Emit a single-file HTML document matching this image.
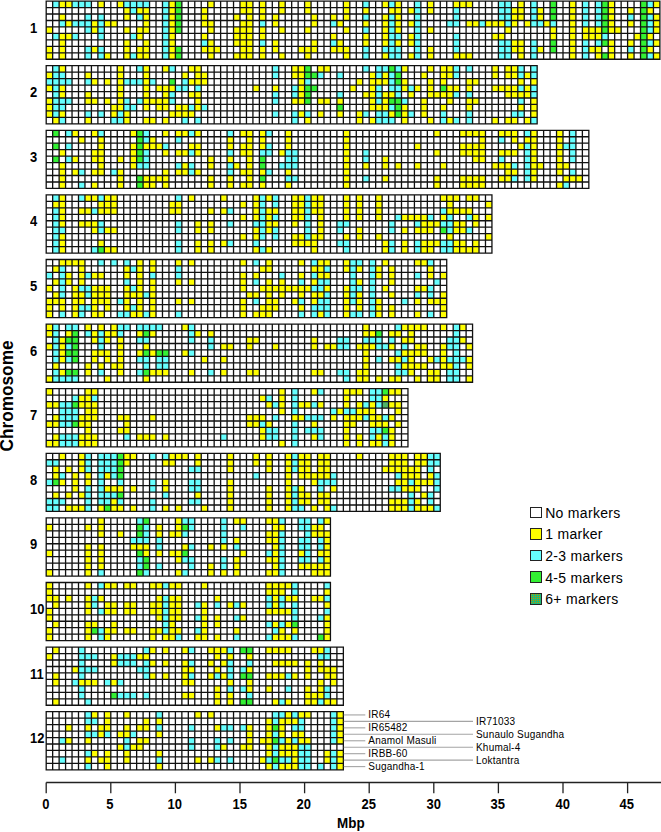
<!DOCTYPE html>
<html><head><meta charset="utf-8">
<style>
html,body{margin:0;padding:0;background:#fff;}
body{width:661px;height:832px;position:relative;overflow:hidden;font-family:"Liberation Sans",sans-serif;color:#000;}
.t{position:absolute;white-space:nowrap;line-height:1;}
.b{font-weight:bold;}
.ch{position:absolute;left:29.7px;font-weight:bold;font-size:13.8px;line-height:1;transform:scaleX(0.94);transform-origin:0 0;white-space:nowrap;}
.ax{position:absolute;top:797.5px;font-weight:bold;font-size:13.8px;line-height:1;width:40px;margin-left:-20px;text-align:center;white-space:nowrap;}
.ax span{display:inline-block;transform:scaleX(0.94);}
.lg{position:absolute;left:545.2px;font-size:14px;letter-spacing:0.3px;line-height:1;white-space:nowrap;}
.lb{position:absolute;left:530.1px;width:9.8px;height:9.6px;border:1px solid #222;}
.v{position:absolute;font-size:10px;letter-spacing:0.2px;line-height:1;white-space:nowrap;}
</style></head><body>
<svg width="661" height="832" viewBox="0 0 661 832" style="position:absolute;left:0;top:0">
<defs><pattern id="dp" width="2" height="2" patternUnits="userSpaceOnUse"><rect width="2" height="2" fill="#2dbd8a"/><rect x="0.5" y="0.5" width="1" height="1" fill="#b89b00"/></pattern><pattern id="dp2" width="2" height="2" patternUnits="userSpaceOnUse"><rect width="2" height="2" fill="#20b876"/><rect x="0" y="0" width="1" height="1" fill="#b39a00"/></pattern></defs>
<g transform="translate(46.2,1.10)">
<rect x="0" y="0" width="613.70" height="58.14" fill="#fff"/>
<rect x="6.46" y="0.00" width="6.46" height="6.46" fill="#66ffff"/>
<rect x="12.92" y="0.00" width="12.92" height="6.46" fill="#ffff00"/>
<rect x="25.84" y="0.00" width="19.38" height="6.46" fill="#66ffff"/>
<rect x="51.68" y="0.00" width="6.46" height="6.46" fill="#ffff00"/>
<rect x="71.06" y="0.00" width="6.46" height="6.46" fill="#ffff00"/>
<rect x="77.52" y="0.00" width="25.84" height="6.46" fill="#66ffff"/>
<rect x="116.28" y="0.00" width="6.46" height="6.46" fill="#66ffff"/>
<rect x="122.74" y="0.00" width="6.46" height="6.46" fill="#ffff00"/>
<rect x="129.20" y="0.00" width="6.46" height="6.46" fill="#33f033"/>
<rect x="161.50" y="0.00" width="6.46" height="6.46" fill="#ffff00"/>
<rect x="193.80" y="0.00" width="12.92" height="6.46" fill="#ffff00"/>
<rect x="213.18" y="0.00" width="6.46" height="6.46" fill="#ffff00"/>
<rect x="232.56" y="0.00" width="6.46" height="6.46" fill="#ffff00"/>
<rect x="258.40" y="0.00" width="6.46" height="6.46" fill="#ffff00"/>
<rect x="297.16" y="0.00" width="6.46" height="6.46" fill="#ffff00"/>
<rect x="316.54" y="0.00" width="6.46" height="6.46" fill="#66ffff"/>
<rect x="335.92" y="0.00" width="6.46" height="6.46" fill="#ffff00"/>
<rect x="342.38" y="0.00" width="6.46" height="6.46" fill="#66ffff"/>
<rect x="348.84" y="0.00" width="6.46" height="6.46" fill="#ffff00"/>
<rect x="368.22" y="0.00" width="6.46" height="6.46" fill="#66ffff"/>
<rect x="381.14" y="0.00" width="6.46" height="6.46" fill="#ffff00"/>
<rect x="406.98" y="0.00" width="19.38" height="6.46" fill="#ffff00"/>
<rect x="452.20" y="0.00" width="12.92" height="6.46" fill="#66ffff"/>
<rect x="471.58" y="0.00" width="6.46" height="6.46" fill="#ffff00"/>
<rect x="484.50" y="0.00" width="6.46" height="6.46" fill="#66ffff"/>
<rect x="503.88" y="0.00" width="6.46" height="6.46" fill="#33f033"/>
<rect x="523.26" y="0.00" width="6.46" height="6.46" fill="#ffff00"/>
<rect x="536.18" y="0.00" width="6.46" height="6.46" fill="#66ffff"/>
<rect x="549.10" y="0.00" width="6.46" height="6.46" fill="#66ffff"/>
<rect x="555.56" y="0.00" width="6.46" height="6.46" fill="#33f033"/>
<rect x="562.02" y="0.00" width="6.46" height="6.46" fill="#ffff00"/>
<rect x="594.32" y="0.00" width="6.46" height="6.46" fill="#33f033"/>
<rect x="600.78" y="0.00" width="6.46" height="6.46" fill="#66ffff"/>
<rect x="607.24" y="0.00" width="6.46" height="6.46" fill="#ffff00"/>
<rect x="77.52" y="6.46" width="6.46" height="6.46" fill="#ffff00"/>
<rect x="83.98" y="6.46" width="6.46" height="6.46" fill="#66ffff"/>
<rect x="90.44" y="6.46" width="12.92" height="6.46" fill="#ffff00"/>
<rect x="116.28" y="6.46" width="6.46" height="6.46" fill="#66ffff"/>
<rect x="122.74" y="6.46" width="6.46" height="6.46" fill="#ffff00"/>
<rect x="129.20" y="6.46" width="6.46" height="6.46" fill="#33f033"/>
<rect x="155.04" y="6.46" width="6.46" height="6.46" fill="#ffff00"/>
<rect x="193.80" y="6.46" width="12.92" height="6.46" fill="#ffff00"/>
<rect x="213.18" y="6.46" width="6.46" height="6.46" fill="#ffff00"/>
<rect x="232.56" y="6.46" width="6.46" height="6.46" fill="#ffff00"/>
<rect x="258.40" y="6.46" width="6.46" height="6.46" fill="#ffff00"/>
<rect x="297.16" y="6.46" width="6.46" height="6.46" fill="#ffff00"/>
<rect x="316.54" y="6.46" width="6.46" height="6.46" fill="#ffff00"/>
<rect x="342.38" y="6.46" width="12.92" height="6.46" fill="#ffff00"/>
<rect x="361.76" y="6.46" width="6.46" height="6.46" fill="#ffff00"/>
<rect x="368.22" y="6.46" width="6.46" height="6.46" fill="#66ffff"/>
<rect x="381.14" y="6.46" width="6.46" height="6.46" fill="#ffff00"/>
<rect x="406.98" y="6.46" width="6.46" height="6.46" fill="#66ffff"/>
<rect x="452.20" y="6.46" width="12.92" height="6.46" fill="#66ffff"/>
<rect x="465.12" y="6.46" width="12.92" height="6.46" fill="#ffff00"/>
<rect x="484.50" y="6.46" width="6.46" height="6.46" fill="#66ffff"/>
<rect x="490.96" y="6.46" width="6.46" height="6.46" fill="#ffff00"/>
<rect x="503.88" y="6.46" width="6.46" height="6.46" fill="#33f033"/>
<rect x="523.26" y="6.46" width="6.46" height="6.46" fill="#ffff00"/>
<rect x="536.18" y="6.46" width="6.46" height="6.46" fill="#66ffff"/>
<rect x="549.10" y="6.46" width="6.46" height="6.46" fill="#66ffff"/>
<rect x="555.56" y="6.46" width="6.46" height="6.46" fill="#33f033"/>
<rect x="562.02" y="6.46" width="6.46" height="6.46" fill="#ffff00"/>
<rect x="581.40" y="6.46" width="6.46" height="6.46" fill="#ffff00"/>
<rect x="594.32" y="6.46" width="6.46" height="6.46" fill="#33f033"/>
<rect x="600.78" y="6.46" width="6.46" height="6.46" fill="#ffff00"/>
<rect x="12.92" y="12.92" width="6.46" height="6.46" fill="#ffff00"/>
<rect x="38.76" y="12.92" width="6.46" height="6.46" fill="#66ffff"/>
<rect x="51.68" y="12.92" width="6.46" height="6.46" fill="#66ffff"/>
<rect x="77.52" y="12.92" width="6.46" height="6.46" fill="#ffff00"/>
<rect x="90.44" y="12.92" width="6.46" height="6.46" fill="#66ffff"/>
<rect x="96.90" y="12.92" width="6.46" height="6.46" fill="#ffff00"/>
<rect x="116.28" y="12.92" width="6.46" height="6.46" fill="#66ffff"/>
<rect x="122.74" y="12.92" width="6.46" height="6.46" fill="#ffff00"/>
<rect x="129.20" y="12.92" width="6.46" height="6.46" fill="#33f033"/>
<rect x="155.04" y="12.92" width="6.46" height="6.46" fill="#ffff00"/>
<rect x="187.34" y="12.92" width="6.46" height="6.46" fill="#ffff00"/>
<rect x="200.26" y="12.92" width="6.46" height="6.46" fill="#ffff00"/>
<rect x="213.18" y="12.92" width="6.46" height="6.46" fill="#ffff00"/>
<rect x="226.10" y="12.92" width="6.46" height="6.46" fill="#ffff00"/>
<rect x="264.86" y="12.92" width="6.46" height="6.46" fill="#ffff00"/>
<rect x="284.24" y="12.92" width="6.46" height="6.46" fill="#ffff00"/>
<rect x="297.16" y="12.92" width="6.46" height="6.46" fill="#ffff00"/>
<rect x="316.54" y="12.92" width="6.46" height="6.46" fill="#66ffff"/>
<rect x="335.92" y="12.92" width="6.46" height="6.46" fill="#ffff00"/>
<rect x="342.38" y="12.92" width="6.46" height="6.46" fill="#66ffff"/>
<rect x="348.84" y="12.92" width="6.46" height="6.46" fill="#ffff00"/>
<rect x="368.22" y="12.92" width="6.46" height="6.46" fill="#66ffff"/>
<rect x="406.98" y="12.92" width="6.46" height="6.46" fill="#66ffff"/>
<rect x="452.20" y="12.92" width="12.92" height="6.46" fill="#66ffff"/>
<rect x="465.12" y="12.92" width="12.92" height="6.46" fill="#ffff00"/>
<rect x="484.50" y="12.92" width="6.46" height="6.46" fill="#66ffff"/>
<rect x="490.96" y="12.92" width="6.46" height="6.46" fill="#ffff00"/>
<rect x="503.88" y="12.92" width="6.46" height="6.46" fill="#33f033"/>
<rect x="523.26" y="12.92" width="6.46" height="6.46" fill="#ffff00"/>
<rect x="536.18" y="12.92" width="6.46" height="6.46" fill="#66ffff"/>
<rect x="549.10" y="12.92" width="6.46" height="6.46" fill="#66ffff"/>
<rect x="555.56" y="12.92" width="6.46" height="6.46" fill="#33f033"/>
<rect x="562.02" y="12.92" width="6.46" height="6.46" fill="#ffff00"/>
<rect x="581.40" y="12.92" width="6.46" height="6.46" fill="#66ffff"/>
<rect x="594.32" y="12.92" width="6.46" height="6.46" fill="#33f033"/>
<rect x="600.78" y="12.92" width="6.46" height="6.46" fill="#66ffff"/>
<rect x="607.24" y="12.92" width="6.46" height="6.46" fill="#ffff00"/>
<rect x="12.92" y="19.38" width="6.46" height="6.46" fill="#66ffff"/>
<rect x="19.38" y="19.38" width="6.46" height="6.46" fill="#ffff00"/>
<rect x="25.84" y="19.38" width="19.38" height="6.46" fill="#66ffff"/>
<rect x="45.22" y="19.38" width="6.46" height="6.46" fill="#ffff00"/>
<rect x="51.68" y="19.38" width="6.46" height="6.46" fill="#66ffff"/>
<rect x="58.14" y="19.38" width="12.92" height="6.46" fill="#ffff00"/>
<rect x="96.90" y="19.38" width="6.46" height="6.46" fill="#ffff00"/>
<rect x="116.28" y="19.38" width="6.46" height="6.46" fill="#66ffff"/>
<rect x="122.74" y="19.38" width="6.46" height="6.46" fill="#ffff00"/>
<rect x="129.20" y="19.38" width="6.46" height="6.46" fill="#33f033"/>
<rect x="155.04" y="19.38" width="12.92" height="6.46" fill="#ffff00"/>
<rect x="193.80" y="19.38" width="12.92" height="6.46" fill="#ffff00"/>
<rect x="213.18" y="19.38" width="6.46" height="6.46" fill="#66ffff"/>
<rect x="226.10" y="19.38" width="6.46" height="6.46" fill="#ffff00"/>
<rect x="264.86" y="19.38" width="6.46" height="6.46" fill="#ffff00"/>
<rect x="284.24" y="19.38" width="6.46" height="6.46" fill="#66ffff"/>
<rect x="290.70" y="19.38" width="6.46" height="6.46" fill="#ffff00"/>
<rect x="316.54" y="19.38" width="6.46" height="6.46" fill="#ffff00"/>
<rect x="335.92" y="19.38" width="6.46" height="6.46" fill="#ffff00"/>
<rect x="342.38" y="19.38" width="6.46" height="6.46" fill="#66ffff"/>
<rect x="348.84" y="19.38" width="6.46" height="6.46" fill="#ffff00"/>
<rect x="361.76" y="19.38" width="6.46" height="6.46" fill="#ffff00"/>
<rect x="368.22" y="19.38" width="6.46" height="6.46" fill="#66ffff"/>
<rect x="400.52" y="19.38" width="12.92" height="6.46" fill="#66ffff"/>
<rect x="419.90" y="19.38" width="12.92" height="6.46" fill="#ffff00"/>
<rect x="432.82" y="19.38" width="6.46" height="6.46" fill="#66ffff"/>
<rect x="439.28" y="19.38" width="19.38" height="6.46" fill="#ffff00"/>
<rect x="458.66" y="19.38" width="6.46" height="6.46" fill="#66ffff"/>
<rect x="465.12" y="19.38" width="6.46" height="6.46" fill="#ffff00"/>
<rect x="478.04" y="19.38" width="6.46" height="6.46" fill="#ffff00"/>
<rect x="484.50" y="19.38" width="12.92" height="6.46" fill="#66ffff"/>
<rect x="497.42" y="19.38" width="6.46" height="6.46" fill="#ffff00"/>
<rect x="503.88" y="19.38" width="6.46" height="6.46" fill="#66ffff"/>
<rect x="523.26" y="19.38" width="6.46" height="6.46" fill="#ffff00"/>
<rect x="536.18" y="19.38" width="6.46" height="6.46" fill="#66ffff"/>
<rect x="549.10" y="19.38" width="6.46" height="6.46" fill="#66ffff"/>
<rect x="555.56" y="19.38" width="6.46" height="6.46" fill="#33f033"/>
<rect x="562.02" y="19.38" width="6.46" height="6.46" fill="#ffff00"/>
<rect x="581.40" y="19.38" width="6.46" height="6.46" fill="#ffff00"/>
<rect x="594.32" y="19.38" width="6.46" height="6.46" fill="#33f033"/>
<rect x="600.78" y="19.38" width="6.46" height="6.46" fill="#66ffff"/>
<rect x="607.24" y="19.38" width="6.46" height="6.46" fill="#ffff00"/>
<rect x="0.00" y="25.84" width="6.46" height="6.46" fill="#ffff00"/>
<rect x="38.76" y="25.84" width="6.46" height="6.46" fill="#66ffff"/>
<rect x="45.22" y="25.84" width="6.46" height="6.46" fill="#ffff00"/>
<rect x="51.68" y="25.84" width="6.46" height="6.46" fill="#66ffff"/>
<rect x="77.52" y="25.84" width="6.46" height="6.46" fill="#ffff00"/>
<rect x="90.44" y="25.84" width="12.92" height="6.46" fill="#ffff00"/>
<rect x="116.28" y="25.84" width="6.46" height="6.46" fill="#66ffff"/>
<rect x="122.74" y="25.84" width="6.46" height="6.46" fill="#ffff00"/>
<rect x="129.20" y="25.84" width="6.46" height="6.46" fill="#33f033"/>
<rect x="161.50" y="25.84" width="6.46" height="6.46" fill="#ffff00"/>
<rect x="187.34" y="25.84" width="19.38" height="6.46" fill="#ffff00"/>
<rect x="213.18" y="25.84" width="6.46" height="6.46" fill="#ffff00"/>
<rect x="232.56" y="25.84" width="6.46" height="6.46" fill="#ffff00"/>
<rect x="258.40" y="25.84" width="6.46" height="6.46" fill="#ffff00"/>
<rect x="297.16" y="25.84" width="6.46" height="6.46" fill="#ffff00"/>
<rect x="316.54" y="25.84" width="6.46" height="6.46" fill="#66ffff"/>
<rect x="335.92" y="25.84" width="6.46" height="6.46" fill="#ffff00"/>
<rect x="342.38" y="25.84" width="6.46" height="6.46" fill="#66ffff"/>
<rect x="348.84" y="25.84" width="6.46" height="6.46" fill="#ffff00"/>
<rect x="368.22" y="25.84" width="6.46" height="6.46" fill="#66ffff"/>
<rect x="381.14" y="25.84" width="6.46" height="6.46" fill="#ffff00"/>
<rect x="458.66" y="25.84" width="6.46" height="6.46" fill="#ffff00"/>
<rect x="503.88" y="25.84" width="6.46" height="6.46" fill="#ffff00"/>
<rect x="523.26" y="25.84" width="6.46" height="6.46" fill="#ffff00"/>
<rect x="536.18" y="25.84" width="19.38" height="6.46" fill="#ffff00"/>
<rect x="555.56" y="25.84" width="6.46" height="6.46" fill="#33f033"/>
<rect x="562.02" y="25.84" width="12.92" height="6.46" fill="#ffff00"/>
<rect x="594.32" y="25.84" width="6.46" height="6.46" fill="#33f033"/>
<rect x="600.78" y="25.84" width="6.46" height="6.46" fill="#66ffff"/>
<rect x="607.24" y="25.84" width="6.46" height="6.46" fill="#ffff00"/>
<rect x="6.46" y="32.30" width="6.46" height="6.46" fill="#66ffff"/>
<rect x="12.92" y="32.30" width="12.92" height="6.46" fill="#ffff00"/>
<rect x="25.84" y="32.30" width="6.46" height="6.46" fill="#66ffff"/>
<rect x="51.68" y="32.30" width="6.46" height="6.46" fill="#66ffff"/>
<rect x="83.98" y="32.30" width="6.46" height="6.46" fill="#66ffff"/>
<rect x="90.44" y="32.30" width="6.46" height="6.46" fill="#ffff00"/>
<rect x="116.28" y="32.30" width="6.46" height="6.46" fill="#66ffff"/>
<rect x="122.74" y="32.30" width="6.46" height="6.46" fill="#ffff00"/>
<rect x="155.04" y="32.30" width="6.46" height="6.46" fill="#ffff00"/>
<rect x="187.34" y="32.30" width="19.38" height="6.46" fill="#ffff00"/>
<rect x="213.18" y="32.30" width="6.46" height="6.46" fill="#ffff00"/>
<rect x="284.24" y="32.30" width="6.46" height="6.46" fill="#ffff00"/>
<rect x="316.54" y="32.30" width="6.46" height="6.46" fill="#ffff00"/>
<rect x="335.92" y="32.30" width="6.46" height="6.46" fill="#ffff00"/>
<rect x="342.38" y="32.30" width="12.92" height="6.46" fill="#66ffff"/>
<rect x="361.76" y="32.30" width="6.46" height="6.46" fill="#ffff00"/>
<rect x="368.22" y="32.30" width="6.46" height="6.46" fill="#66ffff"/>
<rect x="406.98" y="32.30" width="6.46" height="6.46" fill="#66ffff"/>
<rect x="445.74" y="32.30" width="12.92" height="6.46" fill="#ffff00"/>
<rect x="503.88" y="32.30" width="6.46" height="6.46" fill="#ffff00"/>
<rect x="523.26" y="32.30" width="6.46" height="6.46" fill="#ffff00"/>
<rect x="536.18" y="32.30" width="19.38" height="6.46" fill="#ffff00"/>
<rect x="555.56" y="32.30" width="6.46" height="6.46" fill="#66ffff"/>
<rect x="587.86" y="32.30" width="6.46" height="6.46" fill="#ffff00"/>
<rect x="594.32" y="32.30" width="6.46" height="6.46" fill="#33f033"/>
<rect x="600.78" y="32.30" width="6.46" height="6.46" fill="#ffff00"/>
<rect x="12.92" y="38.76" width="6.46" height="6.46" fill="#ffff00"/>
<rect x="77.52" y="38.76" width="6.46" height="6.46" fill="#ffff00"/>
<rect x="96.90" y="38.76" width="6.46" height="6.46" fill="#ffff00"/>
<rect x="116.28" y="38.76" width="6.46" height="6.46" fill="#66ffff"/>
<rect x="122.74" y="38.76" width="6.46" height="6.46" fill="#ffff00"/>
<rect x="155.04" y="38.76" width="6.46" height="6.46" fill="#66ffff"/>
<rect x="161.50" y="38.76" width="6.46" height="6.46" fill="#ffff00"/>
<rect x="187.34" y="38.76" width="19.38" height="6.46" fill="#ffff00"/>
<rect x="213.18" y="38.76" width="6.46" height="6.46" fill="#66ffff"/>
<rect x="226.10" y="38.76" width="6.46" height="6.46" fill="#ffff00"/>
<rect x="264.86" y="38.76" width="6.46" height="6.46" fill="#ffff00"/>
<rect x="284.24" y="38.76" width="6.46" height="6.46" fill="#66ffff"/>
<rect x="290.70" y="38.76" width="6.46" height="6.46" fill="#ffff00"/>
<rect x="316.54" y="38.76" width="6.46" height="6.46" fill="#ffff00"/>
<rect x="335.92" y="38.76" width="6.46" height="6.46" fill="#ffff00"/>
<rect x="342.38" y="38.76" width="6.46" height="6.46" fill="#66ffff"/>
<rect x="348.84" y="38.76" width="6.46" height="6.46" fill="#ffff00"/>
<rect x="361.76" y="38.76" width="6.46" height="6.46" fill="#ffff00"/>
<rect x="368.22" y="38.76" width="6.46" height="6.46" fill="#66ffff"/>
<rect x="406.98" y="38.76" width="6.46" height="6.46" fill="#66ffff"/>
<rect x="452.20" y="38.76" width="12.92" height="6.46" fill="#66ffff"/>
<rect x="465.12" y="38.76" width="12.92" height="6.46" fill="#ffff00"/>
<rect x="484.50" y="38.76" width="6.46" height="6.46" fill="#66ffff"/>
<rect x="503.88" y="38.76" width="6.46" height="6.46" fill="#33f033"/>
<rect x="523.26" y="38.76" width="6.46" height="6.46" fill="#ffff00"/>
<rect x="536.18" y="38.76" width="6.46" height="6.46" fill="#66ffff"/>
<rect x="549.10" y="38.76" width="6.46" height="6.46" fill="#66ffff"/>
<rect x="555.56" y="38.76" width="6.46" height="6.46" fill="#33f033"/>
<rect x="562.02" y="38.76" width="6.46" height="6.46" fill="#ffff00"/>
<rect x="581.40" y="38.76" width="6.46" height="6.46" fill="#ffff00"/>
<rect x="594.32" y="38.76" width="6.46" height="6.46" fill="#33f033"/>
<rect x="600.78" y="38.76" width="6.46" height="6.46" fill="#66ffff"/>
<rect x="607.24" y="38.76" width="6.46" height="6.46" fill="#ffff00"/>
<rect x="0.00" y="45.22" width="6.46" height="6.46" fill="#ffff00"/>
<rect x="12.92" y="45.22" width="6.46" height="6.46" fill="#ffff00"/>
<rect x="38.76" y="45.22" width="6.46" height="6.46" fill="#66ffff"/>
<rect x="45.22" y="45.22" width="6.46" height="6.46" fill="#ffff00"/>
<rect x="51.68" y="45.22" width="6.46" height="6.46" fill="#66ffff"/>
<rect x="77.52" y="45.22" width="6.46" height="6.46" fill="#ffff00"/>
<rect x="90.44" y="45.22" width="12.92" height="6.46" fill="#ffff00"/>
<rect x="116.28" y="45.22" width="6.46" height="6.46" fill="#66ffff"/>
<rect x="122.74" y="45.22" width="6.46" height="6.46" fill="#ffff00"/>
<rect x="129.20" y="45.22" width="6.46" height="6.46" fill="#33f033"/>
<rect x="155.04" y="45.22" width="19.38" height="6.46" fill="#ffff00"/>
<rect x="193.80" y="45.22" width="12.92" height="6.46" fill="#ffff00"/>
<rect x="213.18" y="45.22" width="6.46" height="6.46" fill="#ffff00"/>
<rect x="226.10" y="45.22" width="6.46" height="6.46" fill="#ffff00"/>
<rect x="251.94" y="45.22" width="19.38" height="6.46" fill="#ffff00"/>
<rect x="284.24" y="45.22" width="19.38" height="6.46" fill="#ffff00"/>
<rect x="316.54" y="45.22" width="6.46" height="6.46" fill="#66ffff"/>
<rect x="335.92" y="45.22" width="19.38" height="6.46" fill="#66ffff"/>
<rect x="368.22" y="45.22" width="6.46" height="6.46" fill="#66ffff"/>
<rect x="381.14" y="45.22" width="6.46" height="6.46" fill="#ffff00"/>
<rect x="406.98" y="45.22" width="6.46" height="6.46" fill="#66ffff"/>
<rect x="452.20" y="45.22" width="12.92" height="6.46" fill="#66ffff"/>
<rect x="465.12" y="45.22" width="12.92" height="6.46" fill="#ffff00"/>
<rect x="484.50" y="45.22" width="6.46" height="6.46" fill="#66ffff"/>
<rect x="490.96" y="45.22" width="6.46" height="6.46" fill="#ffff00"/>
<rect x="503.88" y="45.22" width="6.46" height="6.46" fill="#33f033"/>
<rect x="523.26" y="45.22" width="6.46" height="6.46" fill="#ffff00"/>
<rect x="536.18" y="45.22" width="6.46" height="6.46" fill="#66ffff"/>
<rect x="542.64" y="45.22" width="12.92" height="6.46" fill="#ffff00"/>
<rect x="562.02" y="45.22" width="6.46" height="6.46" fill="#ffff00"/>
<rect x="581.40" y="45.22" width="6.46" height="6.46" fill="#66ffff"/>
<rect x="594.32" y="45.22" width="6.46" height="6.46" fill="#33f033"/>
<rect x="600.78" y="45.22" width="6.46" height="6.46" fill="#ffff00"/>
<rect x="0.00" y="51.68" width="6.46" height="6.46" fill="#ffff00"/>
<rect x="12.92" y="51.68" width="6.46" height="6.46" fill="#ffff00"/>
<rect x="38.76" y="51.68" width="6.46" height="6.46" fill="#66ffff"/>
<rect x="51.68" y="51.68" width="6.46" height="6.46" fill="#66ffff"/>
<rect x="58.14" y="51.68" width="6.46" height="6.46" fill="#ffff00"/>
<rect x="77.52" y="51.68" width="6.46" height="6.46" fill="#ffff00"/>
<rect x="83.98" y="51.68" width="6.46" height="6.46" fill="#66ffff"/>
<rect x="90.44" y="51.68" width="12.92" height="6.46" fill="#ffff00"/>
<rect x="116.28" y="51.68" width="6.46" height="6.46" fill="#66ffff"/>
<rect x="122.74" y="51.68" width="6.46" height="6.46" fill="#ffff00"/>
<rect x="129.20" y="51.68" width="6.46" height="6.46" fill="#33f033"/>
<rect x="161.50" y="51.68" width="6.46" height="6.46" fill="#ffff00"/>
<rect x="187.34" y="51.68" width="19.38" height="6.46" fill="#ffff00"/>
<rect x="213.18" y="51.68" width="6.46" height="6.46" fill="#ffff00"/>
<rect x="232.56" y="51.68" width="6.46" height="6.46" fill="#ffff00"/>
<rect x="258.40" y="51.68" width="6.46" height="6.46" fill="#ffff00"/>
<rect x="297.16" y="51.68" width="6.46" height="6.46" fill="#ffff00"/>
<rect x="316.54" y="51.68" width="6.46" height="6.46" fill="#66ffff"/>
<rect x="335.92" y="51.68" width="6.46" height="6.46" fill="#ffff00"/>
<rect x="342.38" y="51.68" width="12.92" height="6.46" fill="#66ffff"/>
<rect x="361.76" y="51.68" width="6.46" height="6.46" fill="#ffff00"/>
<rect x="368.22" y="51.68" width="6.46" height="6.46" fill="#66ffff"/>
<rect x="381.14" y="51.68" width="6.46" height="6.46" fill="#ffff00"/>
<rect x="406.98" y="51.68" width="19.38" height="6.46" fill="#ffff00"/>
<rect x="452.20" y="51.68" width="12.92" height="6.46" fill="#66ffff"/>
<rect x="471.58" y="51.68" width="6.46" height="6.46" fill="#ffff00"/>
<rect x="484.50" y="51.68" width="6.46" height="6.46" fill="#66ffff"/>
<rect x="523.26" y="51.68" width="6.46" height="6.46" fill="#ffff00"/>
<rect x="536.18" y="51.68" width="6.46" height="6.46" fill="#66ffff"/>
<rect x="549.10" y="51.68" width="6.46" height="6.46" fill="#ffff00"/>
<rect x="555.56" y="51.68" width="6.46" height="6.46" fill="#33f033"/>
<rect x="562.02" y="51.68" width="6.46" height="6.46" fill="#ffff00"/>
<rect x="581.40" y="51.68" width="6.46" height="6.46" fill="#ffff00"/>
<rect x="594.32" y="51.68" width="6.46" height="6.46" fill="#33f033"/>
<rect x="600.78" y="51.68" width="6.46" height="6.46" fill="#66ffff"/>
<rect x="607.24" y="51.68" width="6.46" height="6.46" fill="#ffff00"/>
<path d="M0.00 0V58.14M6.46 0V58.14M12.92 0V58.14M19.38 0V58.14M25.84 0V58.14M32.30 0V58.14M38.76 0V58.14M45.22 0V58.14M51.68 0V58.14M58.14 0V58.14M64.60 0V58.14M71.06 0V58.14M77.52 0V58.14M83.98 0V58.14M90.44 0V58.14M96.90 0V58.14M103.36 0V58.14M109.82 0V58.14M116.28 0V58.14M122.74 0V58.14M129.20 0V58.14M135.66 0V58.14M142.12 0V58.14M148.58 0V58.14M155.04 0V58.14M161.50 0V58.14M167.96 0V58.14M174.42 0V58.14M180.88 0V58.14M187.34 0V58.14M193.80 0V58.14M200.26 0V58.14M206.72 0V58.14M213.18 0V58.14M219.64 0V58.14M226.10 0V58.14M232.56 0V58.14M239.02 0V58.14M245.48 0V58.14M251.94 0V58.14M258.40 0V58.14M264.86 0V58.14M271.32 0V58.14M277.78 0V58.14M284.24 0V58.14M290.70 0V58.14M297.16 0V58.14M303.62 0V58.14M310.08 0V58.14M316.54 0V58.14M323.00 0V58.14M329.46 0V58.14M335.92 0V58.14M342.38 0V58.14M348.84 0V58.14M355.30 0V58.14M361.76 0V58.14M368.22 0V58.14M374.68 0V58.14M381.14 0V58.14M387.60 0V58.14M394.06 0V58.14M400.52 0V58.14M406.98 0V58.14M413.44 0V58.14M419.90 0V58.14M426.36 0V58.14M432.82 0V58.14M439.28 0V58.14M445.74 0V58.14M452.20 0V58.14M458.66 0V58.14M465.12 0V58.14M471.58 0V58.14M478.04 0V58.14M484.50 0V58.14M490.96 0V58.14M497.42 0V58.14M503.88 0V58.14M510.34 0V58.14M516.80 0V58.14M523.26 0V58.14M529.72 0V58.14M536.18 0V58.14M542.64 0V58.14M549.10 0V58.14M555.56 0V58.14M562.02 0V58.14M568.48 0V58.14M574.94 0V58.14M581.40 0V58.14M587.86 0V58.14M594.32 0V58.14M600.78 0V58.14M607.24 0V58.14M613.70 0V58.14M0 0.00H613.70M0 6.46H613.70M0 12.92H613.70M0 19.38H613.70M0 25.84H613.70M0 32.30H613.70M0 38.76H613.70M0 45.22H613.70M0 51.68H613.70M0 58.14H613.70" stroke="#111" stroke-width="1.3" fill="none" stroke-linecap="square"/>
</g>
<g transform="translate(46.2,65.70)">
<rect x="0" y="0" width="490.96" height="58.14" fill="#fff"/>
<rect x="6.46" y="0.00" width="6.46" height="6.46" fill="#66ffff"/>
<rect x="12.92" y="0.00" width="6.46" height="6.46" fill="#ffff00"/>
<rect x="71.06" y="0.00" width="6.46" height="6.46" fill="#ffff00"/>
<rect x="90.44" y="0.00" width="6.46" height="6.46" fill="#66ffff"/>
<rect x="96.90" y="0.00" width="6.46" height="6.46" fill="#ffff00"/>
<rect x="116.28" y="0.00" width="6.46" height="6.46" fill="#ffff00"/>
<rect x="122.74" y="0.00" width="6.46" height="6.46" fill="#66ffff"/>
<rect x="142.12" y="0.00" width="12.92" height="6.46" fill="#ffff00"/>
<rect x="226.10" y="0.00" width="6.46" height="6.46" fill="#66ffff"/>
<rect x="245.48" y="0.00" width="12.92" height="6.46" fill="#ffff00"/>
<rect x="258.40" y="0.00" width="6.46" height="6.46" fill="#33f033"/>
<rect x="271.32" y="0.00" width="12.92" height="6.46" fill="#ffff00"/>
<rect x="316.54" y="0.00" width="6.46" height="6.46" fill="#66ffff"/>
<rect x="329.46" y="0.00" width="12.92" height="6.46" fill="#66ffff"/>
<rect x="342.38" y="0.00" width="6.46" height="6.46" fill="#33f033"/>
<rect x="348.84" y="0.00" width="6.46" height="6.46" fill="#66ffff"/>
<rect x="355.30" y="0.00" width="6.46" height="6.46" fill="#ffff00"/>
<rect x="381.14" y="0.00" width="6.46" height="6.46" fill="#ffff00"/>
<rect x="394.06" y="0.00" width="12.92" height="6.46" fill="#ffff00"/>
<rect x="406.98" y="0.00" width="6.46" height="6.46" fill="#66ffff"/>
<rect x="419.90" y="0.00" width="6.46" height="6.46" fill="#66ffff"/>
<rect x="445.74" y="0.00" width="6.46" height="6.46" fill="#ffff00"/>
<rect x="458.66" y="0.00" width="12.92" height="6.46" fill="#ffff00"/>
<rect x="471.58" y="0.00" width="6.46" height="6.46" fill="#66ffff"/>
<rect x="484.50" y="0.00" width="6.46" height="6.46" fill="#66ffff"/>
<rect x="0.00" y="6.46" width="6.46" height="6.46" fill="#ffff00"/>
<rect x="6.46" y="6.46" width="12.92" height="6.46" fill="#66ffff"/>
<rect x="38.76" y="6.46" width="6.46" height="6.46" fill="#ffff00"/>
<rect x="71.06" y="6.46" width="6.46" height="6.46" fill="#ffff00"/>
<rect x="96.90" y="6.46" width="6.46" height="6.46" fill="#ffff00"/>
<rect x="135.66" y="6.46" width="6.46" height="6.46" fill="#ffff00"/>
<rect x="148.58" y="6.46" width="12.92" height="6.46" fill="#ffff00"/>
<rect x="226.10" y="6.46" width="6.46" height="6.46" fill="#66ffff"/>
<rect x="245.48" y="6.46" width="12.92" height="6.46" fill="#ffff00"/>
<rect x="258.40" y="6.46" width="12.92" height="6.46" fill="#33f033"/>
<rect x="271.32" y="6.46" width="6.46" height="6.46" fill="#66ffff"/>
<rect x="290.70" y="6.46" width="6.46" height="6.46" fill="#66ffff"/>
<rect x="323.00" y="6.46" width="6.46" height="6.46" fill="#ffff00"/>
<rect x="329.46" y="6.46" width="6.46" height="6.46" fill="#66ffff"/>
<rect x="335.92" y="6.46" width="6.46" height="6.46" fill="#ffff00"/>
<rect x="342.38" y="6.46" width="6.46" height="6.46" fill="#66ffff"/>
<rect x="348.84" y="6.46" width="6.46" height="6.46" fill="#33f033"/>
<rect x="374.68" y="6.46" width="6.46" height="6.46" fill="#ffff00"/>
<rect x="394.06" y="6.46" width="12.92" height="6.46" fill="#ffff00"/>
<rect x="406.98" y="6.46" width="6.46" height="6.46" fill="#66ffff"/>
<rect x="445.74" y="6.46" width="6.46" height="6.46" fill="#ffff00"/>
<rect x="458.66" y="6.46" width="12.92" height="6.46" fill="#ffff00"/>
<rect x="471.58" y="6.46" width="6.46" height="6.46" fill="#66ffff"/>
<rect x="478.04" y="6.46" width="6.46" height="6.46" fill="#ffff00"/>
<rect x="484.50" y="6.46" width="6.46" height="6.46" fill="#66ffff"/>
<rect x="0.00" y="12.92" width="25.84" height="6.46" fill="#66ffff"/>
<rect x="38.76" y="12.92" width="6.46" height="6.46" fill="#66ffff"/>
<rect x="45.22" y="12.92" width="6.46" height="6.46" fill="#ffff00"/>
<rect x="58.14" y="12.92" width="6.46" height="6.46" fill="#ffff00"/>
<rect x="71.06" y="12.92" width="6.46" height="6.46" fill="#ffff00"/>
<rect x="77.52" y="12.92" width="19.38" height="6.46" fill="#66ffff"/>
<rect x="96.90" y="12.92" width="6.46" height="6.46" fill="#ffff00"/>
<rect x="103.36" y="12.92" width="6.46" height="6.46" fill="#66ffff"/>
<rect x="122.74" y="12.92" width="6.46" height="6.46" fill="#33f033"/>
<rect x="135.66" y="12.92" width="6.46" height="6.46" fill="#66ffff"/>
<rect x="142.12" y="12.92" width="19.38" height="6.46" fill="#ffff00"/>
<rect x="251.94" y="12.92" width="6.46" height="6.46" fill="#ffff00"/>
<rect x="258.40" y="12.92" width="6.46" height="6.46" fill="#66ffff"/>
<rect x="310.08" y="12.92" width="6.46" height="6.46" fill="#ffff00"/>
<rect x="323.00" y="12.92" width="19.38" height="6.46" fill="#ffff00"/>
<rect x="342.38" y="12.92" width="6.46" height="6.46" fill="#66ffff"/>
<rect x="348.84" y="12.92" width="6.46" height="6.46" fill="#33f033"/>
<rect x="355.30" y="12.92" width="6.46" height="6.46" fill="#ffff00"/>
<rect x="381.14" y="12.92" width="6.46" height="6.46" fill="#ffff00"/>
<rect x="394.06" y="12.92" width="6.46" height="6.46" fill="#ffff00"/>
<rect x="419.90" y="12.92" width="12.92" height="6.46" fill="#ffff00"/>
<rect x="471.58" y="12.92" width="6.46" height="6.46" fill="#ffff00"/>
<rect x="484.50" y="12.92" width="6.46" height="6.46" fill="#ffff00"/>
<rect x="0.00" y="19.38" width="6.46" height="6.46" fill="#ffff00"/>
<rect x="6.46" y="19.38" width="6.46" height="6.46" fill="#66ffff"/>
<rect x="12.92" y="19.38" width="6.46" height="6.46" fill="#ffff00"/>
<rect x="71.06" y="19.38" width="6.46" height="6.46" fill="#ffff00"/>
<rect x="96.90" y="19.38" width="6.46" height="6.46" fill="#ffff00"/>
<rect x="109.82" y="19.38" width="19.38" height="6.46" fill="#ffff00"/>
<rect x="129.20" y="19.38" width="12.92" height="6.46" fill="#66ffff"/>
<rect x="148.58" y="19.38" width="6.46" height="6.46" fill="#66ffff"/>
<rect x="206.72" y="19.38" width="6.46" height="6.46" fill="#ffff00"/>
<rect x="226.10" y="19.38" width="6.46" height="6.46" fill="#ffff00"/>
<rect x="245.48" y="19.38" width="6.46" height="6.46" fill="#66ffff"/>
<rect x="251.94" y="19.38" width="6.46" height="6.46" fill="#ffff00"/>
<rect x="258.40" y="19.38" width="12.92" height="6.46" fill="#33f033"/>
<rect x="303.62" y="19.38" width="6.46" height="6.46" fill="#ffff00"/>
<rect x="323.00" y="19.38" width="6.46" height="6.46" fill="#ffff00"/>
<rect x="329.46" y="19.38" width="6.46" height="6.46" fill="#66ffff"/>
<rect x="342.38" y="19.38" width="12.92" height="6.46" fill="#66ffff"/>
<rect x="355.30" y="19.38" width="6.46" height="6.46" fill="#ffff00"/>
<rect x="361.76" y="19.38" width="6.46" height="6.46" fill="#66ffff"/>
<rect x="368.22" y="19.38" width="6.46" height="6.46" fill="#ffff00"/>
<rect x="381.14" y="19.38" width="6.46" height="6.46" fill="#ffff00"/>
<rect x="394.06" y="19.38" width="6.46" height="6.46" fill="#33f033"/>
<rect x="400.52" y="19.38" width="12.92" height="6.46" fill="#ffff00"/>
<rect x="419.90" y="19.38" width="6.46" height="6.46" fill="#ffff00"/>
<rect x="445.74" y="19.38" width="25.84" height="6.46" fill="#ffff00"/>
<rect x="471.58" y="19.38" width="6.46" height="6.46" fill="#66ffff"/>
<rect x="478.04" y="19.38" width="6.46" height="6.46" fill="#ffff00"/>
<rect x="484.50" y="19.38" width="6.46" height="6.46" fill="#66ffff"/>
<rect x="6.46" y="25.84" width="6.46" height="6.46" fill="#66ffff"/>
<rect x="12.92" y="25.84" width="6.46" height="6.46" fill="#ffff00"/>
<rect x="38.76" y="25.84" width="6.46" height="6.46" fill="#ffff00"/>
<rect x="71.06" y="25.84" width="6.46" height="6.46" fill="#ffff00"/>
<rect x="96.90" y="25.84" width="6.46" height="6.46" fill="#ffff00"/>
<rect x="116.28" y="25.84" width="6.46" height="6.46" fill="#ffff00"/>
<rect x="122.74" y="25.84" width="6.46" height="6.46" fill="#66ffff"/>
<rect x="142.12" y="25.84" width="12.92" height="6.46" fill="#ffff00"/>
<rect x="226.10" y="25.84" width="6.46" height="6.46" fill="#66ffff"/>
<rect x="245.48" y="25.84" width="6.46" height="6.46" fill="#66ffff"/>
<rect x="251.94" y="25.84" width="6.46" height="6.46" fill="#ffff00"/>
<rect x="258.40" y="25.84" width="6.46" height="6.46" fill="#33f033"/>
<rect x="290.70" y="25.84" width="6.46" height="6.46" fill="#66ffff"/>
<rect x="316.54" y="25.84" width="12.92" height="6.46" fill="#ffff00"/>
<rect x="329.46" y="25.84" width="6.46" height="6.46" fill="#66ffff"/>
<rect x="335.92" y="25.84" width="12.92" height="6.46" fill="#ffff00"/>
<rect x="348.84" y="25.84" width="6.46" height="6.46" fill="#66ffff"/>
<rect x="361.76" y="25.84" width="6.46" height="6.46" fill="#ffff00"/>
<rect x="381.14" y="25.84" width="25.84" height="6.46" fill="#ffff00"/>
<rect x="406.98" y="25.84" width="6.46" height="6.46" fill="#66ffff"/>
<rect x="419.90" y="25.84" width="6.46" height="6.46" fill="#66ffff"/>
<rect x="458.66" y="25.84" width="25.84" height="6.46" fill="#ffff00"/>
<rect x="484.50" y="25.84" width="6.46" height="6.46" fill="#66ffff"/>
<rect x="0.00" y="32.30" width="6.46" height="6.46" fill="#ffff00"/>
<rect x="6.46" y="32.30" width="19.38" height="6.46" fill="#66ffff"/>
<rect x="38.76" y="32.30" width="12.92" height="6.46" fill="#ffff00"/>
<rect x="58.14" y="32.30" width="6.46" height="6.46" fill="#ffff00"/>
<rect x="71.06" y="32.30" width="6.46" height="6.46" fill="#ffff00"/>
<rect x="77.52" y="32.30" width="6.46" height="6.46" fill="#66ffff"/>
<rect x="90.44" y="32.30" width="6.46" height="6.46" fill="#66ffff"/>
<rect x="96.90" y="32.30" width="25.84" height="6.46" fill="#ffff00"/>
<rect x="122.74" y="32.30" width="6.46" height="6.46" fill="#66ffff"/>
<rect x="148.58" y="32.30" width="6.46" height="6.46" fill="#ffff00"/>
<rect x="226.10" y="32.30" width="6.46" height="6.46" fill="#66ffff"/>
<rect x="245.48" y="32.30" width="12.92" height="6.46" fill="#ffff00"/>
<rect x="258.40" y="32.30" width="6.46" height="6.46" fill="#33f033"/>
<rect x="271.32" y="32.30" width="12.92" height="6.46" fill="#ffff00"/>
<rect x="290.70" y="32.30" width="6.46" height="6.46" fill="#ffff00"/>
<rect x="323.00" y="32.30" width="6.46" height="6.46" fill="#ffff00"/>
<rect x="329.46" y="32.30" width="6.46" height="6.46" fill="#66ffff"/>
<rect x="335.92" y="32.30" width="6.46" height="6.46" fill="#ffff00"/>
<rect x="342.38" y="32.30" width="12.92" height="6.46" fill="#33f033"/>
<rect x="355.30" y="32.30" width="6.46" height="6.46" fill="#66ffff"/>
<rect x="374.68" y="32.30" width="6.46" height="6.46" fill="#ffff00"/>
<rect x="400.52" y="32.30" width="6.46" height="6.46" fill="#ffff00"/>
<rect x="419.90" y="32.30" width="12.92" height="6.46" fill="#ffff00"/>
<rect x="471.58" y="32.30" width="6.46" height="6.46" fill="#66ffff"/>
<rect x="484.50" y="32.30" width="6.46" height="6.46" fill="#ffff00"/>
<rect x="0.00" y="38.76" width="6.46" height="6.46" fill="#ffff00"/>
<rect x="6.46" y="38.76" width="12.92" height="6.46" fill="#66ffff"/>
<rect x="64.60" y="38.76" width="12.92" height="6.46" fill="#ffff00"/>
<rect x="77.52" y="38.76" width="12.92" height="6.46" fill="#66ffff"/>
<rect x="96.90" y="38.76" width="6.46" height="6.46" fill="#ffff00"/>
<rect x="109.82" y="38.76" width="12.92" height="6.46" fill="#ffff00"/>
<rect x="129.20" y="38.76" width="12.92" height="6.46" fill="#ffff00"/>
<rect x="142.12" y="38.76" width="6.46" height="6.46" fill="#66ffff"/>
<rect x="148.58" y="38.76" width="6.46" height="6.46" fill="#ffff00"/>
<rect x="155.04" y="38.76" width="6.46" height="6.46" fill="#66ffff"/>
<rect x="290.70" y="38.76" width="6.46" height="6.46" fill="#33f033"/>
<rect x="323.00" y="38.76" width="19.38" height="6.46" fill="#ffff00"/>
<rect x="342.38" y="38.76" width="6.46" height="6.46" fill="#66ffff"/>
<rect x="348.84" y="38.76" width="6.46" height="6.46" fill="#33f033"/>
<rect x="355.30" y="38.76" width="6.46" height="6.46" fill="#ffff00"/>
<rect x="374.68" y="38.76" width="6.46" height="6.46" fill="#ffff00"/>
<rect x="394.06" y="38.76" width="6.46" height="6.46" fill="#ffff00"/>
<rect x="419.90" y="38.76" width="6.46" height="6.46" fill="#ffff00"/>
<rect x="471.58" y="38.76" width="6.46" height="6.46" fill="#ffff00"/>
<rect x="484.50" y="38.76" width="6.46" height="6.46" fill="#ffff00"/>
<rect x="0.00" y="45.22" width="6.46" height="6.46" fill="#ffff00"/>
<rect x="6.46" y="45.22" width="6.46" height="6.46" fill="#66ffff"/>
<rect x="12.92" y="45.22" width="6.46" height="6.46" fill="#ffff00"/>
<rect x="38.76" y="45.22" width="6.46" height="6.46" fill="#66ffff"/>
<rect x="51.68" y="45.22" width="6.46" height="6.46" fill="#66ffff"/>
<rect x="64.60" y="45.22" width="6.46" height="6.46" fill="#ffff00"/>
<rect x="71.06" y="45.22" width="6.46" height="6.46" fill="#66ffff"/>
<rect x="77.52" y="45.22" width="6.46" height="6.46" fill="#ffff00"/>
<rect x="122.74" y="45.22" width="25.84" height="6.46" fill="#ffff00"/>
<rect x="226.10" y="45.22" width="6.46" height="6.46" fill="#66ffff"/>
<rect x="245.48" y="45.22" width="6.46" height="6.46" fill="#66ffff"/>
<rect x="251.94" y="45.22" width="6.46" height="6.46" fill="#ffff00"/>
<rect x="258.40" y="45.22" width="6.46" height="6.46" fill="#66ffff"/>
<rect x="271.32" y="45.22" width="6.46" height="6.46" fill="#ffff00"/>
<rect x="290.70" y="45.22" width="6.46" height="6.46" fill="#ffff00"/>
<rect x="310.08" y="45.22" width="6.46" height="6.46" fill="#ffff00"/>
<rect x="316.54" y="45.22" width="6.46" height="6.46" fill="#66ffff"/>
<rect x="329.46" y="45.22" width="12.92" height="6.46" fill="#66ffff"/>
<rect x="342.38" y="45.22" width="6.46" height="6.46" fill="#ffff00"/>
<rect x="348.84" y="45.22" width="6.46" height="6.46" fill="#33f033"/>
<rect x="355.30" y="45.22" width="6.46" height="6.46" fill="#ffff00"/>
<rect x="361.76" y="45.22" width="6.46" height="6.46" fill="#66ffff"/>
<rect x="374.68" y="45.22" width="6.46" height="6.46" fill="#ffff00"/>
<rect x="394.06" y="45.22" width="6.46" height="6.46" fill="#66ffff"/>
<rect x="419.90" y="45.22" width="6.46" height="6.46" fill="#66ffff"/>
<rect x="465.12" y="45.22" width="12.92" height="6.46" fill="#66ffff"/>
<rect x="484.50" y="45.22" width="6.46" height="6.46" fill="#ffff00"/>
<rect x="6.46" y="51.68" width="6.46" height="6.46" fill="#ffff00"/>
<rect x="12.92" y="51.68" width="6.46" height="6.46" fill="#66ffff"/>
<rect x="38.76" y="51.68" width="6.46" height="6.46" fill="#ffff00"/>
<rect x="64.60" y="51.68" width="12.92" height="6.46" fill="#66ffff"/>
<rect x="77.52" y="51.68" width="6.46" height="6.46" fill="#ffff00"/>
<rect x="96.90" y="51.68" width="12.92" height="6.46" fill="#ffff00"/>
<rect x="116.28" y="51.68" width="6.46" height="6.46" fill="#ffff00"/>
<rect x="135.66" y="51.68" width="6.46" height="6.46" fill="#66ffff"/>
<rect x="148.58" y="51.68" width="6.46" height="6.46" fill="#66ffff"/>
<rect x="245.48" y="51.68" width="6.46" height="6.46" fill="#66ffff"/>
<rect x="258.40" y="51.68" width="6.46" height="6.46" fill="#ffff00"/>
<rect x="310.08" y="51.68" width="6.46" height="6.46" fill="#ffff00"/>
<rect x="323.00" y="51.68" width="6.46" height="6.46" fill="#ffff00"/>
<rect x="329.46" y="51.68" width="19.38" height="6.46" fill="#66ffff"/>
<rect x="355.30" y="51.68" width="6.46" height="6.46" fill="#ffff00"/>
<rect x="381.14" y="51.68" width="6.46" height="6.46" fill="#ffff00"/>
<rect x="394.06" y="51.68" width="6.46" height="6.46" fill="#66ffff"/>
<rect x="400.52" y="51.68" width="6.46" height="6.46" fill="#ffff00"/>
<rect x="406.98" y="51.68" width="6.46" height="6.46" fill="#66ffff"/>
<rect x="419.90" y="51.68" width="6.46" height="6.46" fill="#66ffff"/>
<rect x="445.74" y="51.68" width="6.46" height="6.46" fill="#ffff00"/>
<rect x="458.66" y="51.68" width="12.92" height="6.46" fill="#ffff00"/>
<rect x="478.04" y="51.68" width="6.46" height="6.46" fill="#ffff00"/>
<rect x="484.50" y="51.68" width="6.46" height="6.46" fill="#66ffff"/>
<path d="M0.00 0V58.14M6.46 0V58.14M12.92 0V58.14M19.38 0V58.14M25.84 0V58.14M32.30 0V58.14M38.76 0V58.14M45.22 0V58.14M51.68 0V58.14M58.14 0V58.14M64.60 0V58.14M71.06 0V58.14M77.52 0V58.14M83.98 0V58.14M90.44 0V58.14M96.90 0V58.14M103.36 0V58.14M109.82 0V58.14M116.28 0V58.14M122.74 0V58.14M129.20 0V58.14M135.66 0V58.14M142.12 0V58.14M148.58 0V58.14M155.04 0V58.14M161.50 0V58.14M167.96 0V58.14M174.42 0V58.14M180.88 0V58.14M187.34 0V58.14M193.80 0V58.14M200.26 0V58.14M206.72 0V58.14M213.18 0V58.14M219.64 0V58.14M226.10 0V58.14M232.56 0V58.14M239.02 0V58.14M245.48 0V58.14M251.94 0V58.14M258.40 0V58.14M264.86 0V58.14M271.32 0V58.14M277.78 0V58.14M284.24 0V58.14M290.70 0V58.14M297.16 0V58.14M303.62 0V58.14M310.08 0V58.14M316.54 0V58.14M323.00 0V58.14M329.46 0V58.14M335.92 0V58.14M342.38 0V58.14M348.84 0V58.14M355.30 0V58.14M361.76 0V58.14M368.22 0V58.14M374.68 0V58.14M381.14 0V58.14M387.60 0V58.14M394.06 0V58.14M400.52 0V58.14M406.98 0V58.14M413.44 0V58.14M419.90 0V58.14M426.36 0V58.14M432.82 0V58.14M439.28 0V58.14M445.74 0V58.14M452.20 0V58.14M458.66 0V58.14M465.12 0V58.14M471.58 0V58.14M478.04 0V58.14M484.50 0V58.14M490.96 0V58.14M0 0.00H490.96M0 6.46H490.96M0 12.92H490.96M0 19.38H490.96M0 25.84H490.96M0 32.30H490.96M0 38.76H490.96M0 45.22H490.96M0 51.68H490.96M0 58.14H490.96" stroke="#111" stroke-width="1.3" fill="none" stroke-linecap="square"/>
</g>
<g transform="translate(46.2,130.30)">
<rect x="0" y="0" width="542.64" height="58.14" fill="#fff"/>
<rect x="6.46" y="0.00" width="6.46" height="6.46" fill="#33f033"/>
<rect x="19.38" y="0.00" width="6.46" height="6.46" fill="#66ffff"/>
<rect x="25.84" y="0.00" width="6.46" height="6.46" fill="#ffff00"/>
<rect x="45.22" y="0.00" width="6.46" height="6.46" fill="#ffff00"/>
<rect x="51.68" y="0.00" width="6.46" height="6.46" fill="#66ffff"/>
<rect x="83.98" y="0.00" width="6.46" height="6.46" fill="#ffff00"/>
<rect x="90.44" y="0.00" width="6.46" height="6.46" fill="#33f033"/>
<rect x="96.90" y="0.00" width="6.46" height="6.46" fill="#66ffff"/>
<rect x="116.28" y="0.00" width="6.46" height="6.46" fill="#ffff00"/>
<rect x="129.20" y="0.00" width="12.92" height="6.46" fill="#ffff00"/>
<rect x="142.12" y="0.00" width="6.46" height="6.46" fill="#66ffff"/>
<rect x="148.58" y="0.00" width="6.46" height="6.46" fill="#ffff00"/>
<rect x="180.88" y="0.00" width="6.46" height="6.46" fill="#66ffff"/>
<rect x="193.80" y="0.00" width="12.92" height="6.46" fill="#ffff00"/>
<rect x="213.18" y="0.00" width="6.46" height="6.46" fill="#ffff00"/>
<rect x="219.64" y="0.00" width="6.46" height="6.46" fill="#66ffff"/>
<rect x="239.02" y="0.00" width="6.46" height="6.46" fill="#ffff00"/>
<rect x="297.16" y="0.00" width="6.46" height="6.46" fill="#ffff00"/>
<rect x="387.60" y="0.00" width="6.46" height="6.46" fill="#ffff00"/>
<rect x="413.44" y="0.00" width="25.84" height="6.46" fill="#ffff00"/>
<rect x="452.20" y="0.00" width="19.38" height="6.46" fill="#ffff00"/>
<rect x="478.04" y="0.00" width="6.46" height="6.46" fill="#66ffff"/>
<rect x="484.50" y="0.00" width="6.46" height="6.46" fill="#ffff00"/>
<rect x="510.34" y="0.00" width="6.46" height="6.46" fill="#ffff00"/>
<rect x="523.26" y="0.00" width="6.46" height="6.46" fill="#66ffff"/>
<rect x="32.30" y="6.46" width="6.46" height="6.46" fill="#ffff00"/>
<rect x="51.68" y="6.46" width="6.46" height="6.46" fill="#ffff00"/>
<rect x="90.44" y="6.46" width="6.46" height="6.46" fill="#33f033"/>
<rect x="96.90" y="6.46" width="6.46" height="6.46" fill="#66ffff"/>
<rect x="103.36" y="6.46" width="6.46" height="6.46" fill="#ffff00"/>
<rect x="129.20" y="6.46" width="6.46" height="6.46" fill="#66ffff"/>
<rect x="180.88" y="6.46" width="6.46" height="6.46" fill="#ffff00"/>
<rect x="200.26" y="6.46" width="6.46" height="6.46" fill="#ffff00"/>
<rect x="213.18" y="6.46" width="6.46" height="6.46" fill="#ffff00"/>
<rect x="239.02" y="6.46" width="6.46" height="6.46" fill="#ffff00"/>
<rect x="297.16" y="6.46" width="6.46" height="6.46" fill="#ffff00"/>
<rect x="432.82" y="6.46" width="6.46" height="6.46" fill="#ffff00"/>
<rect x="452.20" y="6.46" width="6.46" height="6.46" fill="#66ffff"/>
<rect x="465.12" y="6.46" width="6.46" height="6.46" fill="#ffff00"/>
<rect x="478.04" y="6.46" width="12.92" height="6.46" fill="#ffff00"/>
<rect x="510.34" y="6.46" width="6.46" height="6.46" fill="#ffff00"/>
<rect x="523.26" y="6.46" width="6.46" height="6.46" fill="#66ffff"/>
<rect x="6.46" y="12.92" width="6.46" height="6.46" fill="#33f033"/>
<rect x="19.38" y="12.92" width="6.46" height="6.46" fill="#66ffff"/>
<rect x="51.68" y="12.92" width="6.46" height="6.46" fill="#ffff00"/>
<rect x="83.98" y="12.92" width="6.46" height="6.46" fill="#ffff00"/>
<rect x="90.44" y="12.92" width="6.46" height="6.46" fill="#33f033"/>
<rect x="96.90" y="12.92" width="19.38" height="6.46" fill="#ffff00"/>
<rect x="116.28" y="12.92" width="6.46" height="6.46" fill="#66ffff"/>
<rect x="142.12" y="12.92" width="12.92" height="6.46" fill="#ffff00"/>
<rect x="180.88" y="12.92" width="6.46" height="6.46" fill="#ffff00"/>
<rect x="193.80" y="12.92" width="12.92" height="6.46" fill="#ffff00"/>
<rect x="213.18" y="12.92" width="6.46" height="6.46" fill="#ffff00"/>
<rect x="219.64" y="12.92" width="6.46" height="6.46" fill="#66ffff"/>
<rect x="239.02" y="12.92" width="6.46" height="6.46" fill="#ffff00"/>
<rect x="297.16" y="12.92" width="6.46" height="6.46" fill="#ffff00"/>
<rect x="368.22" y="12.92" width="6.46" height="6.46" fill="#ffff00"/>
<rect x="413.44" y="12.92" width="25.84" height="6.46" fill="#ffff00"/>
<rect x="471.58" y="12.92" width="6.46" height="6.46" fill="#ffff00"/>
<rect x="478.04" y="12.92" width="6.46" height="6.46" fill="#66ffff"/>
<rect x="484.50" y="12.92" width="6.46" height="6.46" fill="#ffff00"/>
<rect x="510.34" y="12.92" width="6.46" height="6.46" fill="#ffff00"/>
<rect x="516.80" y="12.92" width="12.92" height="6.46" fill="#66ffff"/>
<rect x="12.92" y="19.38" width="6.46" height="6.46" fill="#ffff00"/>
<rect x="45.22" y="19.38" width="12.92" height="6.46" fill="#ffff00"/>
<rect x="83.98" y="19.38" width="6.46" height="6.46" fill="#ffff00"/>
<rect x="90.44" y="19.38" width="6.46" height="6.46" fill="#33f033"/>
<rect x="96.90" y="19.38" width="6.46" height="6.46" fill="#66ffff"/>
<rect x="116.28" y="19.38" width="6.46" height="6.46" fill="#ffff00"/>
<rect x="129.20" y="19.38" width="12.92" height="6.46" fill="#ffff00"/>
<rect x="142.12" y="19.38" width="6.46" height="6.46" fill="#66ffff"/>
<rect x="148.58" y="19.38" width="6.46" height="6.46" fill="#ffff00"/>
<rect x="180.88" y="19.38" width="6.46" height="6.46" fill="#66ffff"/>
<rect x="193.80" y="19.38" width="12.92" height="6.46" fill="#ffff00"/>
<rect x="213.18" y="19.38" width="12.92" height="6.46" fill="#66ffff"/>
<rect x="232.56" y="19.38" width="6.46" height="6.46" fill="#ffff00"/>
<rect x="239.02" y="19.38" width="12.92" height="6.46" fill="#66ffff"/>
<rect x="297.16" y="19.38" width="6.46" height="6.46" fill="#ffff00"/>
<rect x="316.54" y="19.38" width="6.46" height="6.46" fill="#66ffff"/>
<rect x="387.60" y="19.38" width="6.46" height="6.46" fill="#ffff00"/>
<rect x="413.44" y="19.38" width="25.84" height="6.46" fill="#ffff00"/>
<rect x="452.20" y="19.38" width="19.38" height="6.46" fill="#ffff00"/>
<rect x="478.04" y="19.38" width="6.46" height="6.46" fill="#66ffff"/>
<rect x="484.50" y="19.38" width="6.46" height="6.46" fill="#ffff00"/>
<rect x="510.34" y="19.38" width="6.46" height="6.46" fill="#ffff00"/>
<rect x="523.26" y="19.38" width="6.46" height="6.46" fill="#66ffff"/>
<rect x="6.46" y="25.84" width="6.46" height="6.46" fill="#33f033"/>
<rect x="19.38" y="25.84" width="6.46" height="6.46" fill="#66ffff"/>
<rect x="25.84" y="25.84" width="6.46" height="6.46" fill="#ffff00"/>
<rect x="45.22" y="25.84" width="12.92" height="6.46" fill="#ffff00"/>
<rect x="71.06" y="25.84" width="6.46" height="6.46" fill="#ffff00"/>
<rect x="83.98" y="25.84" width="6.46" height="6.46" fill="#ffff00"/>
<rect x="90.44" y="25.84" width="6.46" height="6.46" fill="#33f033"/>
<rect x="96.90" y="25.84" width="6.46" height="6.46" fill="#66ffff"/>
<rect x="161.50" y="25.84" width="6.46" height="6.46" fill="#ffff00"/>
<rect x="180.88" y="25.84" width="6.46" height="6.46" fill="#ffff00"/>
<rect x="200.26" y="25.84" width="6.46" height="6.46" fill="#ffff00"/>
<rect x="213.18" y="25.84" width="6.46" height="6.46" fill="#33f033"/>
<rect x="239.02" y="25.84" width="12.92" height="6.46" fill="#66ffff"/>
<rect x="297.16" y="25.84" width="6.46" height="6.46" fill="#ffff00"/>
<rect x="316.54" y="25.84" width="6.46" height="6.46" fill="#66ffff"/>
<rect x="335.92" y="25.84" width="6.46" height="6.46" fill="#ffff00"/>
<rect x="426.36" y="25.84" width="12.92" height="6.46" fill="#ffff00"/>
<rect x="452.20" y="25.84" width="6.46" height="6.46" fill="#66ffff"/>
<rect x="478.04" y="25.84" width="6.46" height="6.46" fill="#66ffff"/>
<rect x="484.50" y="25.84" width="6.46" height="6.46" fill="#ffff00"/>
<rect x="510.34" y="25.84" width="6.46" height="6.46" fill="#ffff00"/>
<rect x="523.26" y="25.84" width="6.46" height="6.46" fill="#66ffff"/>
<rect x="12.92" y="32.30" width="6.46" height="6.46" fill="#ffff00"/>
<rect x="51.68" y="32.30" width="6.46" height="6.46" fill="#ffff00"/>
<rect x="83.98" y="32.30" width="6.46" height="6.46" fill="#ffff00"/>
<rect x="90.44" y="32.30" width="12.92" height="6.46" fill="#66ffff"/>
<rect x="129.20" y="32.30" width="6.46" height="6.46" fill="#66ffff"/>
<rect x="135.66" y="32.30" width="6.46" height="6.46" fill="#ffff00"/>
<rect x="142.12" y="32.30" width="6.46" height="6.46" fill="#66ffff"/>
<rect x="161.50" y="32.30" width="6.46" height="6.46" fill="#ffff00"/>
<rect x="180.88" y="32.30" width="6.46" height="6.46" fill="#66ffff"/>
<rect x="187.34" y="32.30" width="6.46" height="6.46" fill="#ffff00"/>
<rect x="200.26" y="32.30" width="6.46" height="6.46" fill="#ffff00"/>
<rect x="213.18" y="32.30" width="6.46" height="6.46" fill="#33f033"/>
<rect x="232.56" y="32.30" width="19.38" height="6.46" fill="#66ffff"/>
<rect x="297.16" y="32.30" width="6.46" height="6.46" fill="#ffff00"/>
<rect x="316.54" y="32.30" width="6.46" height="6.46" fill="#ffff00"/>
<rect x="335.92" y="32.30" width="6.46" height="6.46" fill="#ffff00"/>
<rect x="348.84" y="32.30" width="6.46" height="6.46" fill="#ffff00"/>
<rect x="368.22" y="32.30" width="6.46" height="6.46" fill="#ffff00"/>
<rect x="394.06" y="32.30" width="6.46" height="6.46" fill="#ffff00"/>
<rect x="445.74" y="32.30" width="19.38" height="6.46" fill="#ffff00"/>
<rect x="465.12" y="32.30" width="6.46" height="6.46" fill="#66ffff"/>
<rect x="478.04" y="32.30" width="6.46" height="6.46" fill="#66ffff"/>
<rect x="484.50" y="32.30" width="12.92" height="6.46" fill="#ffff00"/>
<rect x="510.34" y="32.30" width="12.92" height="6.46" fill="#ffff00"/>
<rect x="12.92" y="38.76" width="6.46" height="6.46" fill="#ffff00"/>
<rect x="25.84" y="38.76" width="6.46" height="6.46" fill="#ffff00"/>
<rect x="32.30" y="38.76" width="6.46" height="6.46" fill="#66ffff"/>
<rect x="45.22" y="38.76" width="12.92" height="6.46" fill="#ffff00"/>
<rect x="64.60" y="38.76" width="6.46" height="6.46" fill="#66ffff"/>
<rect x="71.06" y="38.76" width="6.46" height="6.46" fill="#ffff00"/>
<rect x="116.28" y="38.76" width="6.46" height="6.46" fill="#ffff00"/>
<rect x="129.20" y="38.76" width="12.92" height="6.46" fill="#ffff00"/>
<rect x="142.12" y="38.76" width="6.46" height="6.46" fill="#66ffff"/>
<rect x="148.58" y="38.76" width="6.46" height="6.46" fill="#ffff00"/>
<rect x="180.88" y="38.76" width="6.46" height="6.46" fill="#66ffff"/>
<rect x="193.80" y="38.76" width="12.92" height="6.46" fill="#ffff00"/>
<rect x="213.18" y="38.76" width="6.46" height="6.46" fill="#ffff00"/>
<rect x="219.64" y="38.76" width="6.46" height="6.46" fill="#66ffff"/>
<rect x="239.02" y="38.76" width="6.46" height="6.46" fill="#ffff00"/>
<rect x="297.16" y="38.76" width="6.46" height="6.46" fill="#ffff00"/>
<rect x="458.66" y="38.76" width="12.92" height="6.46" fill="#ffff00"/>
<rect x="478.04" y="38.76" width="6.46" height="6.46" fill="#66ffff"/>
<rect x="484.50" y="38.76" width="6.46" height="6.46" fill="#ffff00"/>
<rect x="510.34" y="38.76" width="6.46" height="6.46" fill="#ffff00"/>
<rect x="523.26" y="38.76" width="6.46" height="6.46" fill="#66ffff"/>
<rect x="12.92" y="45.22" width="6.46" height="6.46" fill="#ffff00"/>
<rect x="71.06" y="45.22" width="6.46" height="6.46" fill="#ffff00"/>
<rect x="90.44" y="45.22" width="6.46" height="6.46" fill="#33f033"/>
<rect x="96.90" y="45.22" width="25.84" height="6.46" fill="#ffff00"/>
<rect x="161.50" y="45.22" width="6.46" height="6.46" fill="#ffff00"/>
<rect x="180.88" y="45.22" width="6.46" height="6.46" fill="#ffff00"/>
<rect x="200.26" y="45.22" width="6.46" height="6.46" fill="#ffff00"/>
<rect x="213.18" y="45.22" width="6.46" height="6.46" fill="#33f033"/>
<rect x="239.02" y="45.22" width="12.92" height="6.46" fill="#66ffff"/>
<rect x="297.16" y="45.22" width="6.46" height="6.46" fill="#ffff00"/>
<rect x="316.54" y="45.22" width="6.46" height="6.46" fill="#66ffff"/>
<rect x="335.92" y="45.22" width="6.46" height="6.46" fill="#ffff00"/>
<rect x="387.60" y="45.22" width="6.46" height="6.46" fill="#ffff00"/>
<rect x="413.44" y="45.22" width="25.84" height="6.46" fill="#ffff00"/>
<rect x="452.20" y="45.22" width="12.92" height="6.46" fill="#ffff00"/>
<rect x="465.12" y="45.22" width="6.46" height="6.46" fill="#66ffff"/>
<rect x="478.04" y="45.22" width="6.46" height="6.46" fill="#66ffff"/>
<rect x="484.50" y="45.22" width="6.46" height="6.46" fill="#ffff00"/>
<rect x="516.80" y="45.22" width="19.38" height="6.46" fill="#ffff00"/>
<rect x="12.92" y="51.68" width="6.46" height="6.46" fill="#ffff00"/>
<rect x="32.30" y="51.68" width="6.46" height="6.46" fill="#66ffff"/>
<rect x="45.22" y="51.68" width="6.46" height="6.46" fill="#ffff00"/>
<rect x="71.06" y="51.68" width="6.46" height="6.46" fill="#ffff00"/>
<rect x="90.44" y="51.68" width="6.46" height="6.46" fill="#33f033"/>
<rect x="96.90" y="51.68" width="12.92" height="6.46" fill="#ffff00"/>
<rect x="116.28" y="51.68" width="6.46" height="6.46" fill="#ffff00"/>
<rect x="161.50" y="51.68" width="6.46" height="6.46" fill="#ffff00"/>
<rect x="180.88" y="51.68" width="6.46" height="6.46" fill="#ffff00"/>
<rect x="193.80" y="51.68" width="12.92" height="6.46" fill="#ffff00"/>
<rect x="213.18" y="51.68" width="6.46" height="6.46" fill="#ffff00"/>
<rect x="239.02" y="51.68" width="6.46" height="6.46" fill="#ffff00"/>
<rect x="297.16" y="51.68" width="6.46" height="6.46" fill="#ffff00"/>
<rect x="387.60" y="51.68" width="6.46" height="6.46" fill="#ffff00"/>
<rect x="413.44" y="51.68" width="25.84" height="6.46" fill="#ffff00"/>
<rect x="510.34" y="51.68" width="6.46" height="6.46" fill="#ffff00"/>
<rect x="516.80" y="51.68" width="6.46" height="6.46" fill="#66ffff"/>
<path d="M0.00 0V58.14M6.46 0V58.14M12.92 0V58.14M19.38 0V58.14M25.84 0V58.14M32.30 0V58.14M38.76 0V58.14M45.22 0V58.14M51.68 0V58.14M58.14 0V58.14M64.60 0V58.14M71.06 0V58.14M77.52 0V58.14M83.98 0V58.14M90.44 0V58.14M96.90 0V58.14M103.36 0V58.14M109.82 0V58.14M116.28 0V58.14M122.74 0V58.14M129.20 0V58.14M135.66 0V58.14M142.12 0V58.14M148.58 0V58.14M155.04 0V58.14M161.50 0V58.14M167.96 0V58.14M174.42 0V58.14M180.88 0V58.14M187.34 0V58.14M193.80 0V58.14M200.26 0V58.14M206.72 0V58.14M213.18 0V58.14M219.64 0V58.14M226.10 0V58.14M232.56 0V58.14M239.02 0V58.14M245.48 0V58.14M251.94 0V58.14M258.40 0V58.14M264.86 0V58.14M271.32 0V58.14M277.78 0V58.14M284.24 0V58.14M290.70 0V58.14M297.16 0V58.14M303.62 0V58.14M310.08 0V58.14M316.54 0V58.14M323.00 0V58.14M329.46 0V58.14M335.92 0V58.14M342.38 0V58.14M348.84 0V58.14M355.30 0V58.14M361.76 0V58.14M368.22 0V58.14M374.68 0V58.14M381.14 0V58.14M387.60 0V58.14M394.06 0V58.14M400.52 0V58.14M406.98 0V58.14M413.44 0V58.14M419.90 0V58.14M426.36 0V58.14M432.82 0V58.14M439.28 0V58.14M445.74 0V58.14M452.20 0V58.14M458.66 0V58.14M465.12 0V58.14M471.58 0V58.14M478.04 0V58.14M484.50 0V58.14M490.96 0V58.14M497.42 0V58.14M503.88 0V58.14M510.34 0V58.14M516.80 0V58.14M523.26 0V58.14M529.72 0V58.14M536.18 0V58.14M542.64 0V58.14M0 0.00H542.64M0 6.46H542.64M0 12.92H542.64M0 19.38H542.64M0 25.84H542.64M0 32.30H542.64M0 38.76H542.64M0 45.22H542.64M0 51.68H542.64M0 58.14H542.64" stroke="#111" stroke-width="1.3" fill="none" stroke-linecap="square"/>
</g>
<g transform="translate(46.2,194.90)">
<rect x="0" y="0" width="445.74" height="58.14" fill="#fff"/>
<rect x="6.46" y="0.00" width="6.46" height="6.46" fill="#66ffff"/>
<rect x="12.92" y="0.00" width="6.46" height="6.46" fill="#ffff00"/>
<rect x="32.30" y="0.00" width="6.46" height="6.46" fill="#66ffff"/>
<rect x="38.76" y="0.00" width="12.92" height="6.46" fill="#ffff00"/>
<rect x="51.68" y="0.00" width="6.46" height="6.46" fill="#66ffff"/>
<rect x="58.14" y="0.00" width="12.92" height="6.46" fill="#ffff00"/>
<rect x="129.20" y="0.00" width="6.46" height="6.46" fill="#66ffff"/>
<rect x="142.12" y="0.00" width="6.46" height="6.46" fill="#ffff00"/>
<rect x="174.42" y="0.00" width="6.46" height="6.46" fill="#ffff00"/>
<rect x="206.72" y="0.00" width="6.46" height="6.46" fill="#ffff00"/>
<rect x="213.18" y="0.00" width="6.46" height="6.46" fill="#66ffff"/>
<rect x="219.64" y="0.00" width="6.46" height="6.46" fill="#ffff00"/>
<rect x="226.10" y="0.00" width="6.46" height="6.46" fill="#66ffff"/>
<rect x="245.48" y="0.00" width="12.92" height="6.46" fill="#ffff00"/>
<rect x="258.40" y="0.00" width="6.46" height="6.46" fill="#66ffff"/>
<rect x="264.86" y="0.00" width="12.92" height="6.46" fill="#ffff00"/>
<rect x="297.16" y="0.00" width="6.46" height="6.46" fill="#ffff00"/>
<rect x="310.08" y="0.00" width="6.46" height="6.46" fill="#ffff00"/>
<rect x="329.46" y="0.00" width="6.46" height="6.46" fill="#ffff00"/>
<rect x="394.06" y="0.00" width="19.38" height="6.46" fill="#ffff00"/>
<rect x="419.90" y="0.00" width="12.92" height="6.46" fill="#ffff00"/>
<rect x="6.46" y="6.46" width="12.92" height="6.46" fill="#ffff00"/>
<rect x="51.68" y="6.46" width="19.38" height="6.46" fill="#ffff00"/>
<rect x="122.74" y="6.46" width="12.92" height="6.46" fill="#ffff00"/>
<rect x="193.80" y="6.46" width="6.46" height="6.46" fill="#ffff00"/>
<rect x="206.72" y="6.46" width="6.46" height="6.46" fill="#ffff00"/>
<rect x="213.18" y="6.46" width="6.46" height="6.46" fill="#66ffff"/>
<rect x="226.10" y="6.46" width="6.46" height="6.46" fill="#66ffff"/>
<rect x="245.48" y="6.46" width="12.92" height="6.46" fill="#ffff00"/>
<rect x="258.40" y="6.46" width="6.46" height="6.46" fill="#66ffff"/>
<rect x="264.86" y="6.46" width="12.92" height="6.46" fill="#ffff00"/>
<rect x="297.16" y="6.46" width="6.46" height="6.46" fill="#ffff00"/>
<rect x="310.08" y="6.46" width="6.46" height="6.46" fill="#ffff00"/>
<rect x="329.46" y="6.46" width="6.46" height="6.46" fill="#ffff00"/>
<rect x="400.52" y="6.46" width="6.46" height="6.46" fill="#ffff00"/>
<rect x="439.28" y="6.46" width="6.46" height="6.46" fill="#ffff00"/>
<rect x="6.46" y="12.92" width="6.46" height="6.46" fill="#66ffff"/>
<rect x="12.92" y="12.92" width="6.46" height="6.46" fill="#ffff00"/>
<rect x="32.30" y="12.92" width="12.92" height="6.46" fill="#ffff00"/>
<rect x="45.22" y="12.92" width="6.46" height="6.46" fill="#66ffff"/>
<rect x="51.68" y="12.92" width="19.38" height="6.46" fill="#ffff00"/>
<rect x="122.74" y="12.92" width="12.92" height="6.46" fill="#ffff00"/>
<rect x="161.50" y="12.92" width="6.46" height="6.46" fill="#ffff00"/>
<rect x="174.42" y="12.92" width="6.46" height="6.46" fill="#ffff00"/>
<rect x="180.88" y="12.92" width="6.46" height="6.46" fill="#66ffff"/>
<rect x="206.72" y="12.92" width="6.46" height="6.46" fill="#ffff00"/>
<rect x="213.18" y="12.92" width="6.46" height="6.46" fill="#66ffff"/>
<rect x="219.64" y="12.92" width="12.92" height="6.46" fill="#ffff00"/>
<rect x="245.48" y="12.92" width="12.92" height="6.46" fill="#ffff00"/>
<rect x="258.40" y="12.92" width="6.46" height="6.46" fill="#66ffff"/>
<rect x="264.86" y="12.92" width="12.92" height="6.46" fill="#ffff00"/>
<rect x="297.16" y="12.92" width="6.46" height="6.46" fill="#ffff00"/>
<rect x="310.08" y="12.92" width="6.46" height="6.46" fill="#ffff00"/>
<rect x="329.46" y="12.92" width="6.46" height="6.46" fill="#ffff00"/>
<rect x="394.06" y="12.92" width="6.46" height="6.46" fill="#66ffff"/>
<rect x="400.52" y="12.92" width="25.84" height="6.46" fill="#ffff00"/>
<rect x="6.46" y="19.38" width="6.46" height="6.46" fill="#66ffff"/>
<rect x="12.92" y="19.38" width="6.46" height="6.46" fill="#ffff00"/>
<rect x="193.80" y="19.38" width="6.46" height="6.46" fill="#ffff00"/>
<rect x="206.72" y="19.38" width="6.46" height="6.46" fill="#ffff00"/>
<rect x="213.18" y="19.38" width="6.46" height="6.46" fill="#66ffff"/>
<rect x="219.64" y="19.38" width="6.46" height="6.46" fill="#ffff00"/>
<rect x="226.10" y="19.38" width="6.46" height="6.46" fill="#66ffff"/>
<rect x="245.48" y="19.38" width="12.92" height="6.46" fill="#ffff00"/>
<rect x="258.40" y="19.38" width="6.46" height="6.46" fill="#66ffff"/>
<rect x="271.32" y="19.38" width="6.46" height="6.46" fill="#ffff00"/>
<rect x="297.16" y="19.38" width="6.46" height="6.46" fill="#ffff00"/>
<rect x="310.08" y="19.38" width="6.46" height="6.46" fill="#ffff00"/>
<rect x="329.46" y="19.38" width="6.46" height="6.46" fill="#ffff00"/>
<rect x="348.84" y="19.38" width="6.46" height="6.46" fill="#66ffff"/>
<rect x="355.30" y="19.38" width="25.84" height="6.46" fill="#ffff00"/>
<rect x="381.14" y="19.38" width="6.46" height="6.46" fill="#66ffff"/>
<rect x="394.06" y="19.38" width="6.46" height="6.46" fill="#ffff00"/>
<rect x="400.52" y="19.38" width="6.46" height="6.46" fill="#66ffff"/>
<rect x="419.90" y="19.38" width="6.46" height="6.46" fill="#66ffff"/>
<rect x="426.36" y="19.38" width="6.46" height="6.46" fill="#ffff00"/>
<rect x="439.28" y="19.38" width="6.46" height="6.46" fill="#ffff00"/>
<rect x="6.46" y="25.84" width="6.46" height="6.46" fill="#66ffff"/>
<rect x="12.92" y="25.84" width="6.46" height="6.46" fill="#ffff00"/>
<rect x="32.30" y="25.84" width="19.38" height="6.46" fill="#ffff00"/>
<rect x="51.68" y="25.84" width="6.46" height="6.46" fill="#66ffff"/>
<rect x="129.20" y="25.84" width="6.46" height="6.46" fill="#66ffff"/>
<rect x="148.58" y="25.84" width="6.46" height="6.46" fill="#ffff00"/>
<rect x="161.50" y="25.84" width="6.46" height="6.46" fill="#ffff00"/>
<rect x="180.88" y="25.84" width="6.46" height="6.46" fill="#66ffff"/>
<rect x="206.72" y="25.84" width="12.92" height="6.46" fill="#66ffff"/>
<rect x="219.64" y="25.84" width="12.92" height="6.46" fill="#ffff00"/>
<rect x="245.48" y="25.84" width="6.46" height="6.46" fill="#ffff00"/>
<rect x="258.40" y="25.84" width="6.46" height="6.46" fill="#66ffff"/>
<rect x="271.32" y="25.84" width="6.46" height="6.46" fill="#ffff00"/>
<rect x="290.70" y="25.84" width="12.92" height="6.46" fill="#66ffff"/>
<rect x="342.38" y="25.84" width="6.46" height="6.46" fill="#66ffff"/>
<rect x="368.22" y="25.84" width="6.46" height="6.46" fill="#66ffff"/>
<rect x="374.68" y="25.84" width="19.38" height="6.46" fill="#ffff00"/>
<rect x="394.06" y="25.84" width="12.92" height="6.46" fill="#66ffff"/>
<rect x="406.98" y="25.84" width="12.92" height="6.46" fill="#ffff00"/>
<rect x="426.36" y="25.84" width="6.46" height="6.46" fill="#ffff00"/>
<rect x="6.46" y="32.30" width="12.92" height="6.46" fill="#66ffff"/>
<rect x="45.22" y="32.30" width="6.46" height="6.46" fill="#ffff00"/>
<rect x="51.68" y="32.30" width="6.46" height="6.46" fill="#66ffff"/>
<rect x="58.14" y="32.30" width="12.92" height="6.46" fill="#ffff00"/>
<rect x="129.20" y="32.30" width="6.46" height="6.46" fill="#66ffff"/>
<rect x="148.58" y="32.30" width="6.46" height="6.46" fill="#ffff00"/>
<rect x="161.50" y="32.30" width="6.46" height="6.46" fill="#ffff00"/>
<rect x="206.72" y="32.30" width="6.46" height="6.46" fill="#ffff00"/>
<rect x="213.18" y="32.30" width="6.46" height="6.46" fill="#66ffff"/>
<rect x="219.64" y="32.30" width="6.46" height="6.46" fill="#ffff00"/>
<rect x="226.10" y="32.30" width="6.46" height="6.46" fill="#66ffff"/>
<rect x="258.40" y="32.30" width="6.46" height="6.46" fill="#66ffff"/>
<rect x="271.32" y="32.30" width="6.46" height="6.46" fill="#ffff00"/>
<rect x="290.70" y="32.30" width="6.46" height="6.46" fill="#66ffff"/>
<rect x="310.08" y="32.30" width="6.46" height="6.46" fill="#ffff00"/>
<rect x="342.38" y="32.30" width="6.46" height="6.46" fill="#66ffff"/>
<rect x="355.30" y="32.30" width="6.46" height="6.46" fill="#ffff00"/>
<rect x="368.22" y="32.30" width="19.38" height="6.46" fill="#ffff00"/>
<rect x="394.06" y="32.30" width="6.46" height="6.46" fill="#33f033"/>
<rect x="400.52" y="32.30" width="6.46" height="6.46" fill="#66ffff"/>
<rect x="406.98" y="32.30" width="12.92" height="6.46" fill="#ffff00"/>
<rect x="419.90" y="32.30" width="6.46" height="6.46" fill="#66ffff"/>
<rect x="6.46" y="38.76" width="6.46" height="6.46" fill="#66ffff"/>
<rect x="12.92" y="38.76" width="6.46" height="6.46" fill="#ffff00"/>
<rect x="193.80" y="38.76" width="6.46" height="6.46" fill="#ffff00"/>
<rect x="206.72" y="38.76" width="6.46" height="6.46" fill="#ffff00"/>
<rect x="213.18" y="38.76" width="6.46" height="6.46" fill="#66ffff"/>
<rect x="226.10" y="38.76" width="6.46" height="6.46" fill="#66ffff"/>
<rect x="245.48" y="38.76" width="12.92" height="6.46" fill="#ffff00"/>
<rect x="258.40" y="38.76" width="6.46" height="6.46" fill="#66ffff"/>
<rect x="264.86" y="38.76" width="12.92" height="6.46" fill="#ffff00"/>
<rect x="297.16" y="38.76" width="6.46" height="6.46" fill="#ffff00"/>
<rect x="310.08" y="38.76" width="6.46" height="6.46" fill="#ffff00"/>
<rect x="329.46" y="38.76" width="6.46" height="6.46" fill="#ffff00"/>
<rect x="400.52" y="38.76" width="6.46" height="6.46" fill="#ffff00"/>
<rect x="439.28" y="38.76" width="6.46" height="6.46" fill="#ffff00"/>
<rect x="6.46" y="45.22" width="6.46" height="6.46" fill="#66ffff"/>
<rect x="12.92" y="45.22" width="6.46" height="6.46" fill="#ffff00"/>
<rect x="51.68" y="45.22" width="6.46" height="6.46" fill="#ffff00"/>
<rect x="129.20" y="45.22" width="6.46" height="6.46" fill="#66ffff"/>
<rect x="148.58" y="45.22" width="6.46" height="6.46" fill="#ffff00"/>
<rect x="161.50" y="45.22" width="6.46" height="6.46" fill="#ffff00"/>
<rect x="174.42" y="45.22" width="6.46" height="6.46" fill="#ffff00"/>
<rect x="180.88" y="45.22" width="6.46" height="6.46" fill="#66ffff"/>
<rect x="206.72" y="45.22" width="6.46" height="6.46" fill="#66ffff"/>
<rect x="245.48" y="45.22" width="25.84" height="6.46" fill="#ffff00"/>
<rect x="290.70" y="45.22" width="12.92" height="6.46" fill="#66ffff"/>
<rect x="335.92" y="45.22" width="6.46" height="6.46" fill="#ffff00"/>
<rect x="342.38" y="45.22" width="6.46" height="6.46" fill="#66ffff"/>
<rect x="355.30" y="45.22" width="6.46" height="6.46" fill="#ffff00"/>
<rect x="368.22" y="45.22" width="6.46" height="6.46" fill="#66ffff"/>
<rect x="374.68" y="45.22" width="19.38" height="6.46" fill="#ffff00"/>
<rect x="394.06" y="45.22" width="12.92" height="6.46" fill="#66ffff"/>
<rect x="406.98" y="45.22" width="12.92" height="6.46" fill="#ffff00"/>
<rect x="426.36" y="45.22" width="6.46" height="6.46" fill="#ffff00"/>
<rect x="6.46" y="51.68" width="6.46" height="6.46" fill="#66ffff"/>
<rect x="12.92" y="51.68" width="6.46" height="6.46" fill="#ffff00"/>
<rect x="45.22" y="51.68" width="6.46" height="6.46" fill="#66ffff"/>
<rect x="51.68" y="51.68" width="6.46" height="6.46" fill="#33f033"/>
<rect x="58.14" y="51.68" width="12.92" height="6.46" fill="#ffff00"/>
<rect x="129.20" y="51.68" width="6.46" height="6.46" fill="#66ffff"/>
<rect x="148.58" y="51.68" width="6.46" height="6.46" fill="#ffff00"/>
<rect x="161.50" y="51.68" width="6.46" height="6.46" fill="#ffff00"/>
<rect x="206.72" y="51.68" width="6.46" height="6.46" fill="#ffff00"/>
<rect x="213.18" y="51.68" width="6.46" height="6.46" fill="#66ffff"/>
<rect x="219.64" y="51.68" width="6.46" height="6.46" fill="#ffff00"/>
<rect x="264.86" y="51.68" width="6.46" height="6.46" fill="#ffff00"/>
<rect x="297.16" y="51.68" width="6.46" height="6.46" fill="#66ffff"/>
<rect x="335.92" y="51.68" width="6.46" height="6.46" fill="#ffff00"/>
<rect x="342.38" y="51.68" width="6.46" height="6.46" fill="#66ffff"/>
<rect x="355.30" y="51.68" width="6.46" height="6.46" fill="#ffff00"/>
<rect x="368.22" y="51.68" width="6.46" height="6.46" fill="#66ffff"/>
<rect x="374.68" y="51.68" width="12.92" height="6.46" fill="#ffff00"/>
<rect x="394.06" y="51.68" width="12.92" height="6.46" fill="#66ffff"/>
<rect x="406.98" y="51.68" width="25.84" height="6.46" fill="#ffff00"/>
<path d="M0.00 0V58.14M6.46 0V58.14M12.92 0V58.14M19.38 0V58.14M25.84 0V58.14M32.30 0V58.14M38.76 0V58.14M45.22 0V58.14M51.68 0V58.14M58.14 0V58.14M64.60 0V58.14M71.06 0V58.14M77.52 0V58.14M83.98 0V58.14M90.44 0V58.14M96.90 0V58.14M103.36 0V58.14M109.82 0V58.14M116.28 0V58.14M122.74 0V58.14M129.20 0V58.14M135.66 0V58.14M142.12 0V58.14M148.58 0V58.14M155.04 0V58.14M161.50 0V58.14M167.96 0V58.14M174.42 0V58.14M180.88 0V58.14M187.34 0V58.14M193.80 0V58.14M200.26 0V58.14M206.72 0V58.14M213.18 0V58.14M219.64 0V58.14M226.10 0V58.14M232.56 0V58.14M239.02 0V58.14M245.48 0V58.14M251.94 0V58.14M258.40 0V58.14M264.86 0V58.14M271.32 0V58.14M277.78 0V58.14M284.24 0V58.14M290.70 0V58.14M297.16 0V58.14M303.62 0V58.14M310.08 0V58.14M316.54 0V58.14M323.00 0V58.14M329.46 0V58.14M335.92 0V58.14M342.38 0V58.14M348.84 0V58.14M355.30 0V58.14M361.76 0V58.14M368.22 0V58.14M374.68 0V58.14M381.14 0V58.14M387.60 0V58.14M394.06 0V58.14M400.52 0V58.14M406.98 0V58.14M413.44 0V58.14M419.90 0V58.14M426.36 0V58.14M432.82 0V58.14M439.28 0V58.14M445.74 0V58.14M0 0.00H445.74M0 6.46H445.74M0 12.92H445.74M0 19.38H445.74M0 25.84H445.74M0 32.30H445.74M0 38.76H445.74M0 45.22H445.74M0 51.68H445.74M0 58.14H445.74" stroke="#111" stroke-width="1.3" fill="none" stroke-linecap="square"/>
</g>
<g transform="translate(46.2,259.50)">
<rect x="0" y="0" width="400.52" height="58.14" fill="#fff"/>
<rect x="12.92" y="0.00" width="25.84" height="6.46" fill="#ffff00"/>
<rect x="51.68" y="0.00" width="6.46" height="6.46" fill="#66ffff"/>
<rect x="64.60" y="0.00" width="6.46" height="6.46" fill="#66ffff"/>
<rect x="77.52" y="0.00" width="6.46" height="6.46" fill="#66ffff"/>
<rect x="90.44" y="0.00" width="6.46" height="6.46" fill="#ffff00"/>
<rect x="103.36" y="0.00" width="6.46" height="6.46" fill="#ffff00"/>
<rect x="129.20" y="0.00" width="6.46" height="6.46" fill="#ffff00"/>
<rect x="142.12" y="0.00" width="6.46" height="6.46" fill="#ffff00"/>
<rect x="193.80" y="0.00" width="6.46" height="6.46" fill="#ffff00"/>
<rect x="206.72" y="0.00" width="6.46" height="6.46" fill="#66ffff"/>
<rect x="219.64" y="0.00" width="6.46" height="6.46" fill="#ffff00"/>
<rect x="251.94" y="0.00" width="6.46" height="6.46" fill="#ffff00"/>
<rect x="264.86" y="0.00" width="6.46" height="6.46" fill="#66ffff"/>
<rect x="271.32" y="0.00" width="12.92" height="6.46" fill="#ffff00"/>
<rect x="297.16" y="0.00" width="6.46" height="6.46" fill="#ffff00"/>
<rect x="303.62" y="0.00" width="12.92" height="6.46" fill="#66ffff"/>
<rect x="323.00" y="0.00" width="6.46" height="6.46" fill="#66ffff"/>
<rect x="335.92" y="0.00" width="6.46" height="6.46" fill="#ffff00"/>
<rect x="368.22" y="0.00" width="12.92" height="6.46" fill="#ffff00"/>
<rect x="381.14" y="0.00" width="6.46" height="6.46" fill="#66ffff"/>
<rect x="6.46" y="6.46" width="6.46" height="6.46" fill="#ffff00"/>
<rect x="12.92" y="6.46" width="6.46" height="6.46" fill="#66ffff"/>
<rect x="32.30" y="6.46" width="6.46" height="6.46" fill="#ffff00"/>
<rect x="77.52" y="6.46" width="6.46" height="6.46" fill="#ffff00"/>
<rect x="83.98" y="6.46" width="6.46" height="6.46" fill="#66ffff"/>
<rect x="90.44" y="6.46" width="6.46" height="6.46" fill="#ffff00"/>
<rect x="103.36" y="6.46" width="6.46" height="6.46" fill="#ffff00"/>
<rect x="129.20" y="6.46" width="6.46" height="6.46" fill="#66ffff"/>
<rect x="213.18" y="6.46" width="12.92" height="6.46" fill="#ffff00"/>
<rect x="264.86" y="6.46" width="12.92" height="6.46" fill="#ffff00"/>
<rect x="277.78" y="6.46" width="6.46" height="6.46" fill="#66ffff"/>
<rect x="297.16" y="6.46" width="6.46" height="6.46" fill="#ffff00"/>
<rect x="303.62" y="6.46" width="6.46" height="6.46" fill="#66ffff"/>
<rect x="310.08" y="6.46" width="6.46" height="6.46" fill="#ffff00"/>
<rect x="323.00" y="6.46" width="6.46" height="6.46" fill="#66ffff"/>
<rect x="329.46" y="6.46" width="6.46" height="6.46" fill="#ffff00"/>
<rect x="342.38" y="6.46" width="6.46" height="6.46" fill="#ffff00"/>
<rect x="381.14" y="6.46" width="6.46" height="6.46" fill="#ffff00"/>
<rect x="0.00" y="12.92" width="6.46" height="6.46" fill="#66ffff"/>
<rect x="12.92" y="12.92" width="6.46" height="6.46" fill="#66ffff"/>
<rect x="19.38" y="12.92" width="6.46" height="6.46" fill="#ffff00"/>
<rect x="32.30" y="12.92" width="6.46" height="6.46" fill="#ffff00"/>
<rect x="38.76" y="12.92" width="6.46" height="6.46" fill="#66ffff"/>
<rect x="45.22" y="12.92" width="12.92" height="6.46" fill="#ffff00"/>
<rect x="77.52" y="12.92" width="6.46" height="6.46" fill="#ffff00"/>
<rect x="90.44" y="12.92" width="6.46" height="6.46" fill="#ffff00"/>
<rect x="103.36" y="12.92" width="6.46" height="6.46" fill="#66ffff"/>
<rect x="129.20" y="12.92" width="6.46" height="6.46" fill="#66ffff"/>
<rect x="193.80" y="12.92" width="6.46" height="6.46" fill="#ffff00"/>
<rect x="206.72" y="12.92" width="6.46" height="6.46" fill="#ffff00"/>
<rect x="232.56" y="12.92" width="6.46" height="6.46" fill="#66ffff"/>
<rect x="251.94" y="12.92" width="6.46" height="6.46" fill="#ffff00"/>
<rect x="264.86" y="12.92" width="6.46" height="6.46" fill="#66ffff"/>
<rect x="271.32" y="12.92" width="12.92" height="6.46" fill="#ffff00"/>
<rect x="303.62" y="12.92" width="6.46" height="6.46" fill="#66ffff"/>
<rect x="323.00" y="12.92" width="6.46" height="6.46" fill="#66ffff"/>
<rect x="329.46" y="12.92" width="6.46" height="6.46" fill="#ffff00"/>
<rect x="342.38" y="12.92" width="6.46" height="6.46" fill="#ffff00"/>
<rect x="368.22" y="12.92" width="6.46" height="6.46" fill="#66ffff"/>
<rect x="381.14" y="12.92" width="6.46" height="6.46" fill="#ffff00"/>
<rect x="394.06" y="12.92" width="6.46" height="6.46" fill="#ffff00"/>
<rect x="6.46" y="19.38" width="6.46" height="6.46" fill="#ffff00"/>
<rect x="12.92" y="19.38" width="6.46" height="6.46" fill="#66ffff"/>
<rect x="19.38" y="19.38" width="6.46" height="6.46" fill="#ffff00"/>
<rect x="32.30" y="19.38" width="6.46" height="6.46" fill="#ffff00"/>
<rect x="77.52" y="19.38" width="6.46" height="6.46" fill="#66ffff"/>
<rect x="90.44" y="19.38" width="6.46" height="6.46" fill="#ffff00"/>
<rect x="103.36" y="19.38" width="6.46" height="6.46" fill="#ffff00"/>
<rect x="129.20" y="19.38" width="6.46" height="6.46" fill="#ffff00"/>
<rect x="142.12" y="19.38" width="6.46" height="6.46" fill="#ffff00"/>
<rect x="193.80" y="19.38" width="6.46" height="6.46" fill="#ffff00"/>
<rect x="206.72" y="19.38" width="6.46" height="6.46" fill="#66ffff"/>
<rect x="219.64" y="19.38" width="6.46" height="6.46" fill="#ffff00"/>
<rect x="232.56" y="19.38" width="6.46" height="6.46" fill="#ffff00"/>
<rect x="251.94" y="19.38" width="6.46" height="6.46" fill="#66ffff"/>
<rect x="264.86" y="19.38" width="6.46" height="6.46" fill="#ffff00"/>
<rect x="271.32" y="19.38" width="12.92" height="6.46" fill="#66ffff"/>
<rect x="303.62" y="19.38" width="6.46" height="6.46" fill="#66ffff"/>
<rect x="310.08" y="19.38" width="6.46" height="6.46" fill="#ffff00"/>
<rect x="323.00" y="19.38" width="6.46" height="6.46" fill="#66ffff"/>
<rect x="342.38" y="19.38" width="6.46" height="6.46" fill="#ffff00"/>
<rect x="387.60" y="19.38" width="6.46" height="6.46" fill="#66ffff"/>
<rect x="0.00" y="25.84" width="6.46" height="6.46" fill="#ffff00"/>
<rect x="12.92" y="25.84" width="6.46" height="6.46" fill="#66ffff"/>
<rect x="25.84" y="25.84" width="6.46" height="6.46" fill="#ffff00"/>
<rect x="32.30" y="25.84" width="12.92" height="6.46" fill="#66ffff"/>
<rect x="45.22" y="25.84" width="19.38" height="6.46" fill="#ffff00"/>
<rect x="77.52" y="25.84" width="6.46" height="6.46" fill="#ffff00"/>
<rect x="83.98" y="25.84" width="6.46" height="6.46" fill="#66ffff"/>
<rect x="90.44" y="25.84" width="6.46" height="6.46" fill="#ffff00"/>
<rect x="103.36" y="25.84" width="6.46" height="6.46" fill="#ffff00"/>
<rect x="193.80" y="25.84" width="6.46" height="6.46" fill="#ffff00"/>
<rect x="213.18" y="25.84" width="51.68" height="6.46" fill="#ffff00"/>
<rect x="264.86" y="25.84" width="12.92" height="6.46" fill="#66ffff"/>
<rect x="277.78" y="25.84" width="6.46" height="6.46" fill="#ffff00"/>
<rect x="297.16" y="25.84" width="6.46" height="6.46" fill="#ffff00"/>
<rect x="303.62" y="25.84" width="12.92" height="6.46" fill="#66ffff"/>
<rect x="323.00" y="25.84" width="6.46" height="6.46" fill="#66ffff"/>
<rect x="335.92" y="25.84" width="6.46" height="6.46" fill="#ffff00"/>
<rect x="368.22" y="25.84" width="12.92" height="6.46" fill="#ffff00"/>
<rect x="381.14" y="25.84" width="6.46" height="6.46" fill="#66ffff"/>
<rect x="6.46" y="32.30" width="6.46" height="6.46" fill="#ffff00"/>
<rect x="12.92" y="32.30" width="6.46" height="6.46" fill="#66ffff"/>
<rect x="25.84" y="32.30" width="12.92" height="6.46" fill="#ffff00"/>
<rect x="38.76" y="32.30" width="6.46" height="6.46" fill="#66ffff"/>
<rect x="45.22" y="32.30" width="19.38" height="6.46" fill="#ffff00"/>
<rect x="77.52" y="32.30" width="19.38" height="6.46" fill="#ffff00"/>
<rect x="96.90" y="32.30" width="6.46" height="6.46" fill="#66ffff"/>
<rect x="103.36" y="32.30" width="6.46" height="6.46" fill="#ffff00"/>
<rect x="200.26" y="32.30" width="12.92" height="6.46" fill="#ffff00"/>
<rect x="219.64" y="32.30" width="6.46" height="6.46" fill="#ffff00"/>
<rect x="232.56" y="32.30" width="6.46" height="6.46" fill="#ffff00"/>
<rect x="251.94" y="32.30" width="6.46" height="6.46" fill="#ffff00"/>
<rect x="264.86" y="32.30" width="12.92" height="6.46" fill="#ffff00"/>
<rect x="277.78" y="32.30" width="6.46" height="6.46" fill="#66ffff"/>
<rect x="297.16" y="32.30" width="6.46" height="6.46" fill="#ffff00"/>
<rect x="303.62" y="32.30" width="6.46" height="6.46" fill="#66ffff"/>
<rect x="310.08" y="32.30" width="6.46" height="6.46" fill="#ffff00"/>
<rect x="323.00" y="32.30" width="6.46" height="6.46" fill="#66ffff"/>
<rect x="342.38" y="32.30" width="6.46" height="6.46" fill="#ffff00"/>
<rect x="368.22" y="32.30" width="6.46" height="6.46" fill="#66ffff"/>
<rect x="381.14" y="32.30" width="6.46" height="6.46" fill="#66ffff"/>
<rect x="394.06" y="32.30" width="6.46" height="6.46" fill="#ffff00"/>
<rect x="0.00" y="38.76" width="19.38" height="6.46" fill="#ffff00"/>
<rect x="25.84" y="38.76" width="12.92" height="6.46" fill="#ffff00"/>
<rect x="45.22" y="38.76" width="19.38" height="6.46" fill="#ffff00"/>
<rect x="71.06" y="38.76" width="6.46" height="6.46" fill="#66ffff"/>
<rect x="77.52" y="38.76" width="6.46" height="6.46" fill="#ffff00"/>
<rect x="90.44" y="38.76" width="6.46" height="6.46" fill="#ffff00"/>
<rect x="103.36" y="38.76" width="6.46" height="6.46" fill="#ffff00"/>
<rect x="129.20" y="38.76" width="6.46" height="6.46" fill="#ffff00"/>
<rect x="142.12" y="38.76" width="6.46" height="6.46" fill="#ffff00"/>
<rect x="193.80" y="38.76" width="6.46" height="6.46" fill="#ffff00"/>
<rect x="206.72" y="38.76" width="6.46" height="6.46" fill="#66ffff"/>
<rect x="219.64" y="38.76" width="12.92" height="6.46" fill="#ffff00"/>
<rect x="245.48" y="38.76" width="6.46" height="6.46" fill="#ffff00"/>
<rect x="251.94" y="38.76" width="6.46" height="6.46" fill="#66ffff"/>
<rect x="264.86" y="38.76" width="6.46" height="6.46" fill="#ffff00"/>
<rect x="271.32" y="38.76" width="12.92" height="6.46" fill="#66ffff"/>
<rect x="297.16" y="38.76" width="6.46" height="6.46" fill="#ffff00"/>
<rect x="303.62" y="38.76" width="6.46" height="6.46" fill="#66ffff"/>
<rect x="310.08" y="38.76" width="6.46" height="6.46" fill="#ffff00"/>
<rect x="323.00" y="38.76" width="6.46" height="6.46" fill="#66ffff"/>
<rect x="329.46" y="38.76" width="6.46" height="6.46" fill="#ffff00"/>
<rect x="355.30" y="38.76" width="6.46" height="6.46" fill="#66ffff"/>
<rect x="368.22" y="38.76" width="6.46" height="6.46" fill="#ffff00"/>
<rect x="381.14" y="38.76" width="19.38" height="6.46" fill="#ffff00"/>
<rect x="0.00" y="45.22" width="6.46" height="6.46" fill="#ffff00"/>
<rect x="12.92" y="45.22" width="6.46" height="6.46" fill="#ffff00"/>
<rect x="25.84" y="45.22" width="6.46" height="6.46" fill="#ffff00"/>
<rect x="32.30" y="45.22" width="12.92" height="6.46" fill="#66ffff"/>
<rect x="45.22" y="45.22" width="6.46" height="6.46" fill="#ffff00"/>
<rect x="58.14" y="45.22" width="6.46" height="6.46" fill="#ffff00"/>
<rect x="77.52" y="45.22" width="6.46" height="6.46" fill="#ffff00"/>
<rect x="83.98" y="45.22" width="6.46" height="6.46" fill="#66ffff"/>
<rect x="90.44" y="45.22" width="6.46" height="6.46" fill="#ffff00"/>
<rect x="103.36" y="45.22" width="6.46" height="6.46" fill="#ffff00"/>
<rect x="193.80" y="45.22" width="6.46" height="6.46" fill="#ffff00"/>
<rect x="213.18" y="45.22" width="19.38" height="6.46" fill="#ffff00"/>
<rect x="251.94" y="45.22" width="6.46" height="6.46" fill="#ffff00"/>
<rect x="264.86" y="45.22" width="19.38" height="6.46" fill="#66ffff"/>
<rect x="297.16" y="45.22" width="6.46" height="6.46" fill="#ffff00"/>
<rect x="310.08" y="45.22" width="6.46" height="6.46" fill="#ffff00"/>
<rect x="323.00" y="45.22" width="6.46" height="6.46" fill="#66ffff"/>
<rect x="329.46" y="45.22" width="6.46" height="6.46" fill="#ffff00"/>
<rect x="342.38" y="45.22" width="6.46" height="6.46" fill="#ffff00"/>
<rect x="394.06" y="45.22" width="6.46" height="6.46" fill="#ffff00"/>
<rect x="0.00" y="51.68" width="6.46" height="6.46" fill="#ffff00"/>
<rect x="12.92" y="51.68" width="6.46" height="6.46" fill="#66ffff"/>
<rect x="25.84" y="51.68" width="6.46" height="6.46" fill="#ffff00"/>
<rect x="32.30" y="51.68" width="6.46" height="6.46" fill="#66ffff"/>
<rect x="45.22" y="51.68" width="12.92" height="6.46" fill="#ffff00"/>
<rect x="71.06" y="51.68" width="12.92" height="6.46" fill="#66ffff"/>
<rect x="83.98" y="51.68" width="12.92" height="6.46" fill="#ffff00"/>
<rect x="96.90" y="51.68" width="6.46" height="6.46" fill="#66ffff"/>
<rect x="103.36" y="51.68" width="6.46" height="6.46" fill="#ffff00"/>
<rect x="129.20" y="51.68" width="6.46" height="6.46" fill="#66ffff"/>
<rect x="193.80" y="51.68" width="6.46" height="6.46" fill="#ffff00"/>
<rect x="206.72" y="51.68" width="19.38" height="6.46" fill="#ffff00"/>
<rect x="251.94" y="51.68" width="6.46" height="6.46" fill="#66ffff"/>
<rect x="264.86" y="51.68" width="6.46" height="6.46" fill="#66ffff"/>
<rect x="271.32" y="51.68" width="6.46" height="6.46" fill="#ffff00"/>
<rect x="277.78" y="51.68" width="6.46" height="6.46" fill="#66ffff"/>
<rect x="297.16" y="51.68" width="6.46" height="6.46" fill="#ffff00"/>
<rect x="303.62" y="51.68" width="12.92" height="6.46" fill="#66ffff"/>
<rect x="323.00" y="51.68" width="6.46" height="6.46" fill="#66ffff"/>
<rect x="329.46" y="51.68" width="6.46" height="6.46" fill="#ffff00"/>
<rect x="342.38" y="51.68" width="6.46" height="6.46" fill="#ffff00"/>
<rect x="368.22" y="51.68" width="6.46" height="6.46" fill="#ffff00"/>
<rect x="381.14" y="51.68" width="6.46" height="6.46" fill="#66ffff"/>
<rect x="394.06" y="51.68" width="6.46" height="6.46" fill="#ffff00"/>
<path d="M0.00 0V58.14M6.46 0V58.14M12.92 0V58.14M19.38 0V58.14M25.84 0V58.14M32.30 0V58.14M38.76 0V58.14M45.22 0V58.14M51.68 0V58.14M58.14 0V58.14M64.60 0V58.14M71.06 0V58.14M77.52 0V58.14M83.98 0V58.14M90.44 0V58.14M96.90 0V58.14M103.36 0V58.14M109.82 0V58.14M116.28 0V58.14M122.74 0V58.14M129.20 0V58.14M135.66 0V58.14M142.12 0V58.14M148.58 0V58.14M155.04 0V58.14M161.50 0V58.14M167.96 0V58.14M174.42 0V58.14M180.88 0V58.14M187.34 0V58.14M193.80 0V58.14M200.26 0V58.14M206.72 0V58.14M213.18 0V58.14M219.64 0V58.14M226.10 0V58.14M232.56 0V58.14M239.02 0V58.14M245.48 0V58.14M251.94 0V58.14M258.40 0V58.14M264.86 0V58.14M271.32 0V58.14M277.78 0V58.14M284.24 0V58.14M290.70 0V58.14M297.16 0V58.14M303.62 0V58.14M310.08 0V58.14M316.54 0V58.14M323.00 0V58.14M329.46 0V58.14M335.92 0V58.14M342.38 0V58.14M348.84 0V58.14M355.30 0V58.14M361.76 0V58.14M368.22 0V58.14M374.68 0V58.14M381.14 0V58.14M387.60 0V58.14M394.06 0V58.14M400.52 0V58.14M0 0.00H400.52M0 6.46H400.52M0 12.92H400.52M0 19.38H400.52M0 25.84H400.52M0 32.30H400.52M0 38.76H400.52M0 45.22H400.52M0 51.68H400.52M0 58.14H400.52" stroke="#111" stroke-width="1.3" fill="none" stroke-linecap="square"/>
</g>
<g transform="translate(46.2,324.10)">
<rect x="0" y="0" width="426.36" height="58.14" fill="#fff"/>
<rect x="0.00" y="0.00" width="6.46" height="6.46" fill="#ffff00"/>
<rect x="6.46" y="0.00" width="6.46" height="6.46" fill="#66ffff"/>
<rect x="19.38" y="0.00" width="12.92" height="6.46" fill="#66ffff"/>
<rect x="38.76" y="0.00" width="6.46" height="6.46" fill="#ffff00"/>
<rect x="51.68" y="0.00" width="6.46" height="6.46" fill="#ffff00"/>
<rect x="64.60" y="0.00" width="6.46" height="6.46" fill="#ffff00"/>
<rect x="71.06" y="0.00" width="12.92" height="6.46" fill="#66ffff"/>
<rect x="90.44" y="0.00" width="25.84" height="6.46" fill="#66ffff"/>
<rect x="135.66" y="0.00" width="6.46" height="6.46" fill="#ffff00"/>
<rect x="142.12" y="0.00" width="6.46" height="6.46" fill="#66ffff"/>
<rect x="316.54" y="0.00" width="6.46" height="6.46" fill="#ffff00"/>
<rect x="348.84" y="0.00" width="6.46" height="6.46" fill="#66ffff"/>
<rect x="355.30" y="0.00" width="25.84" height="6.46" fill="#ffff00"/>
<rect x="394.06" y="0.00" width="6.46" height="6.46" fill="#ffff00"/>
<rect x="406.98" y="0.00" width="6.46" height="6.46" fill="#66ffff"/>
<rect x="413.44" y="0.00" width="6.46" height="6.46" fill="#ffff00"/>
<rect x="0.00" y="6.46" width="6.46" height="6.46" fill="#ffff00"/>
<rect x="6.46" y="6.46" width="6.46" height="6.46" fill="#66ffff"/>
<rect x="19.38" y="6.46" width="6.46" height="6.46" fill="#ffff00"/>
<rect x="25.84" y="6.46" width="6.46" height="6.46" fill="#33f033"/>
<rect x="38.76" y="6.46" width="6.46" height="6.46" fill="#66ffff"/>
<rect x="45.22" y="6.46" width="6.46" height="6.46" fill="#ffff00"/>
<rect x="51.68" y="6.46" width="6.46" height="6.46" fill="#66ffff"/>
<rect x="58.14" y="6.46" width="12.92" height="6.46" fill="#ffff00"/>
<rect x="71.06" y="6.46" width="6.46" height="6.46" fill="#66ffff"/>
<rect x="90.44" y="6.46" width="6.46" height="6.46" fill="#ffff00"/>
<rect x="96.90" y="6.46" width="6.46" height="6.46" fill="#33f033"/>
<rect x="103.36" y="6.46" width="6.46" height="6.46" fill="#ffff00"/>
<rect x="142.12" y="6.46" width="6.46" height="6.46" fill="#66ffff"/>
<rect x="148.58" y="6.46" width="6.46" height="6.46" fill="#ffff00"/>
<rect x="161.50" y="6.46" width="6.46" height="6.46" fill="#ffff00"/>
<rect x="316.54" y="6.46" width="12.92" height="6.46" fill="#ffff00"/>
<rect x="329.46" y="6.46" width="6.46" height="6.46" fill="#33f033"/>
<rect x="342.38" y="6.46" width="12.92" height="6.46" fill="#ffff00"/>
<rect x="361.76" y="6.46" width="6.46" height="6.46" fill="#ffff00"/>
<rect x="406.98" y="6.46" width="6.46" height="6.46" fill="#66ffff"/>
<rect x="6.46" y="12.92" width="6.46" height="6.46" fill="#66ffff"/>
<rect x="12.92" y="12.92" width="6.46" height="6.46" fill="#ffff00"/>
<rect x="19.38" y="12.92" width="12.92" height="6.46" fill="#33f033"/>
<rect x="45.22" y="12.92" width="6.46" height="6.46" fill="#ffff00"/>
<rect x="51.68" y="12.92" width="6.46" height="6.46" fill="#66ffff"/>
<rect x="58.14" y="12.92" width="6.46" height="6.46" fill="#ffff00"/>
<rect x="71.06" y="12.92" width="6.46" height="6.46" fill="#ffff00"/>
<rect x="90.44" y="12.92" width="12.92" height="6.46" fill="#66ffff"/>
<rect x="142.12" y="12.92" width="6.46" height="6.46" fill="#66ffff"/>
<rect x="161.50" y="12.92" width="6.46" height="6.46" fill="#66ffff"/>
<rect x="200.26" y="12.92" width="12.92" height="6.46" fill="#ffff00"/>
<rect x="264.86" y="12.92" width="6.46" height="6.46" fill="#ffff00"/>
<rect x="290.70" y="12.92" width="12.92" height="6.46" fill="#66ffff"/>
<rect x="316.54" y="12.92" width="19.38" height="6.46" fill="#66ffff"/>
<rect x="342.38" y="12.92" width="6.46" height="6.46" fill="#66ffff"/>
<rect x="355.30" y="12.92" width="12.92" height="6.46" fill="#ffff00"/>
<rect x="400.52" y="12.92" width="12.92" height="6.46" fill="#66ffff"/>
<rect x="413.44" y="12.92" width="6.46" height="6.46" fill="#ffff00"/>
<rect x="0.00" y="19.38" width="6.46" height="6.46" fill="#ffff00"/>
<rect x="6.46" y="19.38" width="6.46" height="6.46" fill="#66ffff"/>
<rect x="12.92" y="19.38" width="6.46" height="6.46" fill="#ffff00"/>
<rect x="19.38" y="19.38" width="6.46" height="6.46" fill="#66ffff"/>
<rect x="25.84" y="19.38" width="6.46" height="6.46" fill="#33f033"/>
<rect x="51.68" y="19.38" width="6.46" height="6.46" fill="#66ffff"/>
<rect x="71.06" y="19.38" width="6.46" height="6.46" fill="#ffff00"/>
<rect x="96.90" y="19.38" width="6.46" height="6.46" fill="#ffff00"/>
<rect x="161.50" y="19.38" width="6.46" height="6.46" fill="#66ffff"/>
<rect x="174.42" y="19.38" width="12.92" height="6.46" fill="#ffff00"/>
<rect x="200.26" y="19.38" width="6.46" height="6.46" fill="#ffff00"/>
<rect x="226.10" y="19.38" width="6.46" height="6.46" fill="#ffff00"/>
<rect x="264.86" y="19.38" width="6.46" height="6.46" fill="#ffff00"/>
<rect x="277.78" y="19.38" width="12.92" height="6.46" fill="#ffff00"/>
<rect x="290.70" y="19.38" width="12.92" height="6.46" fill="#66ffff"/>
<rect x="310.08" y="19.38" width="19.38" height="6.46" fill="#ffff00"/>
<rect x="329.46" y="19.38" width="12.92" height="6.46" fill="#66ffff"/>
<rect x="342.38" y="19.38" width="6.46" height="6.46" fill="#ffff00"/>
<rect x="355.30" y="19.38" width="6.46" height="6.46" fill="#66ffff"/>
<rect x="368.22" y="19.38" width="12.92" height="6.46" fill="#ffff00"/>
<rect x="394.06" y="19.38" width="6.46" height="6.46" fill="#ffff00"/>
<rect x="400.52" y="19.38" width="12.92" height="6.46" fill="#66ffff"/>
<rect x="419.90" y="19.38" width="6.46" height="6.46" fill="#ffff00"/>
<rect x="6.46" y="25.84" width="6.46" height="6.46" fill="#66ffff"/>
<rect x="12.92" y="25.84" width="6.46" height="6.46" fill="#ffff00"/>
<rect x="19.38" y="25.84" width="12.92" height="6.46" fill="#33f033"/>
<rect x="45.22" y="25.84" width="19.38" height="6.46" fill="#ffff00"/>
<rect x="71.06" y="25.84" width="6.46" height="6.46" fill="#ffff00"/>
<rect x="90.44" y="25.84" width="6.46" height="6.46" fill="#ffff00"/>
<rect x="96.90" y="25.84" width="6.46" height="6.46" fill="#33f033"/>
<rect x="103.36" y="25.84" width="6.46" height="6.46" fill="#ffff00"/>
<rect x="109.82" y="25.84" width="12.92" height="6.46" fill="#33f033"/>
<rect x="135.66" y="25.84" width="6.46" height="6.46" fill="#ffff00"/>
<rect x="142.12" y="25.84" width="6.46" height="6.46" fill="#66ffff"/>
<rect x="316.54" y="25.84" width="6.46" height="6.46" fill="#ffff00"/>
<rect x="348.84" y="25.84" width="6.46" height="6.46" fill="#66ffff"/>
<rect x="355.30" y="25.84" width="25.84" height="6.46" fill="#ffff00"/>
<rect x="394.06" y="25.84" width="6.46" height="6.46" fill="#ffff00"/>
<rect x="406.98" y="25.84" width="6.46" height="6.46" fill="#66ffff"/>
<rect x="6.46" y="32.30" width="6.46" height="6.46" fill="#66ffff"/>
<rect x="12.92" y="32.30" width="6.46" height="6.46" fill="#ffff00"/>
<rect x="19.38" y="32.30" width="6.46" height="6.46" fill="#66ffff"/>
<rect x="25.84" y="32.30" width="6.46" height="6.46" fill="#33f033"/>
<rect x="45.22" y="32.30" width="6.46" height="6.46" fill="#ffff00"/>
<rect x="58.14" y="32.30" width="6.46" height="6.46" fill="#ffff00"/>
<rect x="71.06" y="32.30" width="6.46" height="6.46" fill="#ffff00"/>
<rect x="90.44" y="32.30" width="12.92" height="6.46" fill="#66ffff"/>
<rect x="109.82" y="32.30" width="12.92" height="6.46" fill="#66ffff"/>
<rect x="155.04" y="32.30" width="6.46" height="6.46" fill="#ffff00"/>
<rect x="174.42" y="32.30" width="6.46" height="6.46" fill="#ffff00"/>
<rect x="316.54" y="32.30" width="6.46" height="6.46" fill="#ffff00"/>
<rect x="329.46" y="32.30" width="6.46" height="6.46" fill="#66ffff"/>
<rect x="342.38" y="32.30" width="12.92" height="6.46" fill="#ffff00"/>
<rect x="355.30" y="32.30" width="6.46" height="6.46" fill="#66ffff"/>
<rect x="361.76" y="32.30" width="6.46" height="6.46" fill="#ffff00"/>
<rect x="381.14" y="32.30" width="6.46" height="6.46" fill="#ffff00"/>
<rect x="387.60" y="32.30" width="6.46" height="6.46" fill="#66ffff"/>
<rect x="394.06" y="32.30" width="6.46" height="6.46" fill="#ffff00"/>
<rect x="400.52" y="32.30" width="19.38" height="6.46" fill="#66ffff"/>
<rect x="419.90" y="32.30" width="6.46" height="6.46" fill="#ffff00"/>
<rect x="6.46" y="38.76" width="6.46" height="6.46" fill="#ffff00"/>
<rect x="38.76" y="38.76" width="6.46" height="6.46" fill="#ffff00"/>
<rect x="51.68" y="38.76" width="6.46" height="6.46" fill="#ffff00"/>
<rect x="64.60" y="38.76" width="12.92" height="6.46" fill="#ffff00"/>
<rect x="96.90" y="38.76" width="6.46" height="6.46" fill="#66ffff"/>
<rect x="109.82" y="38.76" width="12.92" height="6.46" fill="#66ffff"/>
<rect x="316.54" y="38.76" width="6.46" height="6.46" fill="#ffff00"/>
<rect x="348.84" y="38.76" width="6.46" height="6.46" fill="#66ffff"/>
<rect x="355.30" y="38.76" width="25.84" height="6.46" fill="#ffff00"/>
<rect x="394.06" y="38.76" width="12.92" height="6.46" fill="#ffff00"/>
<rect x="406.98" y="38.76" width="6.46" height="6.46" fill="#66ffff"/>
<rect x="419.90" y="38.76" width="6.46" height="6.46" fill="#ffff00"/>
<rect x="6.46" y="45.22" width="6.46" height="6.46" fill="#66ffff"/>
<rect x="12.92" y="45.22" width="6.46" height="6.46" fill="#ffff00"/>
<rect x="19.38" y="45.22" width="12.92" height="6.46" fill="#33f033"/>
<rect x="38.76" y="45.22" width="6.46" height="6.46" fill="#ffff00"/>
<rect x="51.68" y="45.22" width="6.46" height="6.46" fill="#66ffff"/>
<rect x="71.06" y="45.22" width="6.46" height="6.46" fill="#ffff00"/>
<rect x="90.44" y="45.22" width="6.46" height="6.46" fill="#66ffff"/>
<rect x="96.90" y="45.22" width="6.46" height="6.46" fill="#33f033"/>
<rect x="103.36" y="45.22" width="19.38" height="6.46" fill="#ffff00"/>
<rect x="142.12" y="45.22" width="6.46" height="6.46" fill="#ffff00"/>
<rect x="161.50" y="45.22" width="6.46" height="6.46" fill="#66ffff"/>
<rect x="174.42" y="45.22" width="6.46" height="6.46" fill="#ffff00"/>
<rect x="200.26" y="45.22" width="12.92" height="6.46" fill="#ffff00"/>
<rect x="264.86" y="45.22" width="12.92" height="6.46" fill="#ffff00"/>
<rect x="290.70" y="45.22" width="12.92" height="6.46" fill="#66ffff"/>
<rect x="310.08" y="45.22" width="12.92" height="6.46" fill="#ffff00"/>
<rect x="348.84" y="45.22" width="12.92" height="6.46" fill="#66ffff"/>
<rect x="361.76" y="45.22" width="6.46" height="6.46" fill="#ffff00"/>
<rect x="381.14" y="45.22" width="12.92" height="6.46" fill="#ffff00"/>
<rect x="400.52" y="45.22" width="12.92" height="6.46" fill="#66ffff"/>
<rect x="0.00" y="51.68" width="6.46" height="6.46" fill="#ffff00"/>
<rect x="6.46" y="51.68" width="25.84" height="6.46" fill="#66ffff"/>
<rect x="58.14" y="51.68" width="6.46" height="6.46" fill="#ffff00"/>
<rect x="96.90" y="51.68" width="6.46" height="6.46" fill="#ffff00"/>
<rect x="297.16" y="51.68" width="6.46" height="6.46" fill="#66ffff"/>
<rect x="310.08" y="51.68" width="12.92" height="6.46" fill="#ffff00"/>
<rect x="329.46" y="51.68" width="6.46" height="6.46" fill="#ffff00"/>
<rect x="342.38" y="51.68" width="12.92" height="6.46" fill="#ffff00"/>
<rect x="368.22" y="51.68" width="6.46" height="6.46" fill="#ffff00"/>
<rect x="381.14" y="51.68" width="12.92" height="6.46" fill="#ffff00"/>
<rect x="400.52" y="51.68" width="12.92" height="6.46" fill="#66ffff"/>
<rect x="419.90" y="51.68" width="6.46" height="6.46" fill="#ffff00"/>
<path d="M0.00 0V58.14M6.46 0V58.14M12.92 0V58.14M19.38 0V58.14M25.84 0V58.14M32.30 0V58.14M38.76 0V58.14M45.22 0V58.14M51.68 0V58.14M58.14 0V58.14M64.60 0V58.14M71.06 0V58.14M77.52 0V58.14M83.98 0V58.14M90.44 0V58.14M96.90 0V58.14M103.36 0V58.14M109.82 0V58.14M116.28 0V58.14M122.74 0V58.14M129.20 0V58.14M135.66 0V58.14M142.12 0V58.14M148.58 0V58.14M155.04 0V58.14M161.50 0V58.14M167.96 0V58.14M174.42 0V58.14M180.88 0V58.14M187.34 0V58.14M193.80 0V58.14M200.26 0V58.14M206.72 0V58.14M213.18 0V58.14M219.64 0V58.14M226.10 0V58.14M232.56 0V58.14M239.02 0V58.14M245.48 0V58.14M251.94 0V58.14M258.40 0V58.14M264.86 0V58.14M271.32 0V58.14M277.78 0V58.14M284.24 0V58.14M290.70 0V58.14M297.16 0V58.14M303.62 0V58.14M310.08 0V58.14M316.54 0V58.14M323.00 0V58.14M329.46 0V58.14M335.92 0V58.14M342.38 0V58.14M348.84 0V58.14M355.30 0V58.14M361.76 0V58.14M368.22 0V58.14M374.68 0V58.14M381.14 0V58.14M387.60 0V58.14M394.06 0V58.14M400.52 0V58.14M406.98 0V58.14M413.44 0V58.14M419.90 0V58.14M426.36 0V58.14M0 0.00H426.36M0 6.46H426.36M0 12.92H426.36M0 19.38H426.36M0 25.84H426.36M0 32.30H426.36M0 38.76H426.36M0 45.22H426.36M0 51.68H426.36M0 58.14H426.36" stroke="#111" stroke-width="1.3" fill="none" stroke-linecap="square"/>
</g>
<g transform="translate(46.2,388.70)">
<rect x="0" y="0" width="361.76" height="58.14" fill="#fff"/>
<rect x="0.00" y="0.00" width="6.46" height="6.46" fill="#ffff00"/>
<rect x="38.76" y="0.00" width="12.92" height="6.46" fill="#ffff00"/>
<rect x="232.56" y="0.00" width="6.46" height="6.46" fill="#ffff00"/>
<rect x="245.48" y="0.00" width="6.46" height="6.46" fill="#66ffff"/>
<rect x="264.86" y="0.00" width="6.46" height="6.46" fill="#ffff00"/>
<rect x="271.32" y="0.00" width="6.46" height="6.46" fill="#66ffff"/>
<rect x="297.16" y="0.00" width="19.38" height="6.46" fill="#ffff00"/>
<rect x="323.00" y="0.00" width="12.92" height="6.46" fill="#66ffff"/>
<rect x="335.92" y="0.00" width="6.46" height="6.46" fill="#33f033"/>
<rect x="342.38" y="0.00" width="12.92" height="6.46" fill="#ffff00"/>
<rect x="25.84" y="6.46" width="6.46" height="6.46" fill="#66ffff"/>
<rect x="32.30" y="6.46" width="12.92" height="6.46" fill="#ffff00"/>
<rect x="45.22" y="6.46" width="6.46" height="6.46" fill="#66ffff"/>
<rect x="213.18" y="6.46" width="6.46" height="6.46" fill="#ffff00"/>
<rect x="219.64" y="6.46" width="6.46" height="6.46" fill="#66ffff"/>
<rect x="232.56" y="6.46" width="6.46" height="6.46" fill="#ffff00"/>
<rect x="245.48" y="6.46" width="6.46" height="6.46" fill="#66ffff"/>
<rect x="297.16" y="6.46" width="6.46" height="6.46" fill="#ffff00"/>
<rect x="323.00" y="6.46" width="12.92" height="6.46" fill="#66ffff"/>
<rect x="335.92" y="6.46" width="6.46" height="6.46" fill="#ffff00"/>
<rect x="0.00" y="12.92" width="12.92" height="6.46" fill="#ffff00"/>
<rect x="12.92" y="12.92" width="12.92" height="6.46" fill="#66ffff"/>
<rect x="25.84" y="12.92" width="6.46" height="6.46" fill="#33f033"/>
<rect x="32.30" y="12.92" width="19.38" height="6.46" fill="#ffff00"/>
<rect x="219.64" y="12.92" width="6.46" height="6.46" fill="#ffff00"/>
<rect x="226.10" y="12.92" width="6.46" height="6.46" fill="#66ffff"/>
<rect x="232.56" y="12.92" width="6.46" height="6.46" fill="#ffff00"/>
<rect x="245.48" y="12.92" width="6.46" height="6.46" fill="#66ffff"/>
<rect x="251.94" y="12.92" width="12.92" height="6.46" fill="#ffff00"/>
<rect x="264.86" y="12.92" width="6.46" height="6.46" fill="#66ffff"/>
<rect x="271.32" y="12.92" width="6.46" height="6.46" fill="#ffff00"/>
<rect x="297.16" y="12.92" width="6.46" height="6.46" fill="#ffff00"/>
<rect x="310.08" y="12.92" width="6.46" height="6.46" fill="#ffff00"/>
<rect x="316.54" y="12.92" width="6.46" height="6.46" fill="#66ffff"/>
<rect x="323.00" y="12.92" width="6.46" height="6.46" fill="#ffff00"/>
<rect x="329.46" y="12.92" width="6.46" height="6.46" fill="#66ffff"/>
<rect x="335.92" y="12.92" width="6.46" height="6.46" fill="url(#dp)"/>
<rect x="342.38" y="12.92" width="12.92" height="6.46" fill="#ffff00"/>
<rect x="12.92" y="19.38" width="19.38" height="6.46" fill="#66ffff"/>
<rect x="38.76" y="19.38" width="12.92" height="6.46" fill="#ffff00"/>
<rect x="232.56" y="19.38" width="6.46" height="6.46" fill="#ffff00"/>
<rect x="245.48" y="19.38" width="6.46" height="6.46" fill="#66ffff"/>
<rect x="284.24" y="19.38" width="6.46" height="6.46" fill="#66ffff"/>
<rect x="290.70" y="19.38" width="6.46" height="6.46" fill="#ffff00"/>
<rect x="297.16" y="19.38" width="12.92" height="6.46" fill="#66ffff"/>
<rect x="310.08" y="19.38" width="19.38" height="6.46" fill="#ffff00"/>
<rect x="348.84" y="19.38" width="6.46" height="6.46" fill="#ffff00"/>
<rect x="6.46" y="25.84" width="6.46" height="6.46" fill="#ffff00"/>
<rect x="12.92" y="25.84" width="19.38" height="6.46" fill="#66ffff"/>
<rect x="32.30" y="25.84" width="19.38" height="6.46" fill="#ffff00"/>
<rect x="71.06" y="25.84" width="12.92" height="6.46" fill="#ffff00"/>
<rect x="103.36" y="25.84" width="6.46" height="6.46" fill="#ffff00"/>
<rect x="200.26" y="25.84" width="19.38" height="6.46" fill="#ffff00"/>
<rect x="226.10" y="25.84" width="6.46" height="6.46" fill="#66ffff"/>
<rect x="245.48" y="25.84" width="12.92" height="6.46" fill="#ffff00"/>
<rect x="258.40" y="25.84" width="19.38" height="6.46" fill="#66ffff"/>
<rect x="284.24" y="25.84" width="6.46" height="6.46" fill="#ffff00"/>
<rect x="297.16" y="25.84" width="19.38" height="6.46" fill="#ffff00"/>
<rect x="316.54" y="25.84" width="6.46" height="6.46" fill="#66ffff"/>
<rect x="323.00" y="25.84" width="12.92" height="6.46" fill="#ffff00"/>
<rect x="335.92" y="25.84" width="6.46" height="6.46" fill="#66ffff"/>
<rect x="342.38" y="25.84" width="6.46" height="6.46" fill="#ffff00"/>
<rect x="0.00" y="32.30" width="12.92" height="6.46" fill="#ffff00"/>
<rect x="12.92" y="32.30" width="12.92" height="6.46" fill="#66ffff"/>
<rect x="25.84" y="32.30" width="6.46" height="6.46" fill="#33f033"/>
<rect x="32.30" y="32.30" width="12.92" height="6.46" fill="#ffff00"/>
<rect x="77.52" y="32.30" width="6.46" height="6.46" fill="#ffff00"/>
<rect x="200.26" y="32.30" width="12.92" height="6.46" fill="#ffff00"/>
<rect x="213.18" y="32.30" width="6.46" height="6.46" fill="#66ffff"/>
<rect x="219.64" y="32.30" width="6.46" height="6.46" fill="#ffff00"/>
<rect x="245.48" y="32.30" width="6.46" height="6.46" fill="#66ffff"/>
<rect x="264.86" y="32.30" width="6.46" height="6.46" fill="#ffff00"/>
<rect x="297.16" y="32.30" width="12.92" height="6.46" fill="#ffff00"/>
<rect x="323.00" y="32.30" width="19.38" height="6.46" fill="#ffff00"/>
<rect x="348.84" y="32.30" width="6.46" height="6.46" fill="#ffff00"/>
<rect x="38.76" y="38.76" width="6.46" height="6.46" fill="#ffff00"/>
<rect x="71.06" y="38.76" width="12.92" height="6.46" fill="#ffff00"/>
<rect x="213.18" y="38.76" width="6.46" height="6.46" fill="#ffff00"/>
<rect x="219.64" y="38.76" width="12.92" height="6.46" fill="#66ffff"/>
<rect x="245.48" y="38.76" width="6.46" height="6.46" fill="#66ffff"/>
<rect x="258.40" y="38.76" width="19.38" height="6.46" fill="#66ffff"/>
<rect x="297.16" y="38.76" width="6.46" height="6.46" fill="#ffff00"/>
<rect x="323.00" y="38.76" width="12.92" height="6.46" fill="#66ffff"/>
<rect x="335.92" y="38.76" width="6.46" height="6.46" fill="#33f033"/>
<rect x="342.38" y="38.76" width="6.46" height="6.46" fill="#ffff00"/>
<rect x="6.46" y="45.22" width="6.46" height="6.46" fill="#ffff00"/>
<rect x="12.92" y="45.22" width="19.38" height="6.46" fill="#66ffff"/>
<rect x="32.30" y="45.22" width="19.38" height="6.46" fill="#ffff00"/>
<rect x="77.52" y="45.22" width="6.46" height="6.46" fill="#66ffff"/>
<rect x="90.44" y="45.22" width="19.38" height="6.46" fill="#ffff00"/>
<rect x="116.28" y="45.22" width="6.46" height="6.46" fill="#ffff00"/>
<rect x="174.42" y="45.22" width="6.46" height="6.46" fill="#66ffff"/>
<rect x="213.18" y="45.22" width="6.46" height="6.46" fill="#ffff00"/>
<rect x="219.64" y="45.22" width="12.92" height="6.46" fill="#66ffff"/>
<rect x="245.48" y="45.22" width="6.46" height="6.46" fill="#66ffff"/>
<rect x="264.86" y="45.22" width="6.46" height="6.46" fill="#ffff00"/>
<rect x="271.32" y="45.22" width="6.46" height="6.46" fill="#66ffff"/>
<rect x="297.16" y="45.22" width="6.46" height="6.46" fill="#ffff00"/>
<rect x="310.08" y="45.22" width="6.46" height="6.46" fill="#ffff00"/>
<rect x="323.00" y="45.22" width="6.46" height="6.46" fill="#66ffff"/>
<rect x="329.46" y="45.22" width="6.46" height="6.46" fill="#ffff00"/>
<rect x="335.92" y="45.22" width="6.46" height="6.46" fill="#66ffff"/>
<rect x="342.38" y="45.22" width="6.46" height="6.46" fill="#ffff00"/>
<rect x="0.00" y="51.68" width="12.92" height="6.46" fill="#ffff00"/>
<rect x="12.92" y="51.68" width="19.38" height="6.46" fill="#66ffff"/>
<rect x="32.30" y="51.68" width="19.38" height="6.46" fill="#ffff00"/>
<rect x="232.56" y="51.68" width="6.46" height="6.46" fill="#ffff00"/>
<rect x="245.48" y="51.68" width="6.46" height="6.46" fill="#66ffff"/>
<rect x="297.16" y="51.68" width="6.46" height="6.46" fill="#ffff00"/>
<rect x="310.08" y="51.68" width="6.46" height="6.46" fill="#ffff00"/>
<rect x="323.00" y="51.68" width="12.92" height="6.46" fill="#ffff00"/>
<rect x="335.92" y="51.68" width="6.46" height="6.46" fill="#66ffff"/>
<rect x="342.38" y="51.68" width="6.46" height="6.46" fill="#ffff00"/>
<path d="M0.00 0V58.14M6.46 0V58.14M12.92 0V58.14M19.38 0V58.14M25.84 0V58.14M32.30 0V58.14M38.76 0V58.14M45.22 0V58.14M51.68 0V58.14M58.14 0V58.14M64.60 0V58.14M71.06 0V58.14M77.52 0V58.14M83.98 0V58.14M90.44 0V58.14M96.90 0V58.14M103.36 0V58.14M109.82 0V58.14M116.28 0V58.14M122.74 0V58.14M129.20 0V58.14M135.66 0V58.14M142.12 0V58.14M148.58 0V58.14M155.04 0V58.14M161.50 0V58.14M167.96 0V58.14M174.42 0V58.14M180.88 0V58.14M187.34 0V58.14M193.80 0V58.14M200.26 0V58.14M206.72 0V58.14M213.18 0V58.14M219.64 0V58.14M226.10 0V58.14M232.56 0V58.14M239.02 0V58.14M245.48 0V58.14M251.94 0V58.14M258.40 0V58.14M264.86 0V58.14M271.32 0V58.14M277.78 0V58.14M284.24 0V58.14M290.70 0V58.14M297.16 0V58.14M303.62 0V58.14M310.08 0V58.14M316.54 0V58.14M323.00 0V58.14M329.46 0V58.14M335.92 0V58.14M342.38 0V58.14M348.84 0V58.14M355.30 0V58.14M361.76 0V58.14M0 0.00H361.76M0 6.46H361.76M0 12.92H361.76M0 19.38H361.76M0 25.84H361.76M0 32.30H361.76M0 38.76H361.76M0 45.22H361.76M0 51.68H361.76M0 58.14H361.76" stroke="#111" stroke-width="1.3" fill="none" stroke-linecap="square"/>
</g>
<g transform="translate(46.2,453.30)">
<rect x="0" y="0" width="394.06" height="58.14" fill="#fff"/>
<rect x="12.92" y="0.00" width="6.46" height="6.46" fill="#ffff00"/>
<rect x="32.30" y="0.00" width="6.46" height="6.46" fill="#ffff00"/>
<rect x="38.76" y="0.00" width="6.46" height="6.46" fill="#66ffff"/>
<rect x="51.68" y="0.00" width="19.38" height="6.46" fill="#66ffff"/>
<rect x="71.06" y="0.00" width="6.46" height="6.46" fill="#33f033"/>
<rect x="77.52" y="0.00" width="12.92" height="6.46" fill="#ffff00"/>
<rect x="103.36" y="0.00" width="6.46" height="6.46" fill="#66ffff"/>
<rect x="116.28" y="0.00" width="6.46" height="6.46" fill="#66ffff"/>
<rect x="122.74" y="0.00" width="19.38" height="6.46" fill="#ffff00"/>
<rect x="148.58" y="0.00" width="6.46" height="6.46" fill="#ffff00"/>
<rect x="180.88" y="0.00" width="6.46" height="6.46" fill="#ffff00"/>
<rect x="206.72" y="0.00" width="6.46" height="6.46" fill="#ffff00"/>
<rect x="219.64" y="0.00" width="6.46" height="6.46" fill="#ffff00"/>
<rect x="239.02" y="0.00" width="6.46" height="6.46" fill="#ffff00"/>
<rect x="245.48" y="0.00" width="6.46" height="6.46" fill="#66ffff"/>
<rect x="251.94" y="0.00" width="12.92" height="6.46" fill="#ffff00"/>
<rect x="271.32" y="0.00" width="12.92" height="6.46" fill="#ffff00"/>
<rect x="310.08" y="0.00" width="6.46" height="6.46" fill="#ffff00"/>
<rect x="342.38" y="0.00" width="19.38" height="6.46" fill="#ffff00"/>
<rect x="368.22" y="0.00" width="12.92" height="6.46" fill="#ffff00"/>
<rect x="381.14" y="0.00" width="12.92" height="6.46" fill="#66ffff"/>
<rect x="0.00" y="6.46" width="12.92" height="6.46" fill="#66ffff"/>
<rect x="32.30" y="6.46" width="6.46" height="6.46" fill="#ffff00"/>
<rect x="38.76" y="6.46" width="6.46" height="6.46" fill="#66ffff"/>
<rect x="51.68" y="6.46" width="19.38" height="6.46" fill="#66ffff"/>
<rect x="71.06" y="6.46" width="6.46" height="6.46" fill="#33f033"/>
<rect x="77.52" y="6.46" width="6.46" height="6.46" fill="#ffff00"/>
<rect x="116.28" y="6.46" width="12.92" height="6.46" fill="#ffff00"/>
<rect x="148.58" y="6.46" width="6.46" height="6.46" fill="#ffff00"/>
<rect x="180.88" y="6.46" width="6.46" height="6.46" fill="#ffff00"/>
<rect x="206.72" y="6.46" width="6.46" height="6.46" fill="#ffff00"/>
<rect x="219.64" y="6.46" width="6.46" height="6.46" fill="#ffff00"/>
<rect x="239.02" y="6.46" width="6.46" height="6.46" fill="#ffff00"/>
<rect x="245.48" y="6.46" width="6.46" height="6.46" fill="#66ffff"/>
<rect x="251.94" y="6.46" width="12.92" height="6.46" fill="#ffff00"/>
<rect x="271.32" y="6.46" width="12.92" height="6.46" fill="#ffff00"/>
<rect x="342.38" y="6.46" width="19.38" height="6.46" fill="#ffff00"/>
<rect x="368.22" y="6.46" width="12.92" height="6.46" fill="#ffff00"/>
<rect x="381.14" y="6.46" width="12.92" height="6.46" fill="#66ffff"/>
<rect x="6.46" y="12.92" width="6.46" height="6.46" fill="#ffff00"/>
<rect x="19.38" y="12.92" width="6.46" height="6.46" fill="#ffff00"/>
<rect x="32.30" y="12.92" width="6.46" height="6.46" fill="#ffff00"/>
<rect x="38.76" y="12.92" width="6.46" height="6.46" fill="#66ffff"/>
<rect x="51.68" y="12.92" width="19.38" height="6.46" fill="#66ffff"/>
<rect x="71.06" y="12.92" width="6.46" height="6.46" fill="#33f033"/>
<rect x="142.12" y="12.92" width="12.92" height="6.46" fill="#66ffff"/>
<rect x="180.88" y="12.92" width="6.46" height="6.46" fill="#ffff00"/>
<rect x="219.64" y="12.92" width="6.46" height="6.46" fill="#ffff00"/>
<rect x="239.02" y="12.92" width="6.46" height="6.46" fill="#ffff00"/>
<rect x="245.48" y="12.92" width="6.46" height="6.46" fill="#66ffff"/>
<rect x="251.94" y="12.92" width="12.92" height="6.46" fill="#ffff00"/>
<rect x="271.32" y="12.92" width="12.92" height="6.46" fill="#ffff00"/>
<rect x="335.92" y="12.92" width="38.76" height="6.46" fill="#ffff00"/>
<rect x="381.14" y="12.92" width="6.46" height="6.46" fill="#66ffff"/>
<rect x="6.46" y="19.38" width="6.46" height="6.46" fill="#ffff00"/>
<rect x="12.92" y="19.38" width="6.46" height="6.46" fill="#66ffff"/>
<rect x="25.84" y="19.38" width="6.46" height="6.46" fill="#ffff00"/>
<rect x="38.76" y="19.38" width="6.46" height="6.46" fill="#ffff00"/>
<rect x="51.68" y="19.38" width="6.46" height="6.46" fill="#66ffff"/>
<rect x="58.14" y="19.38" width="6.46" height="6.46" fill="#ffff00"/>
<rect x="64.60" y="19.38" width="6.46" height="6.46" fill="#66ffff"/>
<rect x="71.06" y="19.38" width="6.46" height="6.46" fill="#33f033"/>
<rect x="206.72" y="19.38" width="6.46" height="6.46" fill="#66ffff"/>
<rect x="239.02" y="19.38" width="6.46" height="6.46" fill="#ffff00"/>
<rect x="251.94" y="19.38" width="32.30" height="6.46" fill="#ffff00"/>
<rect x="284.24" y="19.38" width="6.46" height="6.46" fill="#66ffff"/>
<rect x="348.84" y="19.38" width="6.46" height="6.46" fill="#66ffff"/>
<rect x="355.30" y="19.38" width="19.38" height="6.46" fill="#ffff00"/>
<rect x="381.14" y="19.38" width="6.46" height="6.46" fill="#ffff00"/>
<rect x="387.60" y="19.38" width="6.46" height="6.46" fill="#66ffff"/>
<rect x="0.00" y="25.84" width="6.46" height="6.46" fill="#66ffff"/>
<rect x="6.46" y="25.84" width="6.46" height="6.46" fill="#33f033"/>
<rect x="12.92" y="25.84" width="6.46" height="6.46" fill="#ffff00"/>
<rect x="25.84" y="25.84" width="6.46" height="6.46" fill="#ffff00"/>
<rect x="38.76" y="25.84" width="6.46" height="6.46" fill="#ffff00"/>
<rect x="51.68" y="25.84" width="6.46" height="6.46" fill="#66ffff"/>
<rect x="71.06" y="25.84" width="6.46" height="6.46" fill="#66ffff"/>
<rect x="103.36" y="25.84" width="6.46" height="6.46" fill="#66ffff"/>
<rect x="116.28" y="25.84" width="6.46" height="6.46" fill="#ffff00"/>
<rect x="142.12" y="25.84" width="12.92" height="6.46" fill="#66ffff"/>
<rect x="180.88" y="25.84" width="6.46" height="6.46" fill="#ffff00"/>
<rect x="239.02" y="25.84" width="6.46" height="6.46" fill="#ffff00"/>
<rect x="264.86" y="25.84" width="6.46" height="6.46" fill="#ffff00"/>
<rect x="271.32" y="25.84" width="19.38" height="6.46" fill="#66ffff"/>
<rect x="348.84" y="25.84" width="12.92" height="6.46" fill="#ffff00"/>
<rect x="361.76" y="25.84" width="6.46" height="6.46" fill="#66ffff"/>
<rect x="368.22" y="25.84" width="19.38" height="6.46" fill="#ffff00"/>
<rect x="387.60" y="25.84" width="6.46" height="6.46" fill="#66ffff"/>
<rect x="25.84" y="32.30" width="6.46" height="6.46" fill="#ffff00"/>
<rect x="38.76" y="32.30" width="6.46" height="6.46" fill="#66ffff"/>
<rect x="51.68" y="32.30" width="6.46" height="6.46" fill="#66ffff"/>
<rect x="58.14" y="32.30" width="19.38" height="6.46" fill="#ffff00"/>
<rect x="83.98" y="32.30" width="6.46" height="6.46" fill="#ffff00"/>
<rect x="103.36" y="32.30" width="6.46" height="6.46" fill="#66ffff"/>
<rect x="116.28" y="32.30" width="6.46" height="6.46" fill="#ffff00"/>
<rect x="142.12" y="32.30" width="12.92" height="6.46" fill="#66ffff"/>
<rect x="180.88" y="32.30" width="6.46" height="6.46" fill="#ffff00"/>
<rect x="219.64" y="32.30" width="6.46" height="6.46" fill="#ffff00"/>
<rect x="239.02" y="32.30" width="6.46" height="6.46" fill="#ffff00"/>
<rect x="245.48" y="32.30" width="6.46" height="6.46" fill="#66ffff"/>
<rect x="251.94" y="32.30" width="6.46" height="6.46" fill="#ffff00"/>
<rect x="271.32" y="32.30" width="6.46" height="6.46" fill="#66ffff"/>
<rect x="284.24" y="32.30" width="6.46" height="6.46" fill="#ffff00"/>
<rect x="342.38" y="32.30" width="12.92" height="6.46" fill="#66ffff"/>
<rect x="355.30" y="32.30" width="19.38" height="6.46" fill="#ffff00"/>
<rect x="387.60" y="32.30" width="6.46" height="6.46" fill="#66ffff"/>
<rect x="6.46" y="38.76" width="6.46" height="6.46" fill="#ffff00"/>
<rect x="19.38" y="38.76" width="6.46" height="6.46" fill="#ffff00"/>
<rect x="32.30" y="38.76" width="6.46" height="6.46" fill="#ffff00"/>
<rect x="38.76" y="38.76" width="6.46" height="6.46" fill="#66ffff"/>
<rect x="51.68" y="38.76" width="19.38" height="6.46" fill="#66ffff"/>
<rect x="71.06" y="38.76" width="6.46" height="6.46" fill="#33f033"/>
<rect x="116.28" y="38.76" width="6.46" height="6.46" fill="#66ffff"/>
<rect x="148.58" y="38.76" width="6.46" height="6.46" fill="#ffff00"/>
<rect x="180.88" y="38.76" width="6.46" height="6.46" fill="#ffff00"/>
<rect x="219.64" y="38.76" width="6.46" height="6.46" fill="#ffff00"/>
<rect x="239.02" y="38.76" width="6.46" height="6.46" fill="#ffff00"/>
<rect x="245.48" y="38.76" width="6.46" height="6.46" fill="#66ffff"/>
<rect x="251.94" y="38.76" width="12.92" height="6.46" fill="#ffff00"/>
<rect x="271.32" y="38.76" width="12.92" height="6.46" fill="#ffff00"/>
<rect x="361.76" y="38.76" width="6.46" height="6.46" fill="#66ffff"/>
<rect x="374.68" y="38.76" width="6.46" height="6.46" fill="#ffff00"/>
<rect x="381.14" y="38.76" width="6.46" height="6.46" fill="#66ffff"/>
<rect x="0.00" y="45.22" width="19.38" height="6.46" fill="#66ffff"/>
<rect x="38.76" y="45.22" width="6.46" height="6.46" fill="#66ffff"/>
<rect x="51.68" y="45.22" width="12.92" height="6.46" fill="#66ffff"/>
<rect x="64.60" y="45.22" width="6.46" height="6.46" fill="#ffff00"/>
<rect x="71.06" y="45.22" width="6.46" height="6.46" fill="#66ffff"/>
<rect x="103.36" y="45.22" width="6.46" height="6.46" fill="#66ffff"/>
<rect x="142.12" y="45.22" width="12.92" height="6.46" fill="#66ffff"/>
<rect x="180.88" y="45.22" width="6.46" height="6.46" fill="#ffff00"/>
<rect x="219.64" y="45.22" width="6.46" height="6.46" fill="#ffff00"/>
<rect x="239.02" y="45.22" width="6.46" height="6.46" fill="#ffff00"/>
<rect x="245.48" y="45.22" width="6.46" height="6.46" fill="#66ffff"/>
<rect x="251.94" y="45.22" width="12.92" height="6.46" fill="#ffff00"/>
<rect x="271.32" y="45.22" width="12.92" height="6.46" fill="#ffff00"/>
<rect x="342.38" y="45.22" width="19.38" height="6.46" fill="#ffff00"/>
<rect x="361.76" y="45.22" width="6.46" height="6.46" fill="#66ffff"/>
<rect x="368.22" y="45.22" width="6.46" height="6.46" fill="#ffff00"/>
<rect x="381.14" y="45.22" width="6.46" height="6.46" fill="#66ffff"/>
<rect x="0.00" y="51.68" width="12.92" height="6.46" fill="#66ffff"/>
<rect x="19.38" y="51.68" width="19.38" height="6.46" fill="#ffff00"/>
<rect x="38.76" y="51.68" width="6.46" height="6.46" fill="#66ffff"/>
<rect x="51.68" y="51.68" width="6.46" height="6.46" fill="#ffff00"/>
<rect x="58.14" y="51.68" width="6.46" height="6.46" fill="#33f033"/>
<rect x="64.60" y="51.68" width="12.92" height="6.46" fill="#ffff00"/>
<rect x="83.98" y="51.68" width="6.46" height="6.46" fill="#ffff00"/>
<rect x="103.36" y="51.68" width="6.46" height="6.46" fill="#66ffff"/>
<rect x="116.28" y="51.68" width="6.46" height="6.46" fill="#ffff00"/>
<rect x="129.20" y="51.68" width="6.46" height="6.46" fill="#ffff00"/>
<rect x="155.04" y="51.68" width="6.46" height="6.46" fill="#ffff00"/>
<rect x="180.88" y="51.68" width="6.46" height="6.46" fill="#ffff00"/>
<rect x="219.64" y="51.68" width="6.46" height="6.46" fill="#ffff00"/>
<rect x="239.02" y="51.68" width="6.46" height="6.46" fill="#ffff00"/>
<rect x="245.48" y="51.68" width="12.92" height="6.46" fill="#66ffff"/>
<rect x="264.86" y="51.68" width="6.46" height="6.46" fill="#ffff00"/>
<rect x="277.78" y="51.68" width="6.46" height="6.46" fill="#ffff00"/>
<rect x="284.24" y="51.68" width="6.46" height="6.46" fill="#66ffff"/>
<rect x="342.38" y="51.68" width="19.38" height="6.46" fill="#ffff00"/>
<rect x="361.76" y="51.68" width="6.46" height="6.46" fill="#66ffff"/>
<rect x="368.22" y="51.68" width="19.38" height="6.46" fill="#ffff00"/>
<rect x="387.60" y="51.68" width="6.46" height="6.46" fill="#66ffff"/>
<path d="M0.00 0V58.14M6.46 0V58.14M12.92 0V58.14M19.38 0V58.14M25.84 0V58.14M32.30 0V58.14M38.76 0V58.14M45.22 0V58.14M51.68 0V58.14M58.14 0V58.14M64.60 0V58.14M71.06 0V58.14M77.52 0V58.14M83.98 0V58.14M90.44 0V58.14M96.90 0V58.14M103.36 0V58.14M109.82 0V58.14M116.28 0V58.14M122.74 0V58.14M129.20 0V58.14M135.66 0V58.14M142.12 0V58.14M148.58 0V58.14M155.04 0V58.14M161.50 0V58.14M167.96 0V58.14M174.42 0V58.14M180.88 0V58.14M187.34 0V58.14M193.80 0V58.14M200.26 0V58.14M206.72 0V58.14M213.18 0V58.14M219.64 0V58.14M226.10 0V58.14M232.56 0V58.14M239.02 0V58.14M245.48 0V58.14M251.94 0V58.14M258.40 0V58.14M264.86 0V58.14M271.32 0V58.14M277.78 0V58.14M284.24 0V58.14M290.70 0V58.14M297.16 0V58.14M303.62 0V58.14M310.08 0V58.14M316.54 0V58.14M323.00 0V58.14M329.46 0V58.14M335.92 0V58.14M342.38 0V58.14M348.84 0V58.14M355.30 0V58.14M361.76 0V58.14M368.22 0V58.14M374.68 0V58.14M381.14 0V58.14M387.60 0V58.14M394.06 0V58.14M0 0.00H394.06M0 6.46H394.06M0 12.92H394.06M0 19.38H394.06M0 25.84H394.06M0 32.30H394.06M0 38.76H394.06M0 45.22H394.06M0 51.68H394.06M0 58.14H394.06" stroke="#111" stroke-width="1.3" fill="none" stroke-linecap="square"/>
</g>
<g transform="translate(46.2,517.90)">
<rect x="0" y="0" width="284.24" height="58.14" fill="#fff"/>
<rect x="51.68" y="0.00" width="6.46" height="6.46" fill="#ffff00"/>
<rect x="90.44" y="0.00" width="6.46" height="6.46" fill="#66ffff"/>
<rect x="96.90" y="0.00" width="6.46" height="6.46" fill="#33f033"/>
<rect x="129.20" y="0.00" width="6.46" height="6.46" fill="#ffff00"/>
<rect x="135.66" y="0.00" width="12.92" height="6.46" fill="#66ffff"/>
<rect x="174.42" y="0.00" width="6.46" height="6.46" fill="#66ffff"/>
<rect x="187.34" y="0.00" width="12.92" height="6.46" fill="#ffff00"/>
<rect x="219.64" y="0.00" width="12.92" height="6.46" fill="#ffff00"/>
<rect x="232.56" y="0.00" width="6.46" height="6.46" fill="#66ffff"/>
<rect x="251.94" y="0.00" width="12.92" height="6.46" fill="#66ffff"/>
<rect x="271.32" y="0.00" width="6.46" height="6.46" fill="#66ffff"/>
<rect x="277.78" y="0.00" width="6.46" height="6.46" fill="#ffff00"/>
<rect x="0.00" y="6.46" width="6.46" height="6.46" fill="#ffff00"/>
<rect x="38.76" y="6.46" width="6.46" height="6.46" fill="#ffff00"/>
<rect x="51.68" y="6.46" width="6.46" height="6.46" fill="#ffff00"/>
<rect x="90.44" y="6.46" width="6.46" height="6.46" fill="#33f033"/>
<rect x="96.90" y="6.46" width="6.46" height="6.46" fill="#66ffff"/>
<rect x="109.82" y="6.46" width="6.46" height="6.46" fill="#ffff00"/>
<rect x="129.20" y="6.46" width="6.46" height="6.46" fill="#ffff00"/>
<rect x="135.66" y="6.46" width="6.46" height="6.46" fill="#33f033"/>
<rect x="142.12" y="6.46" width="6.46" height="6.46" fill="#66ffff"/>
<rect x="174.42" y="6.46" width="6.46" height="6.46" fill="#66ffff"/>
<rect x="193.80" y="6.46" width="6.46" height="6.46" fill="#66ffff"/>
<rect x="226.10" y="6.46" width="12.92" height="6.46" fill="#ffff00"/>
<rect x="251.94" y="6.46" width="12.92" height="6.46" fill="#66ffff"/>
<rect x="264.86" y="6.46" width="12.92" height="6.46" fill="#ffff00"/>
<rect x="51.68" y="12.92" width="6.46" height="6.46" fill="#ffff00"/>
<rect x="71.06" y="12.92" width="6.46" height="6.46" fill="#ffff00"/>
<rect x="90.44" y="12.92" width="6.46" height="6.46" fill="#33f033"/>
<rect x="96.90" y="12.92" width="6.46" height="6.46" fill="#66ffff"/>
<rect x="109.82" y="12.92" width="6.46" height="6.46" fill="#ffff00"/>
<rect x="122.74" y="12.92" width="12.92" height="6.46" fill="#ffff00"/>
<rect x="135.66" y="12.92" width="6.46" height="6.46" fill="#66ffff"/>
<rect x="174.42" y="12.92" width="6.46" height="6.46" fill="#66ffff"/>
<rect x="219.64" y="12.92" width="12.92" height="6.46" fill="#ffff00"/>
<rect x="232.56" y="12.92" width="6.46" height="6.46" fill="#66ffff"/>
<rect x="258.40" y="12.92" width="6.46" height="6.46" fill="#66ffff"/>
<rect x="264.86" y="12.92" width="19.38" height="6.46" fill="#ffff00"/>
<rect x="83.98" y="19.38" width="19.38" height="6.46" fill="#66ffff"/>
<rect x="109.82" y="19.38" width="6.46" height="6.46" fill="#66ffff"/>
<rect x="174.42" y="19.38" width="6.46" height="6.46" fill="#66ffff"/>
<rect x="187.34" y="19.38" width="6.46" height="6.46" fill="#ffff00"/>
<rect x="219.64" y="19.38" width="12.92" height="6.46" fill="#ffff00"/>
<rect x="232.56" y="19.38" width="6.46" height="6.46" fill="#66ffff"/>
<rect x="251.94" y="19.38" width="12.92" height="6.46" fill="#66ffff"/>
<rect x="271.32" y="19.38" width="6.46" height="6.46" fill="#66ffff"/>
<rect x="277.78" y="19.38" width="6.46" height="6.46" fill="#ffff00"/>
<rect x="38.76" y="25.84" width="6.46" height="6.46" fill="#ffff00"/>
<rect x="51.68" y="25.84" width="6.46" height="6.46" fill="#ffff00"/>
<rect x="83.98" y="25.84" width="19.38" height="6.46" fill="#ffff00"/>
<rect x="109.82" y="25.84" width="6.46" height="6.46" fill="#66ffff"/>
<rect x="135.66" y="25.84" width="6.46" height="6.46" fill="#ffff00"/>
<rect x="142.12" y="25.84" width="6.46" height="6.46" fill="#66ffff"/>
<rect x="161.50" y="25.84" width="6.46" height="6.46" fill="#ffff00"/>
<rect x="174.42" y="25.84" width="6.46" height="6.46" fill="#ffff00"/>
<rect x="187.34" y="25.84" width="6.46" height="6.46" fill="#66ffff"/>
<rect x="226.10" y="25.84" width="6.46" height="6.46" fill="#ffff00"/>
<rect x="232.56" y="25.84" width="6.46" height="6.46" fill="#66ffff"/>
<rect x="251.94" y="25.84" width="12.92" height="6.46" fill="#66ffff"/>
<rect x="271.32" y="25.84" width="6.46" height="6.46" fill="#66ffff"/>
<rect x="277.78" y="25.84" width="6.46" height="6.46" fill="#ffff00"/>
<rect x="0.00" y="32.30" width="6.46" height="6.46" fill="#ffff00"/>
<rect x="38.76" y="32.30" width="6.46" height="6.46" fill="#ffff00"/>
<rect x="51.68" y="32.30" width="6.46" height="6.46" fill="#ffff00"/>
<rect x="90.44" y="32.30" width="6.46" height="6.46" fill="#33f033"/>
<rect x="96.90" y="32.30" width="6.46" height="6.46" fill="#ffff00"/>
<rect x="109.82" y="32.30" width="6.46" height="6.46" fill="#ffff00"/>
<rect x="122.74" y="32.30" width="12.92" height="6.46" fill="#ffff00"/>
<rect x="135.66" y="32.30" width="6.46" height="6.46" fill="#33f033"/>
<rect x="193.80" y="32.30" width="6.46" height="6.46" fill="#ffff00"/>
<rect x="219.64" y="32.30" width="6.46" height="6.46" fill="#66ffff"/>
<rect x="226.10" y="32.30" width="6.46" height="6.46" fill="#ffff00"/>
<rect x="232.56" y="32.30" width="6.46" height="6.46" fill="#66ffff"/>
<rect x="251.94" y="32.30" width="6.46" height="6.46" fill="#ffff00"/>
<rect x="258.40" y="32.30" width="6.46" height="6.46" fill="#66ffff"/>
<rect x="271.32" y="32.30" width="12.92" height="6.46" fill="#ffff00"/>
<rect x="38.76" y="38.76" width="6.46" height="6.46" fill="#ffff00"/>
<rect x="51.68" y="38.76" width="6.46" height="6.46" fill="#ffff00"/>
<rect x="90.44" y="38.76" width="6.46" height="6.46" fill="#66ffff"/>
<rect x="96.90" y="38.76" width="6.46" height="6.46" fill="#33f033"/>
<rect x="129.20" y="38.76" width="6.46" height="6.46" fill="#ffff00"/>
<rect x="135.66" y="38.76" width="12.92" height="6.46" fill="#66ffff"/>
<rect x="174.42" y="38.76" width="6.46" height="6.46" fill="#66ffff"/>
<rect x="187.34" y="38.76" width="6.46" height="6.46" fill="#ffff00"/>
<rect x="219.64" y="38.76" width="12.92" height="6.46" fill="#ffff00"/>
<rect x="232.56" y="38.76" width="6.46" height="6.46" fill="#66ffff"/>
<rect x="251.94" y="38.76" width="12.92" height="6.46" fill="#66ffff"/>
<rect x="271.32" y="38.76" width="6.46" height="6.46" fill="#66ffff"/>
<rect x="277.78" y="38.76" width="6.46" height="6.46" fill="#ffff00"/>
<rect x="38.76" y="45.22" width="6.46" height="6.46" fill="#ffff00"/>
<rect x="51.68" y="45.22" width="6.46" height="6.46" fill="#ffff00"/>
<rect x="90.44" y="45.22" width="6.46" height="6.46" fill="#66ffff"/>
<rect x="96.90" y="45.22" width="6.46" height="6.46" fill="#33f033"/>
<rect x="109.82" y="45.22" width="6.46" height="6.46" fill="#66ffff"/>
<rect x="142.12" y="45.22" width="6.46" height="6.46" fill="#66ffff"/>
<rect x="161.50" y="45.22" width="6.46" height="6.46" fill="#ffff00"/>
<rect x="174.42" y="45.22" width="6.46" height="6.46" fill="#66ffff"/>
<rect x="187.34" y="45.22" width="6.46" height="6.46" fill="#ffff00"/>
<rect x="226.10" y="45.22" width="6.46" height="6.46" fill="#ffff00"/>
<rect x="232.56" y="45.22" width="6.46" height="6.46" fill="#66ffff"/>
<rect x="251.94" y="45.22" width="32.30" height="6.46" fill="#ffff00"/>
<rect x="0.00" y="51.68" width="6.46" height="6.46" fill="#ffff00"/>
<rect x="38.76" y="51.68" width="6.46" height="6.46" fill="#ffff00"/>
<rect x="51.68" y="51.68" width="6.46" height="6.46" fill="#66ffff"/>
<rect x="90.44" y="51.68" width="6.46" height="6.46" fill="#33f033"/>
<rect x="96.90" y="51.68" width="6.46" height="6.46" fill="#66ffff"/>
<rect x="129.20" y="51.68" width="6.46" height="6.46" fill="#ffff00"/>
<rect x="135.66" y="51.68" width="6.46" height="6.46" fill="#66ffff"/>
<rect x="161.50" y="51.68" width="6.46" height="6.46" fill="#ffff00"/>
<rect x="174.42" y="51.68" width="6.46" height="6.46" fill="#ffff00"/>
<rect x="187.34" y="51.68" width="6.46" height="6.46" fill="#ffff00"/>
<rect x="219.64" y="51.68" width="12.92" height="6.46" fill="#ffff00"/>
<rect x="232.56" y="51.68" width="6.46" height="6.46" fill="#66ffff"/>
<rect x="264.86" y="51.68" width="19.38" height="6.46" fill="#ffff00"/>
<path d="M0.00 0V58.14M6.46 0V58.14M12.92 0V58.14M19.38 0V58.14M25.84 0V58.14M32.30 0V58.14M38.76 0V58.14M45.22 0V58.14M51.68 0V58.14M58.14 0V58.14M64.60 0V58.14M71.06 0V58.14M77.52 0V58.14M83.98 0V58.14M90.44 0V58.14M96.90 0V58.14M103.36 0V58.14M109.82 0V58.14M116.28 0V58.14M122.74 0V58.14M129.20 0V58.14M135.66 0V58.14M142.12 0V58.14M148.58 0V58.14M155.04 0V58.14M161.50 0V58.14M167.96 0V58.14M174.42 0V58.14M180.88 0V58.14M187.34 0V58.14M193.80 0V58.14M200.26 0V58.14M206.72 0V58.14M213.18 0V58.14M219.64 0V58.14M226.10 0V58.14M232.56 0V58.14M239.02 0V58.14M245.48 0V58.14M251.94 0V58.14M258.40 0V58.14M264.86 0V58.14M271.32 0V58.14M277.78 0V58.14M284.24 0V58.14M0 0.00H284.24M0 6.46H284.24M0 12.92H284.24M0 19.38H284.24M0 25.84H284.24M0 32.30H284.24M0 38.76H284.24M0 45.22H284.24M0 51.68H284.24M0 58.14H284.24" stroke="#111" stroke-width="1.3" fill="none" stroke-linecap="square"/>
</g>
<g transform="translate(46.2,582.50)">
<rect x="0" y="0" width="284.24" height="58.14" fill="#fff"/>
<rect x="0.00" y="0.00" width="6.46" height="6.46" fill="#ffff00"/>
<rect x="38.76" y="0.00" width="6.46" height="6.46" fill="#ffff00"/>
<rect x="51.68" y="0.00" width="6.46" height="6.46" fill="#66ffff"/>
<rect x="58.14" y="0.00" width="12.92" height="6.46" fill="#ffff00"/>
<rect x="77.52" y="0.00" width="12.92" height="6.46" fill="#ffff00"/>
<rect x="103.36" y="0.00" width="12.92" height="6.46" fill="#ffff00"/>
<rect x="116.28" y="0.00" width="6.46" height="6.46" fill="#66ffff"/>
<rect x="122.74" y="0.00" width="12.92" height="6.46" fill="#ffff00"/>
<rect x="155.04" y="0.00" width="6.46" height="6.46" fill="#ffff00"/>
<rect x="219.64" y="0.00" width="25.84" height="6.46" fill="#ffff00"/>
<rect x="245.48" y="0.00" width="6.46" height="6.46" fill="#66ffff"/>
<rect x="277.78" y="0.00" width="6.46" height="6.46" fill="#66ffff"/>
<rect x="0.00" y="6.46" width="6.46" height="6.46" fill="#ffff00"/>
<rect x="219.64" y="6.46" width="19.38" height="6.46" fill="#ffff00"/>
<rect x="245.48" y="6.46" width="6.46" height="6.46" fill="#66ffff"/>
<rect x="277.78" y="6.46" width="6.46" height="6.46" fill="#ffff00"/>
<rect x="0.00" y="12.92" width="12.92" height="6.46" fill="#ffff00"/>
<rect x="19.38" y="12.92" width="6.46" height="6.46" fill="#ffff00"/>
<rect x="38.76" y="12.92" width="6.46" height="6.46" fill="#ffff00"/>
<rect x="45.22" y="12.92" width="6.46" height="6.46" fill="#66ffff"/>
<rect x="51.68" y="12.92" width="6.46" height="6.46" fill="#ffff00"/>
<rect x="109.82" y="12.92" width="6.46" height="6.46" fill="#ffff00"/>
<rect x="116.28" y="12.92" width="6.46" height="6.46" fill="#66ffff"/>
<rect x="122.74" y="12.92" width="12.92" height="6.46" fill="#ffff00"/>
<rect x="167.96" y="12.92" width="6.46" height="6.46" fill="#ffff00"/>
<rect x="219.64" y="12.92" width="6.46" height="6.46" fill="#66ffff"/>
<rect x="226.10" y="12.92" width="6.46" height="6.46" fill="#ffff00"/>
<rect x="232.56" y="12.92" width="6.46" height="6.46" fill="#66ffff"/>
<rect x="239.02" y="12.92" width="12.92" height="6.46" fill="#ffff00"/>
<rect x="264.86" y="12.92" width="12.92" height="6.46" fill="#ffff00"/>
<rect x="277.78" y="12.92" width="6.46" height="6.46" fill="#66ffff"/>
<rect x="6.46" y="19.38" width="6.46" height="6.46" fill="#ffff00"/>
<rect x="38.76" y="19.38" width="6.46" height="6.46" fill="#ffff00"/>
<rect x="45.22" y="19.38" width="6.46" height="6.46" fill="#66ffff"/>
<rect x="58.14" y="19.38" width="12.92" height="6.46" fill="#ffff00"/>
<rect x="77.52" y="19.38" width="12.92" height="6.46" fill="#ffff00"/>
<rect x="103.36" y="19.38" width="12.92" height="6.46" fill="#ffff00"/>
<rect x="116.28" y="19.38" width="6.46" height="6.46" fill="#66ffff"/>
<rect x="122.74" y="19.38" width="12.92" height="6.46" fill="#ffff00"/>
<rect x="148.58" y="19.38" width="6.46" height="6.46" fill="#66ffff"/>
<rect x="155.04" y="19.38" width="6.46" height="6.46" fill="#ffff00"/>
<rect x="167.96" y="19.38" width="6.46" height="6.46" fill="#66ffff"/>
<rect x="180.88" y="19.38" width="6.46" height="6.46" fill="#ffff00"/>
<rect x="187.34" y="19.38" width="6.46" height="6.46" fill="#66ffff"/>
<rect x="193.80" y="19.38" width="6.46" height="6.46" fill="#ffff00"/>
<rect x="219.64" y="19.38" width="6.46" height="6.46" fill="#66ffff"/>
<rect x="226.10" y="19.38" width="6.46" height="6.46" fill="#ffff00"/>
<rect x="232.56" y="19.38" width="6.46" height="6.46" fill="#66ffff"/>
<rect x="245.48" y="19.38" width="6.46" height="6.46" fill="#66ffff"/>
<rect x="277.78" y="19.38" width="6.46" height="6.46" fill="#ffff00"/>
<rect x="0.00" y="25.84" width="6.46" height="6.46" fill="#ffff00"/>
<rect x="38.76" y="25.84" width="6.46" height="6.46" fill="#ffff00"/>
<rect x="51.68" y="25.84" width="6.46" height="6.46" fill="#66ffff"/>
<rect x="58.14" y="25.84" width="12.92" height="6.46" fill="#ffff00"/>
<rect x="77.52" y="25.84" width="12.92" height="6.46" fill="#ffff00"/>
<rect x="103.36" y="25.84" width="12.92" height="6.46" fill="#ffff00"/>
<rect x="116.28" y="25.84" width="6.46" height="6.46" fill="#66ffff"/>
<rect x="122.74" y="25.84" width="12.92" height="6.46" fill="#ffff00"/>
<rect x="155.04" y="25.84" width="6.46" height="6.46" fill="#ffff00"/>
<rect x="219.64" y="25.84" width="25.84" height="6.46" fill="#ffff00"/>
<rect x="245.48" y="25.84" width="6.46" height="6.46" fill="#66ffff"/>
<rect x="277.78" y="25.84" width="6.46" height="6.46" fill="#66ffff"/>
<rect x="0.00" y="32.30" width="6.46" height="6.46" fill="#ffff00"/>
<rect x="109.82" y="32.30" width="6.46" height="6.46" fill="#ffff00"/>
<rect x="116.28" y="32.30" width="6.46" height="6.46" fill="#66ffff"/>
<rect x="122.74" y="32.30" width="12.92" height="6.46" fill="#ffff00"/>
<rect x="148.58" y="32.30" width="6.46" height="6.46" fill="#66ffff"/>
<rect x="155.04" y="32.30" width="6.46" height="6.46" fill="#ffff00"/>
<rect x="167.96" y="32.30" width="6.46" height="6.46" fill="#ffff00"/>
<rect x="187.34" y="32.30" width="6.46" height="6.46" fill="#66ffff"/>
<rect x="193.80" y="32.30" width="6.46" height="6.46" fill="#ffff00"/>
<rect x="245.48" y="32.30" width="6.46" height="6.46" fill="#66ffff"/>
<rect x="271.32" y="32.30" width="6.46" height="6.46" fill="#66ffff"/>
<rect x="277.78" y="32.30" width="6.46" height="6.46" fill="#ffff00"/>
<rect x="6.46" y="38.76" width="6.46" height="6.46" fill="#ffff00"/>
<rect x="38.76" y="38.76" width="12.92" height="6.46" fill="#ffff00"/>
<rect x="64.60" y="38.76" width="6.46" height="6.46" fill="#ffff00"/>
<rect x="116.28" y="38.76" width="6.46" height="6.46" fill="#66ffff"/>
<rect x="122.74" y="38.76" width="6.46" height="6.46" fill="#ffff00"/>
<rect x="155.04" y="38.76" width="6.46" height="6.46" fill="#ffff00"/>
<rect x="167.96" y="38.76" width="6.46" height="6.46" fill="#ffff00"/>
<rect x="219.64" y="38.76" width="6.46" height="6.46" fill="#66ffff"/>
<rect x="226.10" y="38.76" width="6.46" height="6.46" fill="#ffff00"/>
<rect x="232.56" y="38.76" width="6.46" height="6.46" fill="#66ffff"/>
<rect x="239.02" y="38.76" width="6.46" height="6.46" fill="#ffff00"/>
<rect x="245.48" y="38.76" width="6.46" height="6.46" fill="#33f033"/>
<rect x="277.78" y="38.76" width="6.46" height="6.46" fill="#ffff00"/>
<rect x="0.00" y="45.22" width="6.46" height="6.46" fill="#ffff00"/>
<rect x="38.76" y="45.22" width="6.46" height="6.46" fill="#ffff00"/>
<rect x="45.22" y="45.22" width="6.46" height="6.46" fill="#33f033"/>
<rect x="51.68" y="45.22" width="6.46" height="6.46" fill="#66ffff"/>
<rect x="58.14" y="45.22" width="12.92" height="6.46" fill="#ffff00"/>
<rect x="77.52" y="45.22" width="12.92" height="6.46" fill="#ffff00"/>
<rect x="103.36" y="45.22" width="12.92" height="6.46" fill="#ffff00"/>
<rect x="116.28" y="45.22" width="6.46" height="6.46" fill="#66ffff"/>
<rect x="122.74" y="45.22" width="12.92" height="6.46" fill="#ffff00"/>
<rect x="148.58" y="45.22" width="6.46" height="6.46" fill="#66ffff"/>
<rect x="155.04" y="45.22" width="6.46" height="6.46" fill="#ffff00"/>
<rect x="187.34" y="45.22" width="6.46" height="6.46" fill="#ffff00"/>
<rect x="226.10" y="45.22" width="6.46" height="6.46" fill="#66ffff"/>
<rect x="232.56" y="45.22" width="6.46" height="6.46" fill="#ffff00"/>
<rect x="245.48" y="45.22" width="6.46" height="6.46" fill="#ffff00"/>
<rect x="277.78" y="45.22" width="6.46" height="6.46" fill="#ffff00"/>
<rect x="0.00" y="51.68" width="6.46" height="6.46" fill="#ffff00"/>
<rect x="38.76" y="51.68" width="6.46" height="6.46" fill="#ffff00"/>
<rect x="51.68" y="51.68" width="6.46" height="6.46" fill="#66ffff"/>
<rect x="58.14" y="51.68" width="6.46" height="6.46" fill="#ffff00"/>
<rect x="103.36" y="51.68" width="6.46" height="6.46" fill="#ffff00"/>
<rect x="116.28" y="51.68" width="12.92" height="6.46" fill="#ffff00"/>
<rect x="129.20" y="51.68" width="6.46" height="6.46" fill="#66ffff"/>
<rect x="148.58" y="51.68" width="12.92" height="6.46" fill="#ffff00"/>
<rect x="167.96" y="51.68" width="6.46" height="6.46" fill="#ffff00"/>
<rect x="187.34" y="51.68" width="6.46" height="6.46" fill="#66ffff"/>
<rect x="219.64" y="51.68" width="6.46" height="6.46" fill="#66ffff"/>
<rect x="226.10" y="51.68" width="19.38" height="6.46" fill="#ffff00"/>
<rect x="245.48" y="51.68" width="6.46" height="6.46" fill="#66ffff"/>
<rect x="271.32" y="51.68" width="6.46" height="6.46" fill="#33f033"/>
<rect x="277.78" y="51.68" width="6.46" height="6.46" fill="#ffff00"/>
<path d="M0.00 0V58.14M6.46 0V58.14M12.92 0V58.14M19.38 0V58.14M25.84 0V58.14M32.30 0V58.14M38.76 0V58.14M45.22 0V58.14M51.68 0V58.14M58.14 0V58.14M64.60 0V58.14M71.06 0V58.14M77.52 0V58.14M83.98 0V58.14M90.44 0V58.14M96.90 0V58.14M103.36 0V58.14M109.82 0V58.14M116.28 0V58.14M122.74 0V58.14M129.20 0V58.14M135.66 0V58.14M142.12 0V58.14M148.58 0V58.14M155.04 0V58.14M161.50 0V58.14M167.96 0V58.14M174.42 0V58.14M180.88 0V58.14M187.34 0V58.14M193.80 0V58.14M200.26 0V58.14M206.72 0V58.14M213.18 0V58.14M219.64 0V58.14M226.10 0V58.14M232.56 0V58.14M239.02 0V58.14M245.48 0V58.14M251.94 0V58.14M258.40 0V58.14M264.86 0V58.14M271.32 0V58.14M277.78 0V58.14M284.24 0V58.14M0 0.00H284.24M0 6.46H284.24M0 12.92H284.24M0 19.38H284.24M0 25.84H284.24M0 32.30H284.24M0 38.76H284.24M0 45.22H284.24M0 51.68H284.24M0 58.14H284.24" stroke="#111" stroke-width="1.3" fill="none" stroke-linecap="square"/>
</g>
<g transform="translate(46.2,647.10)">
<rect x="0" y="0" width="297.16" height="58.14" fill="#fff"/>
<rect x="6.46" y="0.00" width="6.46" height="6.46" fill="#ffff00"/>
<rect x="32.30" y="0.00" width="6.46" height="6.46" fill="#66ffff"/>
<rect x="96.90" y="0.00" width="6.46" height="6.46" fill="#66ffff"/>
<rect x="103.36" y="0.00" width="6.46" height="6.46" fill="#ffff00"/>
<rect x="116.28" y="0.00" width="6.46" height="6.46" fill="#ffff00"/>
<rect x="135.66" y="0.00" width="6.46" height="6.46" fill="#ffff00"/>
<rect x="142.12" y="0.00" width="6.46" height="6.46" fill="#66ffff"/>
<rect x="161.50" y="0.00" width="19.38" height="6.46" fill="#ffff00"/>
<rect x="180.88" y="0.00" width="6.46" height="6.46" fill="#66ffff"/>
<rect x="193.80" y="0.00" width="12.92" height="6.46" fill="#33f033"/>
<rect x="219.64" y="0.00" width="25.84" height="6.46" fill="#ffff00"/>
<rect x="264.86" y="0.00" width="12.92" height="6.46" fill="#ffff00"/>
<rect x="277.78" y="0.00" width="6.46" height="6.46" fill="#66ffff"/>
<rect x="0.00" y="6.46" width="6.46" height="6.46" fill="#ffff00"/>
<rect x="32.30" y="6.46" width="19.38" height="6.46" fill="#66ffff"/>
<rect x="64.60" y="6.46" width="6.46" height="6.46" fill="#ffff00"/>
<rect x="71.06" y="6.46" width="19.38" height="6.46" fill="#66ffff"/>
<rect x="90.44" y="6.46" width="12.92" height="6.46" fill="#ffff00"/>
<rect x="167.96" y="6.46" width="6.46" height="6.46" fill="#ffff00"/>
<rect x="180.88" y="6.46" width="6.46" height="6.46" fill="#ffff00"/>
<rect x="200.26" y="6.46" width="6.46" height="6.46" fill="#ffff00"/>
<rect x="271.32" y="6.46" width="12.92" height="6.46" fill="#66ffff"/>
<rect x="32.30" y="12.92" width="6.46" height="6.46" fill="#66ffff"/>
<rect x="64.60" y="12.92" width="6.46" height="6.46" fill="#ffff00"/>
<rect x="71.06" y="12.92" width="19.38" height="6.46" fill="#66ffff"/>
<rect x="96.90" y="12.92" width="6.46" height="6.46" fill="#66ffff"/>
<rect x="103.36" y="12.92" width="6.46" height="6.46" fill="#ffff00"/>
<rect x="116.28" y="12.92" width="6.46" height="6.46" fill="#ffff00"/>
<rect x="135.66" y="12.92" width="6.46" height="6.46" fill="#ffff00"/>
<rect x="142.12" y="12.92" width="6.46" height="6.46" fill="#66ffff"/>
<rect x="161.50" y="12.92" width="6.46" height="6.46" fill="#ffff00"/>
<rect x="174.42" y="12.92" width="6.46" height="6.46" fill="#ffff00"/>
<rect x="180.88" y="12.92" width="6.46" height="6.46" fill="#66ffff"/>
<rect x="200.26" y="12.92" width="6.46" height="6.46" fill="#66ffff"/>
<rect x="226.10" y="12.92" width="25.84" height="6.46" fill="#ffff00"/>
<rect x="258.40" y="12.92" width="6.46" height="6.46" fill="#ffff00"/>
<rect x="271.32" y="12.92" width="6.46" height="6.46" fill="#ffff00"/>
<rect x="25.84" y="19.38" width="6.46" height="6.46" fill="#ffff00"/>
<rect x="32.30" y="19.38" width="19.38" height="6.46" fill="#66ffff"/>
<rect x="90.44" y="19.38" width="12.92" height="6.46" fill="#66ffff"/>
<rect x="135.66" y="19.38" width="12.92" height="6.46" fill="#ffff00"/>
<rect x="167.96" y="19.38" width="6.46" height="6.46" fill="#ffff00"/>
<rect x="180.88" y="19.38" width="6.46" height="6.46" fill="#66ffff"/>
<rect x="193.80" y="19.38" width="6.46" height="6.46" fill="#66ffff"/>
<rect x="200.26" y="19.38" width="6.46" height="6.46" fill="#ffff00"/>
<rect x="258.40" y="19.38" width="6.46" height="6.46" fill="#ffff00"/>
<rect x="271.32" y="19.38" width="19.38" height="6.46" fill="#ffff00"/>
<rect x="6.46" y="25.84" width="6.46" height="6.46" fill="#ffff00"/>
<rect x="32.30" y="25.84" width="6.46" height="6.46" fill="#66ffff"/>
<rect x="96.90" y="25.84" width="6.46" height="6.46" fill="#66ffff"/>
<rect x="103.36" y="25.84" width="6.46" height="6.46" fill="#ffff00"/>
<rect x="116.28" y="25.84" width="6.46" height="6.46" fill="#ffff00"/>
<rect x="135.66" y="25.84" width="6.46" height="6.46" fill="#ffff00"/>
<rect x="142.12" y="25.84" width="6.46" height="6.46" fill="#66ffff"/>
<rect x="161.50" y="25.84" width="6.46" height="6.46" fill="#ffff00"/>
<rect x="167.96" y="25.84" width="6.46" height="6.46" fill="#66ffff"/>
<rect x="174.42" y="25.84" width="6.46" height="6.46" fill="#ffff00"/>
<rect x="180.88" y="25.84" width="6.46" height="6.46" fill="#66ffff"/>
<rect x="193.80" y="25.84" width="12.92" height="6.46" fill="#33f033"/>
<rect x="219.64" y="25.84" width="19.38" height="6.46" fill="#ffff00"/>
<rect x="239.02" y="25.84" width="6.46" height="6.46" fill="#66ffff"/>
<rect x="245.48" y="25.84" width="6.46" height="6.46" fill="#ffff00"/>
<rect x="258.40" y="25.84" width="6.46" height="6.46" fill="#ffff00"/>
<rect x="277.78" y="25.84" width="12.92" height="6.46" fill="#ffff00"/>
<rect x="6.46" y="32.30" width="6.46" height="6.46" fill="#ffff00"/>
<rect x="25.84" y="32.30" width="6.46" height="6.46" fill="#66ffff"/>
<rect x="32.30" y="32.30" width="19.38" height="6.46" fill="#ffff00"/>
<rect x="58.14" y="32.30" width="6.46" height="6.46" fill="#66ffff"/>
<rect x="64.60" y="32.30" width="6.46" height="6.46" fill="#ffff00"/>
<rect x="71.06" y="32.30" width="6.46" height="6.46" fill="#66ffff"/>
<rect x="135.66" y="32.30" width="12.92" height="6.46" fill="#ffff00"/>
<rect x="180.88" y="32.30" width="6.46" height="6.46" fill="#ffff00"/>
<rect x="200.26" y="32.30" width="6.46" height="6.46" fill="#ffff00"/>
<rect x="271.32" y="32.30" width="6.46" height="6.46" fill="#ffff00"/>
<rect x="284.24" y="32.30" width="6.46" height="6.46" fill="#ffff00"/>
<rect x="32.30" y="38.76" width="6.46" height="6.46" fill="#66ffff"/>
<rect x="167.96" y="38.76" width="6.46" height="6.46" fill="#ffff00"/>
<rect x="180.88" y="38.76" width="6.46" height="6.46" fill="#66ffff"/>
<rect x="193.80" y="38.76" width="6.46" height="6.46" fill="#66ffff"/>
<rect x="200.26" y="38.76" width="6.46" height="6.46" fill="#ffff00"/>
<rect x="219.64" y="38.76" width="6.46" height="6.46" fill="#ffff00"/>
<rect x="239.02" y="38.76" width="6.46" height="6.46" fill="#66ffff"/>
<rect x="258.40" y="38.76" width="6.46" height="6.46" fill="#ffff00"/>
<rect x="271.32" y="38.76" width="6.46" height="6.46" fill="#ffff00"/>
<rect x="277.78" y="38.76" width="6.46" height="6.46" fill="#66ffff"/>
<rect x="32.30" y="45.22" width="6.46" height="6.46" fill="#66ffff"/>
<rect x="64.60" y="45.22" width="6.46" height="6.46" fill="#33f033"/>
<rect x="71.06" y="45.22" width="19.38" height="6.46" fill="#66ffff"/>
<rect x="96.90" y="45.22" width="6.46" height="6.46" fill="#66ffff"/>
<rect x="135.66" y="45.22" width="12.92" height="6.46" fill="#ffff00"/>
<rect x="167.96" y="45.22" width="6.46" height="6.46" fill="#ffff00"/>
<rect x="180.88" y="45.22" width="6.46" height="6.46" fill="#ffff00"/>
<rect x="200.26" y="45.22" width="6.46" height="6.46" fill="#66ffff"/>
<rect x="258.40" y="45.22" width="19.38" height="6.46" fill="#ffff00"/>
<rect x="277.78" y="45.22" width="6.46" height="6.46" fill="#66ffff"/>
<rect x="6.46" y="51.68" width="6.46" height="6.46" fill="#ffff00"/>
<rect x="38.76" y="51.68" width="6.46" height="6.46" fill="#66ffff"/>
<rect x="167.96" y="51.68" width="6.46" height="6.46" fill="#ffff00"/>
<rect x="180.88" y="51.68" width="6.46" height="6.46" fill="#ffff00"/>
<rect x="193.80" y="51.68" width="12.92" height="6.46" fill="#33f033"/>
<rect x="226.10" y="51.68" width="6.46" height="6.46" fill="#ffff00"/>
<rect x="232.56" y="51.68" width="6.46" height="6.46" fill="#66ffff"/>
<rect x="239.02" y="51.68" width="6.46" height="6.46" fill="#ffff00"/>
<rect x="258.40" y="51.68" width="12.92" height="6.46" fill="#ffff00"/>
<rect x="271.32" y="51.68" width="6.46" height="6.46" fill="#66ffff"/>
<rect x="277.78" y="51.68" width="12.92" height="6.46" fill="#ffff00"/>
<path d="M0.00 0V58.14M6.46 0V58.14M12.92 0V58.14M19.38 0V58.14M25.84 0V58.14M32.30 0V58.14M38.76 0V58.14M45.22 0V58.14M51.68 0V58.14M58.14 0V58.14M64.60 0V58.14M71.06 0V58.14M77.52 0V58.14M83.98 0V58.14M90.44 0V58.14M96.90 0V58.14M103.36 0V58.14M109.82 0V58.14M116.28 0V58.14M122.74 0V58.14M129.20 0V58.14M135.66 0V58.14M142.12 0V58.14M148.58 0V58.14M155.04 0V58.14M161.50 0V58.14M167.96 0V58.14M174.42 0V58.14M180.88 0V58.14M187.34 0V58.14M193.80 0V58.14M200.26 0V58.14M206.72 0V58.14M213.18 0V58.14M219.64 0V58.14M226.10 0V58.14M232.56 0V58.14M239.02 0V58.14M245.48 0V58.14M251.94 0V58.14M258.40 0V58.14M264.86 0V58.14M271.32 0V58.14M277.78 0V58.14M284.24 0V58.14M290.70 0V58.14M297.16 0V58.14M0 0.00H297.16M0 6.46H297.16M0 12.92H297.16M0 19.38H297.16M0 25.84H297.16M0 32.30H297.16M0 38.76H297.16M0 45.22H297.16M0 51.68H297.16M0 58.14H297.16" stroke="#111" stroke-width="1.3" fill="none" stroke-linecap="square"/>
</g>
<g transform="translate(46.2,711.70)">
<rect x="0" y="0" width="297.16" height="58.14" fill="#fff"/>
<rect x="38.76" y="0.00" width="6.46" height="6.46" fill="#66ffff"/>
<rect x="45.22" y="0.00" width="6.46" height="6.46" fill="#ffff00"/>
<rect x="58.14" y="0.00" width="6.46" height="6.46" fill="#ffff00"/>
<rect x="77.52" y="0.00" width="6.46" height="6.46" fill="#ffff00"/>
<rect x="109.82" y="0.00" width="6.46" height="6.46" fill="#66ffff"/>
<rect x="148.58" y="0.00" width="6.46" height="6.46" fill="#ffff00"/>
<rect x="161.50" y="0.00" width="6.46" height="6.46" fill="#ffff00"/>
<rect x="226.10" y="0.00" width="12.92" height="6.46" fill="#66ffff"/>
<rect x="239.02" y="0.00" width="6.46" height="6.46" fill="#ffff00"/>
<rect x="245.48" y="0.00" width="6.46" height="6.46" fill="#66ffff"/>
<rect x="251.94" y="0.00" width="12.92" height="6.46" fill="#ffff00"/>
<rect x="284.24" y="0.00" width="6.46" height="6.46" fill="#66ffff"/>
<rect x="290.70" y="0.00" width="6.46" height="6.46" fill="#ffff00"/>
<rect x="38.76" y="6.46" width="12.92" height="6.46" fill="#66ffff"/>
<rect x="58.14" y="6.46" width="6.46" height="6.46" fill="#ffff00"/>
<rect x="96.90" y="6.46" width="6.46" height="6.46" fill="#ffff00"/>
<rect x="109.82" y="6.46" width="6.46" height="6.46" fill="#ffff00"/>
<rect x="219.64" y="6.46" width="6.46" height="6.46" fill="#ffff00"/>
<rect x="226.10" y="6.46" width="6.46" height="6.46" fill="#66ffff"/>
<rect x="232.56" y="6.46" width="19.38" height="6.46" fill="#ffff00"/>
<rect x="251.94" y="6.46" width="6.46" height="6.46" fill="#66ffff"/>
<rect x="284.24" y="6.46" width="6.46" height="6.46" fill="#66ffff"/>
<rect x="290.70" y="6.46" width="6.46" height="6.46" fill="#ffff00"/>
<rect x="19.38" y="12.92" width="6.46" height="6.46" fill="#ffff00"/>
<rect x="38.76" y="12.92" width="6.46" height="6.46" fill="#ffff00"/>
<rect x="51.68" y="12.92" width="12.92" height="6.46" fill="#ffff00"/>
<rect x="77.52" y="12.92" width="6.46" height="6.46" fill="#ffff00"/>
<rect x="90.44" y="12.92" width="12.92" height="6.46" fill="#ffff00"/>
<rect x="109.82" y="12.92" width="6.46" height="6.46" fill="#66ffff"/>
<rect x="142.12" y="12.92" width="6.46" height="6.46" fill="#66ffff"/>
<rect x="167.96" y="12.92" width="6.46" height="6.46" fill="#ffff00"/>
<rect x="174.42" y="12.92" width="12.92" height="6.46" fill="#66ffff"/>
<rect x="193.80" y="12.92" width="6.46" height="6.46" fill="#66ffff"/>
<rect x="200.26" y="12.92" width="6.46" height="6.46" fill="#ffff00"/>
<rect x="219.64" y="12.92" width="6.46" height="6.46" fill="#ffff00"/>
<rect x="226.10" y="12.92" width="6.46" height="6.46" fill="#33f033"/>
<rect x="232.56" y="12.92" width="6.46" height="6.46" fill="#ffff00"/>
<rect x="245.48" y="12.92" width="12.92" height="6.46" fill="#66ffff"/>
<rect x="284.24" y="12.92" width="6.46" height="6.46" fill="#66ffff"/>
<rect x="290.70" y="12.92" width="6.46" height="6.46" fill="#ffff00"/>
<rect x="38.76" y="19.38" width="12.92" height="6.46" fill="#66ffff"/>
<rect x="51.68" y="19.38" width="6.46" height="6.46" fill="#ffff00"/>
<rect x="58.14" y="19.38" width="6.46" height="6.46" fill="#66ffff"/>
<rect x="71.06" y="19.38" width="12.92" height="6.46" fill="#ffff00"/>
<rect x="83.98" y="19.38" width="6.46" height="6.46" fill="#66ffff"/>
<rect x="109.82" y="19.38" width="6.46" height="6.46" fill="#ffff00"/>
<rect x="200.26" y="19.38" width="6.46" height="6.46" fill="#ffff00"/>
<rect x="219.64" y="19.38" width="6.46" height="6.46" fill="#ffff00"/>
<rect x="226.10" y="19.38" width="6.46" height="6.46" fill="#66ffff"/>
<rect x="232.56" y="19.38" width="6.46" height="6.46" fill="#ffff00"/>
<rect x="245.48" y="19.38" width="12.92" height="6.46" fill="#ffff00"/>
<rect x="284.24" y="19.38" width="6.46" height="6.46" fill="#66ffff"/>
<rect x="290.70" y="19.38" width="6.46" height="6.46" fill="#ffff00"/>
<rect x="12.92" y="25.84" width="6.46" height="6.46" fill="#66ffff"/>
<rect x="19.38" y="25.84" width="6.46" height="6.46" fill="#ffff00"/>
<rect x="38.76" y="25.84" width="6.46" height="6.46" fill="#ffff00"/>
<rect x="77.52" y="25.84" width="6.46" height="6.46" fill="#66ffff"/>
<rect x="90.44" y="25.84" width="12.92" height="6.46" fill="#ffff00"/>
<rect x="142.12" y="25.84" width="6.46" height="6.46" fill="#66ffff"/>
<rect x="167.96" y="25.84" width="6.46" height="6.46" fill="#66ffff"/>
<rect x="180.88" y="25.84" width="6.46" height="6.46" fill="#66ffff"/>
<rect x="200.26" y="25.84" width="6.46" height="6.46" fill="#ffff00"/>
<rect x="213.18" y="25.84" width="12.92" height="6.46" fill="#ffff00"/>
<rect x="226.10" y="25.84" width="6.46" height="6.46" fill="#33f033"/>
<rect x="232.56" y="25.84" width="6.46" height="6.46" fill="#66ffff"/>
<rect x="239.02" y="25.84" width="6.46" height="6.46" fill="#ffff00"/>
<rect x="245.48" y="25.84" width="6.46" height="6.46" fill="#66ffff"/>
<rect x="251.94" y="25.84" width="12.92" height="6.46" fill="#ffff00"/>
<rect x="284.24" y="25.84" width="6.46" height="6.46" fill="#66ffff"/>
<rect x="290.70" y="25.84" width="6.46" height="6.46" fill="#ffff00"/>
<rect x="71.06" y="32.30" width="6.46" height="6.46" fill="#ffff00"/>
<rect x="77.52" y="32.30" width="6.46" height="6.46" fill="#66ffff"/>
<rect x="83.98" y="32.30" width="12.92" height="6.46" fill="#ffff00"/>
<rect x="142.12" y="32.30" width="6.46" height="6.46" fill="#66ffff"/>
<rect x="167.96" y="32.30" width="6.46" height="6.46" fill="#66ffff"/>
<rect x="174.42" y="32.30" width="6.46" height="6.46" fill="#ffff00"/>
<rect x="193.80" y="32.30" width="12.92" height="6.46" fill="#ffff00"/>
<rect x="219.64" y="32.30" width="6.46" height="6.46" fill="#ffff00"/>
<rect x="226.10" y="32.30" width="6.46" height="6.46" fill="#66ffff"/>
<rect x="232.56" y="32.30" width="19.38" height="6.46" fill="#ffff00"/>
<rect x="251.94" y="32.30" width="12.92" height="6.46" fill="#66ffff"/>
<rect x="38.76" y="38.76" width="6.46" height="6.46" fill="#66ffff"/>
<rect x="45.22" y="38.76" width="6.46" height="6.46" fill="#ffff00"/>
<rect x="58.14" y="38.76" width="6.46" height="6.46" fill="#ffff00"/>
<rect x="77.52" y="38.76" width="6.46" height="6.46" fill="#ffff00"/>
<rect x="109.82" y="38.76" width="6.46" height="6.46" fill="#ffff00"/>
<rect x="219.64" y="38.76" width="6.46" height="6.46" fill="#ffff00"/>
<rect x="226.10" y="38.76" width="6.46" height="6.46" fill="#66ffff"/>
<rect x="232.56" y="38.76" width="19.38" height="6.46" fill="#ffff00"/>
<rect x="251.94" y="38.76" width="12.92" height="6.46" fill="#66ffff"/>
<rect x="277.78" y="38.76" width="6.46" height="6.46" fill="#ffff00"/>
<rect x="284.24" y="38.76" width="6.46" height="6.46" fill="#66ffff"/>
<rect x="290.70" y="38.76" width="6.46" height="6.46" fill="#ffff00"/>
<rect x="12.92" y="45.22" width="6.46" height="6.46" fill="#66ffff"/>
<rect x="38.76" y="45.22" width="6.46" height="6.46" fill="#ffff00"/>
<rect x="51.68" y="45.22" width="12.92" height="6.46" fill="#ffff00"/>
<rect x="77.52" y="45.22" width="6.46" height="6.46" fill="#ffff00"/>
<rect x="109.82" y="45.22" width="6.46" height="6.46" fill="#66ffff"/>
<rect x="148.58" y="45.22" width="6.46" height="6.46" fill="#ffff00"/>
<rect x="161.50" y="45.22" width="6.46" height="6.46" fill="#ffff00"/>
<rect x="167.96" y="45.22" width="6.46" height="6.46" fill="#66ffff"/>
<rect x="180.88" y="45.22" width="6.46" height="6.46" fill="#66ffff"/>
<rect x="213.18" y="45.22" width="6.46" height="6.46" fill="#ffff00"/>
<rect x="219.64" y="45.22" width="6.46" height="6.46" fill="#66ffff"/>
<rect x="226.10" y="45.22" width="6.46" height="6.46" fill="#33f033"/>
<rect x="232.56" y="45.22" width="12.92" height="6.46" fill="#66ffff"/>
<rect x="245.48" y="45.22" width="6.46" height="6.46" fill="#ffff00"/>
<rect x="251.94" y="45.22" width="12.92" height="6.46" fill="#66ffff"/>
<rect x="277.78" y="45.22" width="6.46" height="6.46" fill="#ffff00"/>
<rect x="284.24" y="45.22" width="6.46" height="6.46" fill="#66ffff"/>
<rect x="290.70" y="45.22" width="6.46" height="6.46" fill="#ffff00"/>
<rect x="38.76" y="51.68" width="6.46" height="6.46" fill="#66ffff"/>
<rect x="58.14" y="51.68" width="6.46" height="6.46" fill="#ffff00"/>
<rect x="109.82" y="51.68" width="6.46" height="6.46" fill="#ffff00"/>
<rect x="219.64" y="51.68" width="6.46" height="6.46" fill="#ffff00"/>
<rect x="226.10" y="51.68" width="6.46" height="6.46" fill="#66ffff"/>
<rect x="232.56" y="51.68" width="19.38" height="6.46" fill="#ffff00"/>
<rect x="251.94" y="51.68" width="12.92" height="6.46" fill="#66ffff"/>
<rect x="271.32" y="51.68" width="6.46" height="6.46" fill="#66ffff"/>
<rect x="284.24" y="51.68" width="6.46" height="6.46" fill="#66ffff"/>
<rect x="290.70" y="51.68" width="6.46" height="6.46" fill="#ffff00"/>
<path d="M0.00 0V58.14M6.46 0V58.14M12.92 0V58.14M19.38 0V58.14M25.84 0V58.14M32.30 0V58.14M38.76 0V58.14M45.22 0V58.14M51.68 0V58.14M58.14 0V58.14M64.60 0V58.14M71.06 0V58.14M77.52 0V58.14M83.98 0V58.14M90.44 0V58.14M96.90 0V58.14M103.36 0V58.14M109.82 0V58.14M116.28 0V58.14M122.74 0V58.14M129.20 0V58.14M135.66 0V58.14M142.12 0V58.14M148.58 0V58.14M155.04 0V58.14M161.50 0V58.14M167.96 0V58.14M174.42 0V58.14M180.88 0V58.14M187.34 0V58.14M193.80 0V58.14M200.26 0V58.14M206.72 0V58.14M213.18 0V58.14M219.64 0V58.14M226.10 0V58.14M232.56 0V58.14M239.02 0V58.14M245.48 0V58.14M251.94 0V58.14M258.40 0V58.14M264.86 0V58.14M271.32 0V58.14M277.78 0V58.14M284.24 0V58.14M290.70 0V58.14M297.16 0V58.14M0 0.00H297.16M0 6.46H297.16M0 12.92H297.16M0 19.38H297.16M0 25.84H297.16M0 32.30H297.16M0 38.76H297.16M0 45.22H297.16M0 51.68H297.16M0 58.14H297.16" stroke="#111" stroke-width="1.3" fill="none" stroke-linecap="square"/>
</g>
<path d="M46.2 782.5H661" stroke="#222" stroke-width="1.3" fill="none"/>
<path d="M46.20 782.5V793.2M110.80 782.5V793.2M175.40 782.5V793.2M240.00 782.5V793.2M304.60 782.5V793.2M369.20 782.5V793.2M433.80 782.5V793.2M498.40 782.5V793.2M563.00 782.5V793.2M627.60 782.5V793.2" stroke="#222" stroke-width="1.3" fill="none"/>
<path d="M343.76 714.93H365.3" stroke="#a4a4a4" stroke-width="1.1" fill="none"/>
<path d="M343.76 721.39H473.0" stroke="#a4a4a4" stroke-width="1.1" fill="none"/>
<path d="M343.76 727.85H365.3" stroke="#a4a4a4" stroke-width="1.1" fill="none"/>
<path d="M343.76 734.31H473.0" stroke="#a4a4a4" stroke-width="1.1" fill="none"/>
<path d="M343.76 740.77H365.3" stroke="#a4a4a4" stroke-width="1.1" fill="none"/>
<path d="M343.76 747.23H473.0" stroke="#a4a4a4" stroke-width="1.1" fill="none"/>
<path d="M343.76 753.69H365.3" stroke="#a4a4a4" stroke-width="1.1" fill="none"/>
<path d="M343.76 760.15H473.0" stroke="#a4a4a4" stroke-width="1.1" fill="none"/>
<path d="M343.76 766.61H365.3" stroke="#a4a4a4" stroke-width="1.1" fill="none"/>
</svg>
<div class="ch" style="top:21.6px">1</div>
<div class="ch" style="top:86.2px">2</div>
<div class="ch" style="top:150.8px">3</div>
<div class="ch" style="top:215.4px">4</div>
<div class="ch" style="top:280.1px">5</div>
<div class="ch" style="top:344.7px">6</div>
<div class="ch" style="top:409.2px">7</div>
<div class="ch" style="top:473.8px">8</div>
<div class="ch" style="top:538.4px">9</div>
<div class="ch" style="top:603.0px">10</div>
<div class="ch" style="top:667.6px">11</div>
<div class="ch" style="top:732.2px">12</div>
<div class="t b" style="left:7.9px;top:395.9px;font-size:17.5px;width:0;height:0;"><div style="position:absolute;transform:translate(-50%,-50%) rotate(-90deg) scaleX(0.985);white-space:nowrap;line-height:1;">Chromosome</div></div>
<div class="ax" style="left:45.6px"><span>0</span></div>
<div class="ax" style="left:110.2px"><span>5</span></div>
<div class="ax" style="left:174.8px"><span>10</span></div>
<div class="ax" style="left:239.4px"><span>15</span></div>
<div class="ax" style="left:304.0px"><span>20</span></div>
<div class="ax" style="left:368.6px"><span>25</span></div>
<div class="ax" style="left:433.2px"><span>30</span></div>
<div class="ax" style="left:497.8px"><span>35</span></div>
<div class="ax" style="left:562.4px"><span>40</span></div>
<div class="ax" style="left:627.0px"><span>45</span></div>
<div class="t b" style="left:337px;top:816.3px;font-size:14.3px;transform:scaleX(0.94);transform-origin:0 0;">Mbp</div>
<div class="lb" style="top:506.6px;background-color:#fff;"></div>
<div class="lg" style="top:505.7px">No markers</div>
<div class="lb" style="top:528.2px;background-color:#ffff00;"></div>
<div class="lg" style="top:527.3px">1 marker</div>
<div class="lb" style="top:549.8px;background-color:#66ffff;"></div>
<div class="lg" style="top:548.9px">2-3 markers</div>
<div class="lb" style="top:571.4px;background-color:#33f033;"></div>
<div class="lg" style="top:570.5px">4-5 markers</div>
<div class="lb" style="left:530px;top:593px;background-color:#2dbd7a;overflow:hidden"><svg width="12" height="12" style="position:absolute;left:0;top:0;display:block"><rect width="12" height="12" fill="url(#dp2)"/></svg></div>
<div class="lg" style="top:592.1px">6+ markers</div>
<div class="v" style="left:368.3px;top:710.3px">IR64</div>
<div class="v" style="left:476.0px;top:716.8px">IR71033</div>
<div class="v" style="left:368.3px;top:723.2px">IR65482</div>
<div class="v" style="left:476.0px;top:729.7px">Sunaulo Sugandha</div>
<div class="v" style="left:368.3px;top:736.2px">Anamol Masuli</div>
<div class="v" style="left:476.0px;top:742.6px">Khumal-4</div>
<div class="v" style="left:368.3px;top:749.1px">IRBB-60</div>
<div class="v" style="left:476.0px;top:755.5px">Loktantra</div>
<div class="v" style="left:368.3px;top:762.0px">Sugandha-1</div>
</body></html>
